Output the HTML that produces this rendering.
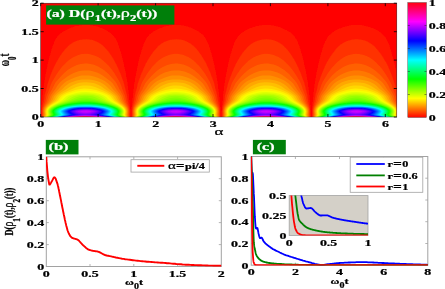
<!DOCTYPE html>
<html><head><meta charset="utf-8"><title>Figure</title>
<style>html,body{margin:0;padding:0;background:#fff}svg{display:block}</style></head><body>
<svg width="445" height="289" viewBox="0 0 445 289" font-family="Liberation Serif, serif" font-weight="bold">
<rect width="445" height="289" fill="#fff"/>
<defs><filter id="bl" x="-5%" y="-5%" width="110%" height="110%"><feGaussianBlur stdDeviation="0.3"/></filter><clipPath id="hc"><rect x="40.7" y="3.2" width="356.1" height="113.8"/></clipPath></defs>
<rect x="40.7" y="3.2" width="356.1" height="113.8" fill="#ff0000"/>
<g clip-path="url(#hc)"><g filter="url(#bl)">
<rect x="40.7" y="3.2" width="356.1" height="113.8" fill="#ff0000"/>
<path fill="#ff1800" fill-rule="evenodd" d="M41.1 117l89.4 0 -0.2 -2 0.1 -4.1 -0.2 -3.3 -0.8 -6.6 -0.4 -5.6 -1.8 -13.7 -1.6 -9.2 -2.4 -11.1 -2.5 -9.4 -2.3 -7.2 -1.7 -4 -1.8 -3.1 -1 -1.3 -1.2 -1.3 -2.8 -2.4 -1.7 -1.3 -2 -1.1 -4.3 -2.1 -4.7 -1.6 -4.8 -1.1 -4.2 -0.6 -4.3 0 -4.2 0.5 -4.3 0.9 -4.7 1.6 -4.3 1.8 -3.7 2.2 -1.5 1.1 -1.5 1.3 -1.8 1.8 -1.5 2 -1.3 2.3 -1.2 2.8 -1.4 3.6 -1.4 4.8 -1.8 6.4 -1.4 5.6 -2.1 10.5 -1.7 9.7 -0.6 5.5 -0.8 6.2 -0.4 5.5 -0.9 6.7 -0.1 3.2 0 4.1zM131.4 117l89.3 0 -0.2 -2 0.1 -4.1 -0.2 -3.3 -0.8 -6.6 -0.4 -5.6 -1.8 -13.7 -1.6 -9.2 -2.4 -11.2 -2.5 -9.3 -2.3 -7.2 -1.7 -4 -1.8 -3.1 -1 -1.3 -1.2 -1.4 -2.8 -2.3 -1.7 -1.3 -2 -1.1 -4.3 -2.1 -4.7 -1.6 -4.8 -1.1 -4.2 -0.6 -4.3 0 -4.2 0.5 -4.3 0.9 -4.7 1.6 -4.2 1.8 -3.8 2.3 -1.5 1.1 -1.5 1.2 -1.7 1.9 -1.5 1.9 -1.4 2.3 -1.2 2.8 -1.4 4 -1.5 4.9 -1.8 6.3 -1.3 5.6 -2.1 10.1 -1.7 9.8 -0.6 5.4 -0.8 6.2 -0.4 5.5 -0.9 6.7 -0.1 3.2 0 4.1zM221.6 117l89.3 0 -0.1 -2 0 -4.1 -0.2 -3.3 -0.8 -6.6 -0.4 -5.6 -1.7 -13.7 -1.7 -9.2 -2.4 -11.2 -2.5 -9.3 -2.3 -7.2 -1.7 -4 -1.8 -3.1 -1 -1.3 -1.2 -1.4 -2.8 -2.4 -1.7 -1.2 -2 -1.1 -4.3 -2.1 -4.7 -1.6 -4.7 -1.1 -4.3 -0.6 -4.2 0 -4.3 0.5 -4.2 0.9 -4.8 1.6 -4.2 1.8 -2 1.1 -1.8 1.2 -1.5 1.1 -1.5 1.2 -1.7 1.9 -1.5 2 -1.3 2.2 -1.3 2.8 -1.4 4 -1.5 4.9 -1.8 6.4 -1.3 5.5 -2.1 10.1 -1.7 9.8 -0.6 5.4 -0.8 6.2 -0.4 5.5 -0.8 6.7 -0.2 3.2 0 4.1zM311.8 117l85 0 0 -41.4 -2.2 -11.1 -2.3 -9 -2.7 -9.2 -1.3 -3.4 -1.1 -2.5 -1.7 -2.8 -2.2 -2.6 -2.7 -2.4 -3.3 -2.1 -4 -1.9 -4.2 -1.6 -4.5 -1.2 -2.3 -0.5 -2.5 -0.3 -4 -0.1 -3.7 0.2 -4.3 0.8 -4.2 1.2 -4.3 1.6 -3.7 1.9 -3.3 2.1 -2.7 2.4 -1.6 1.7 -1.4 2.2 -1.3 2.3 -1.3 3.1 -1.4 4.4 -1.9 6.4 -1.5 5.6 -1.2 5.6 -1.6 7.7 -1.4 8 -1.6 13 -0.5 5.9 -0.9 7.1 -0.1 2.9 0.1 4z"/>
<path fill="#ff3000" fill-rule="evenodd" d="M41.6 117l88.4 0 -0.3 -2 0.1 -4.1 -0.3 -3.2 -1.7 -6.7 -0.8 -5.5 -1.7 -6.2 -1.3 -5.8 -0.6 -1.9 -3 -8.1 -2.5 -5.8 -2.4 -4.9 -2.1 -3.8 -2.5 -3.9 -2.7 -3.8 -2.5 -2.9 -2.3 -2.3 -2.5 -2.1 -2.5 -1.6 -2.5 -1.2 -3.2 -1.1 -3.3 -0.6 -3.2 -0.2 -3.5 0.2 -3.3 0.5 -3 0.9 -3 1.4 -2.7 1.7 -2.8 2.3 -2.5 2.6 -2.7 3.4 -2.8 3.9 -2.2 3.7 -2 3.7 -2.3 4.7 -2.5 5.8 -3.1 8.8 -1.5 6.4 -1.7 6.3 -0.8 5.4 -1.2 4.6 -0.6 2.6 -0.2 2.9 0.1 3.9zM131.8 117l88.4 0 -0.3 -2 0.1 -4.1 -0.3 -3.2 -1.7 -6.7 -0.8 -5.5 -1.7 -6.2 -1.3 -5.8 -0.6 -2 -3 -8 -2.5 -5.8 -2.3 -4.9 -2.2 -3.8 -2.5 -3.9 -2.7 -3.8 -2.5 -3 -2.3 -2.2 -2.5 -2.1 -2.5 -1.6 -2.4 -1.2 -3.3 -1.1 -3.3 -0.6 -3.2 -0.2 -3.5 0.2 -3.3 0.5 -3 0.9 -3 1.4 -2.7 1.7 -2.7 2.3 -2.5 2.6 -2.8 3.4 -2.7 4 -2.3 3.6 -2 3.7 -2.2 4.7 -2.5 5.8 -3.2 8.8 -1.5 6.4 -1.7 6.3 -0.8 5.4 -1.2 4.6 -0.5 2.6 -0.3 2.9 0.1 3.9zM222 117l88.5 0 -0.3 -2 0 -4.1 -0.3 -3.2 -1.7 -6.7 -0.8 -5.5 -1.6 -6.2 -1.3 -5.8 -0.7 -2 -3 -8.1 -2.5 -5.7 -2.3 -4.9 -2.2 -3.8 -2.5 -3.9 -2.7 -3.8 -2.5 -3 -2.3 -2.3 -2.5 -2 -2.4 -1.6 -2.5 -1.2 -3.3 -1.1 -3.2 -0.6 -3.3 -0.2 -3.5 0.2 -3.2 0.5 -3 0.9 -3 1.4 -2.8 1.8 -2.7 2.2 -2.5 2.6 -2.8 3.4 -2.7 4 -2.3 3.6 -2 3.7 -2.2 4.7 -2.5 5.9 -3.2 8.7 -1.5 6.4 -1.7 6.3 -0.7 5.4 -1.3 4.6 -0.5 2.6 -0.3 2.9 0.1 3.9zM312.3 117l84.5 0 0 -24.8 -0.8 -2.9 -1.5 -6.4 -2.9 -8.2 -3.5 -8.1 -2 -4 -1.8 -3.2 -2.2 -3.6 -2.8 -3.8 -2.5 -3.1 -2.2 -2.4 -2.3 -1.9 -2.5 -1.7 -2.5 -1.4 -2.5 -0.9 -3.2 -0.9 -3.3 -0.4 -3.2 0 -3.3 0.4 -3 0.7 -3 1.1 -2.7 1.4 -2.8 1.9 -2.5 2.3 -2.5 2.7 -2.7 3.6 -2.5 3.6 -2.3 3.8 -2 3.8 -2 4.3 -2.3 5.6 -3.1 8.4 -1.4 6.4 -1.7 6.3 -0.8 5.4 -1.2 4.6 -0.6 2.6 -0.2 2.9 0.1 3.9z"/>
<path fill="#ff4800" fill-rule="evenodd" d="M42 117l87.6 0 -0.5 -2 0.2 -3.9 -0.4 -2.9 -0.8 -2.6 -1.2 -2.7 -0.7 -1.9 -1.1 -5.3 -2.7 -6.4 -1.2 -3.7 -1 -2.7 -0.9 -1.6 -3.3 -5.6 -1.8 -2.9 -3 -4.1 -2.5 -3 -2.8 -2.8 -2.5 -2.2 -2.5 -1.9 -2.7 -1.7 -2.5 -1.2 -2.8 -1 -2.7 -0.7 -2.8 -0.4 -3 0 -2.7 0.3 -2.8 0.7 -3 1.1 -2.7 1.3 -2.8 1.8 -2.7 2.1 -2.5 2.3 -3 3.2 -2.5 3.1 -3 4.2 -4.8 8.2 -1.3 2.8 -1.5 4.5 -2.4 5.9 -0.4 1.2 -0.9 4.5 -0.7 1.9 -1.1 2.5 -0.7 2.1 -0.3 1.6 -0.2 1.8 0.1 4.1zM132.3 117l87.5 0 -0.5 -2 0.2 -3.9 -0.4 -2.9 -0.8 -2.6 -1.2 -2.7 -0.7 -1.9 -1.1 -5.3 -2.6 -6.4 -1.3 -3.7 -1 -2.7 -0.9 -1.6 -3.2 -5.6 -1.9 -2.9 -3 -4.1 -2.5 -3 -2.8 -2.8 -2.5 -2.3 -2.5 -1.8 -2.7 -1.7 -2.5 -1.2 -2.8 -1.1 -2.7 -0.6 -2.8 -0.4 -3 0 -3 0.4 -2.7 0.7 -2.8 1 -2.7 1.3 -2.8 1.8 -2.7 2.1 -2.5 2.3 -3 3.2 -2.5 3.1 -3 4.2 -4.8 8.2 -1.2 2.8 -1.5 4.5 -2.5 5.9 -0.4 1.2 -0.9 4.5 -0.7 1.9 -1.1 2.5 -0.7 2.1 -0.3 1.6 -0.2 1.8 0.1 4.1zM222.5 117l87.5 0 -0.4 -2 0.1 -3.9 -0.4 -2.9 -0.8 -2.6 -1.1 -2.7 -0.7 -1.9 -1.2 -5.3 -2.6 -6.4 -1.2 -3.7 -1.1 -2.7 -0.8 -1.6 -3.3 -5.6 -1.9 -3 -3 -4 -2.5 -3 -2.8 -2.8 -2.5 -2.3 -2.5 -1.8 -2.7 -1.7 -2.5 -1.2 -2.7 -1.1 -2.8 -0.6 -2.7 -0.4 -3 0 -3 0.4 -2.8 0.7 -2.7 1 -2.8 1.3 -2.7 1.8 -2.8 2.1 -2.5 2.3 -3 3.2 -2.5 3.1 -3 4.2 -4.8 8.2 -1.2 2.8 -1.5 4.5 -2.5 5.9 -0.4 1.2 -0.9 4.5 -0.7 1.9 -1 2.5 -0.8 2.1 -0.3 1.6 -0.2 1.8 0.1 4.1zM312.7 117l84.1 0 0 -16.3 -0.9 -4.5 -1.3 -3.4 -1.5 -3.5 -1.3 -4 -1.2 -2.8 -4 -7.1 -1.8 -2.7 -2.5 -3.4 -2.2 -2.7 -2.5 -2.7 -2.5 -2.4 -2.5 -2 -2.5 -1.7 -2.8 -1.5 -2.7 -1.1 -2.8 -0.8 -2.7 -0.5 -2.8 -0.2 -2.7 0.2 -2.8 0.5 -2.7 0.9 -2.5 1 -2.8 1.5 -2.7 1.9 -2.5 2 -2.5 2.5 -2.8 3 -2 2.5 -3 4.2 -4.8 8.2 -1.2 2.8 -1.5 4.5 -2.5 5.9 -0.3 1.2 -1 4.5 -0.6 1.9 -1.1 2.5 -0.7 2.1 -0.4 1.6 -0.2 1.8 0.2 4.1z"/>
<path fill="#ff6000" fill-rule="evenodd" d="M42.5 117l86.6 0 -0.6 -2 0.2 -4.1 -0.3 -1.8 -0.4 -1.6 -1 -2.1 -1.4 -2.5 -0.9 -1.9 -0.5 -1.4 -0.8 -3 -0.4 -1.2 -1.6 -2.9 -1.9 -3.2 -1.6 -3.4 -1.5 -2.8 -1.3 -1.8 -4.7 -5.4 -1.5 -1.6 -1.7 -1.6 -3.3 -2.6 -2.5 -1.7 -2.7 -1.6 -2.8 -1.2 -2.7 -1 -2.8 -0.7 -2.7 -0.3 -2.5 -0.1 -2.8 0.2 -2.7 0.6 -2.8 0.8 -2.7 1.1 -2.5 1.3 -2.5 1.5 -2.8 2.1 -2.5 2.1 -2.7 2.7 -4.7 5.4 -1.3 1.8 -1.5 2.8 -1.6 3.4 -1.9 3.2 -1.6 2.9 -0.4 1.2 -0.8 3 -0.4 1.4 -1 1.9 -1.4 2.5 -1 2.1 -0.4 1.6 -0.3 1.8 0.2 4.1zM132.7 117l86.6 0 -0.6 -2 0.2 -4.1 -0.3 -1.8 -0.4 -1.6 -1 -2.1 -1.4 -2.5 -0.9 -1.9 -0.5 -1.4 -0.7 -3 -0.5 -1.2 -1.6 -2.9 -1.9 -3.2 -1.6 -3.5 -1.5 -2.7 -1.3 -1.8 -4.7 -5.4 -1.5 -1.6 -1.7 -1.6 -3.3 -2.6 -2.5 -1.7 -2.7 -1.6 -2.8 -1.3 -2.7 -0.9 -2.8 -0.7 -2.7 -0.3 -2.5 -0.1 -2.8 0.2 -2.7 0.6 -2.8 0.8 -2.7 1.1 -2.5 1.3 -2.5 1.6 -2.7 2 -2.5 2.1 -2.8 2.7 -4.6 5.4 -1.4 1.8 -1.5 2.8 -1.5 3.4 -2 3.3 -1.5 2.8 -0.5 1.2 -0.7 3 -0.5 1.4 -0.9 1.9 -1.5 2.5 -1 2.1 -0.4 1.6 -0.3 1.8 0.2 4.1zM222.9 117l86.7 0 -0.6 -2 0.1 -4.1 -0.2 -1.8 -0.5 -1.6 -0.9 -2.1 -1.5 -2.5 -0.9 -1.9 -0.5 -1.4 -0.7 -3 -0.5 -1.2 -1.6 -2.9 -1.9 -3.2 -1.6 -3.5 -1.5 -2.7 -1.3 -1.8 -4.7 -5.4 -1.5 -1.6 -1.7 -1.6 -3.3 -2.6 -2.5 -1.7 -2.7 -1.6 -2.7 -1.3 -2.8 -0.9 -2.7 -0.7 -2.8 -0.3 -2.5 -0.1 -2.7 0.2 -2.8 0.6 -2.7 0.8 -2.8 1.1 -2.5 1.3 -2.5 1.6 -2.7 2 -2.5 2.1 -2.8 2.7 -4.6 5.4 -1.4 1.8 -1.5 2.8 -1.5 3.4 -2 3.3 -1.5 2.8 -0.5 1.2 -0.7 3 -0.5 1.4 -0.9 1.9 -1.5 2.5 -0.9 2.1 -0.5 1.6 -0.2 1.8 0.1 4.1zM313.2 117l83.6 0 0 -13.1 -0.8 -1.5 -0.8 -1.7 -1.1 -4.1 -0.5 -1.4 -1.5 -2.7 -2 -3.2 -1.3 -3 -1.2 -2.3 -0.9 -1.5 -1.1 -1.5 -5.5 -6.2 -2 -1.9 -2.3 -1.8 -2.7 -2.1 -2.5 -1.5 -2.5 -1.3 -2.8 -1.1 -2.7 -0.8 -2.5 -0.5 -2.8 -0.3 -2.5 0.1 -2.7 0.3 -2.8 0.6 -2.7 1 -2.5 1.1 -2.5 1.3 -2.3 1.5 -2.7 2.1 -2.3 1.9 -2.2 2.2 -4.5 5.2 -1.8 2.4 -1.5 2.7 -1.5 3.4 -1.9 3.2 -1.6 2.9 -0.5 1.2 -0.7 3 -0.5 1.4 -0.9 1.9 -1.4 2.5 -1 2.2 -0.5 1.5 -0.2 1.8 0.2 4.1z"/>
<path fill="#ff7800" fill-rule="evenodd" d="M42.9 117l85.8 0 -0.8 -2 0.2 -4.1 -0.3 -1.8 -0.5 -1.5 -1.3 -2.2 -1.8 -2.5 -1.2 -1.9 -0.6 -1.5 -0.9 -2.9 -0.6 -1.2 -2 -2.9 -2.6 -3.2 -2.4 -4 -1.6 -2.2 -1.6 -1.6 -7.3 -5.6 -2 -1.2 -2.2 -1.2 -2.3 -1 -2.5 -0.8 -2.5 -0.7 -2.7 -0.4 -2.8 -0.2 -2.5 0.1 -2.7 0.3 -2.8 0.5 -2.7 0.9 -2.5 1 -2.5 1.2 -2.5 1.5 -5.8 4.4 -2.1 1.8 -1 1.1 -1.1 1.4 -1.3 1.8 -1.6 2.9 -2.4 3 -1.8 2.4 -0.9 1.7 -1 3.2 -0.6 1.4 -1.2 1.9 -1.9 2.7 -1.4 2.5 -0.4 1.3 -0.2 1.6 0.2 4zM133.2 117l85.7 0 -0.8 -2 0.3 -4.1 -0.4 -1.8 -0.5 -1.5 -1.2 -2.2 -1.9 -2.5 -1.2 -1.9 -0.6 -1.5 -0.9 -2.9 -0.6 -1.2 -2 -2.9 -2.6 -3.2 -2.4 -4.1 -1.7 -2.2 -1.5 -1.5 -7.3 -5.6 -2 -1.2 -2.2 -1.2 -2.5 -1.1 -2.5 -0.8 -2.5 -0.6 -2.8 -0.4 -2.7 -0.2 -2.5 0.1 -2.8 0.3 -2.7 0.6 -2.8 0.9 -2.5 1 -2.5 1.2 -2.2 1.4 -5.7 4.4 -2.2 1.8 -1 1.1 -1.1 1.4 -1.2 1.8 -1.7 2.9 -2.5 3.1 -1.7 2.4 -0.9 1.6 -1 3.2 -0.6 1.4 -1.2 1.9 -1.9 2.7 -1.4 2.5 -0.3 1.3 -0.3 1.6 0.2 4zM223.4 117l85.7 0 -0.7 -2 0.2 -4.1 -0.3 -1.8 -0.6 -1.5 -1.2 -2.2 -1.8 -2.5 -1.2 -1.9 -0.6 -1.5 -0.9 -2.9 -0.6 -1.2 -2.1 -2.9 -2.5 -3.2 -2.5 -4 -1.6 -2.3 -1.6 -1.5 -7.3 -5.6 -2 -1.2 -2.2 -1.2 -2.2 -1 -2.5 -0.8 -2.5 -0.7 -2.8 -0.4 -2.7 -0.2 -2.5 0.1 -2.8 0.3 -2.7 0.5 -2.8 0.9 -2.5 1 -2.5 1.2 -2.5 1.5 -5.7 4.4 -2.1 1.8 -1.1 1.1 -1.1 1.4 -1.2 1.8 -1.7 2.9 -2.4 3 -1.7 2.4 -1 1.7 -1 3.2 -0.6 1.4 -1.2 1.9 -1.9 2.7 -1.3 2.5 -0.4 1.3 -0.3 1.6 0.2 4zM313.6 117l83.2 0 0 -11.4 -1.9 -2.7 -1.2 -1.9 -0.6 -1.5 -0.9 -2.9 -0.6 -1.2 -2 -2.9 -2.6 -3.2 -1.7 -2.9 -1.3 -1.9 -1.4 -1.8 -1.5 -1.5 -7.5 -5.6 -2.3 -1.4 -2.2 -1.1 -2.3 -0.9 -2.5 -0.7 -2.5 -0.6 -2.7 -0.4 -2.5 -0.1 -2.8 0.1 -2.7 0.4 -2.5 0.6 -2.8 0.9 -2.5 1 -2.5 1.3 -2.2 1.4 -5.8 4.4 -2 1.7 -2 2.4 -1.2 1.8 -1.6 2.9 -2.5 3.1 -1.8 2.4 -0.9 1.6 -1 3.2 -0.6 1.4 -1.1 1.9 -2 2.7 -1.3 2.5 -0.4 1.3 -0.3 1.6 0.3 4z"/>
<path fill="#ff8f00" fill-rule="evenodd" d="M43.4 117l84.8 0 -0.5 -0.9 -0.4 -1.1 0.3 -4.1 -0.4 -1.8 -0.6 -1.5 -1.6 -2.2 -2.2 -2.5 -1.4 -1.9 -0.8 -1.5 -1.1 -2.9 -0.7 -1.2 -2.5 -2.9 -3.3 -3.2 -1.6 -2.2 -1.5 -1.8 -1.8 -1.8 -1.4 -1.1 -2 -1.3 -3 -1.5 -4 -1.8 -3 -1 -2.8 -0.8 -2.5 -0.4 -2.5 -0.2 -2.5 0 -2.5 0.2 -2.5 0.5 -2.2 0.6 -2.3 0.7 -3 1.3 -2.7 1.2 -2.3 1.2 -1.7 1.1 -1.5 1.2 -2.6 2.6 -2.6 3.3 -3.2 3.2 -2.5 2.9 -0.7 1.2 -1.1 2.9 -0.8 1.5 -1.4 1.9 -2.4 2.7 -1.1 1.6 -0.5 0.9 -0.5 1.3 -0.3 1.6 0.3 4 -0.4 1.1zM133.6 117l84.8 0 -0.5 -0.9 -0.4 -1.1 0.3 -4.1 -0.4 -1.8 -0.6 -1.5 -1.5 -2.2 -2.2 -2.5 -1.5 -1.9 -0.7 -1.5 -1.1 -2.9 -0.8 -1.2 -2.5 -2.9 -3.3 -3.2 -1.6 -2.2 -1.5 -1.8 -1.8 -1.8 -1.4 -1.1 -2 -1.3 -3 -1.5 -4 -1.8 -3 -1.1 -2.8 -0.7 -2.5 -0.4 -2.5 -0.2 -2.5 0 -2.5 0.2 -2.5 0.5 -2.2 0.6 -2.3 0.7 -3 1.3 -2.7 1.2 -2.2 1.2 -1.8 1.1 -1.5 1.2 -2.6 2.6 -2.6 3.3 -3.1 3.2 -2.6 2.9 -0.7 1.2 -1.1 2.9 -0.7 1.5 -1.5 1.9 -2.3 2.7 -1.2 1.6 -0.5 0.9 -0.4 1.3 -0.3 1.6 0.2 4 -0.4 1.1zM223.8 117l84.9 0 -0.6 -0.9 -0.3 -1.1 0.2 -4.1 -0.4 -1.8 -0.6 -1.5 -1.5 -2.2 -2.2 -2.5 -1.5 -1.9 -0.7 -1.5 -1.1 -2.9 -0.8 -1.2 -2.5 -2.9 -3.2 -3.2 -1.7 -2.2 -1.5 -1.8 -1.7 -1.8 -1.5 -1.1 -2 -1.3 -3 -1.5 -4 -1.8 -3 -1.1 -2.7 -0.7 -2.5 -0.4 -2.5 -0.2 -2.5 0 -2.5 0.2 -2.5 0.5 -2.3 0.6 -2.2 0.7 -3 1.3 -2.8 1.2 -2.2 1.2 -1.8 1.1 -1.5 1.2 -2.5 2.5 -2.6 3.4 -3.2 3.2 -2.5 2.9 -0.8 1.2 -1.1 2.9 -0.7 1.5 -1.5 1.9 -2.3 2.7 -1.2 1.6 -0.5 0.9 -0.4 1.3 -0.3 1.6 0.2 4 -0.3 1.1zM314.1 117l82.7 0 0 -10.1 -1.2 -1.6 -2.1 -2.4 -1.5 -1.9 -0.7 -1.5 -1.1 -2.9 -0.7 -1.2 -2.6 -2.9 -3.2 -3.2 -2.2 -2.9 -1.7 -1.9 -1.7 -1.6 -1.5 -1.1 -2 -1.1 -3.3 -1.6 -4 -1.7 -2.7 -0.9 -3 -0.7 -2.5 -0.3 -2.5 -0.1 -2.5 0.1 -2.5 0.3 -2.3 0.5 -2.5 0.7 -2.5 0.9 -3.2 1.4 -2.5 1.3 -1.8 1 -1.3 0.9 -1.4 1.1 -2.5 2.6 -2.4 3.1 -3.2 3.2 -2.7 3.1 -0.6 1 -1.1 2.9 -0.7 1.5 -1.5 1.9 -2.3 2.7 -1.1 1.6 -0.5 0.9 -0.5 1.3 -0.3 1.6 0.3 4 -0.4 1.1z"/>
<path fill="#ffa700" fill-rule="evenodd" d="M43.8 117l84 0 -0.6 -0.9 -0.5 -1.1 0.3 -3 0 -1.1 -0.5 -1.8 -0.7 -1.6 -1.8 -2.1 -2.6 -2.5 -1.7 -1.9 -0.9 -1.5 -1.3 -2.9 -0.9 -1.2 -3.1 -2.9 -4.7 -3.8 -2 -2 -1.4 -1.2 -2 -1.5 -1.9 -1.1 -1.8 -0.9 -2.3 -0.8 -2.5 -0.7 -2.5 -0.5 -2.7 -0.4 -2.5 -0.2 -2.8 0 -2.5 0.2 -2.7 0.4 -2.8 0.6 -2.7 0.8 -2.3 0.8 -2.6 1.4 -2.6 1.9 -1.3 1.1 -2.7 2.7 -4.5 3.5 -2.1 2 -1 1 -0.6 1 -1.3 3 -0.8 1.2 -1.6 1.8 -2.9 2.7 -1.3 1.7 -0.6 0.9 -0.5 1.3 -0.4 1.6 0.3 4 -0.4 1.1zM134.1 117l83.9 0 -0.6 -0.9 -0.5 -1.1 0.3 -3 0 -1.1 -0.4 -1.8 -0.8 -1.6 -1.7 -2.1 -2.6 -2.5 -1.8 -1.9 -0.9 -1.5 -1.3 -2.9 -0.9 -1.2 -3.1 -2.9 -4.7 -3.8 -1.9 -2 -1.5 -1.2 -2 -1.5 -1.9 -1.1 -1.8 -0.9 -2.3 -0.8 -2.5 -0.7 -2.5 -0.5 -2.7 -0.4 -2.5 -0.2 -2.8 0 -2.5 0.2 -2.7 0.4 -2.8 0.6 -2.7 0.8 -2.3 0.8 -2.6 1.4 -2.6 1.9 -1.3 1.1 -2.7 2.7 -4.5 3.5 -2.1 2 -0.9 1 -0.7 1 -1.3 3 -0.8 1.2 -1.6 1.8 -2.8 2.7 -1.4 1.7 -0.6 0.9 -0.5 1.3 -0.4 1.6 0.3 4 -0.4 1.1zM224.3 117l83.9 0 -0.6 -0.9 -0.5 -1.1 0.4 -3 0 -1.1 -0.5 -1.8 -0.8 -1.6 -1.7 -2.1 -2.6 -2.5 -1.7 -1.9 -0.9 -1.5 -1.4 -2.9 -0.8 -1.2 -3.1 -2.9 -4.8 -3.8 -1.9 -2 -1.5 -1.2 -2 -1.5 -1.9 -1.1 -1.8 -0.9 -2.2 -0.8 -2.5 -0.7 -2.5 -0.5 -2.8 -0.4 -2.5 -0.2 -2.7 0 -2.5 0.2 -2.8 0.4 -2.7 0.6 -2.8 0.8 -2.2 0.8 -2.7 1.4 -2.6 1.9 -1.3 1.1 -2.6 2.7 -4.5 3.5 -2.2 2 -0.9 1 -0.6 1 -1.4 3 -0.8 1.2 -1.6 1.8 -2.8 2.7 -1.4 1.7 -0.6 0.9 -0.5 1.3 -0.4 1.6 0.4 4 -0.5 1.1zM314.5 117l82.3 0 0 -8.9 -0.2 -0.4 -1.9 -2.3 -2.6 -2.5 -1.7 -1.9 -0.9 -1.5 -1.3 -2.9 -0.9 -1.2 -3 -2.8 -3.9 -3.1 -1.5 -1.3 -1.6 -1.7 -1.7 -1.4 -1.8 -1.3 -2 -1.1 -2 -0.9 -2.2 -0.8 -2.5 -0.6 -2.5 -0.5 -2.8 -0.3 -2.7 -0.2 -2.8 0.1 -2.5 0.2 -2.7 0.4 -2.5 0.6 -2.5 0.8 -2.3 0.8 -2.5 1.4 -2.6 1.9 -1.3 1.1 -2.4 2.5 -4.3 3.4 -2.4 2.1 -1 1.1 -0.6 1 -1.4 3 -0.7 1.2 -1.7 1.8 -2.8 2.8 -1.4 1.6 -0.6 0.9 -0.5 1.3 -0.4 1.6 0.4 4 -0.5 1.1z"/>
<path fill="#ffbf00" fill-rule="evenodd" d="M44.3 117l83 0 -0.7 -0.9 -0.5 -1.1 0.4 -3 0 -1.1 -0.6 -1.8 -0.9 -1.6 -2 -2.2 -3 -2.4 -2 -1.9 -1 -1.4 -1.6 -3 -1 -1.1 -3.8 -3 -4.2 -2.6 -1.6 -1 -3.3 -2.4 -2.8 -1.5 -3.6 -1.4 -1.9 -0.5 -2 -0.4 -2.3 -0.3 -2.2 -0.1 -2.5 0 -2.3 0.2 -2.2 0.3 -2 0.5 -2 0.6 -2 0.8 -3.4 1.7 -4 2.9 -4.9 2.9 -3.2 2.4 -1.4 1.3 -0.7 1 -1.5 2.8 -0.9 1.2 -2 1.9 -3.3 2.7 -1.5 1.7 -0.7 0.9 -0.6 1.3 -0.5 1.6 0.1 1 0.3 3 -0.5 1.1zM134.5 117l83 0 -0.7 -0.9 -0.5 -1.1 0.4 -3 0 -1.1 -0.6 -1.8 -0.8 -1.6 -2.1 -2.2 -3 -2.4 -2 -1.9 -1 -1.5 -1.6 -2.9 -1 -1.1 -3.8 -3 -4.2 -2.6 -1.6 -1 -3.3 -2.4 -2.8 -1.5 -3.6 -1.4 -1.9 -0.5 -2 -0.4 -2.3 -0.3 -2.2 -0.1 -2.5 0 -2.3 0.2 -2.2 0.3 -2 0.5 -2 0.6 -2 0.8 -3.4 1.7 -4 2.9 -4.8 2.9 -3.3 2.4 -1.4 1.3 -0.7 1 -1.5 2.8 -0.9 1.2 -2 1.9 -3.2 2.7 -1.6 1.7 -0.7 0.9 -0.6 1.3 -0.4 1.6 0 1 0.3 3 -0.5 1.1zM224.7 117l83.1 0 -0.7 -0.9 -0.6 -1.1 0.4 -3 0 -1.1 -0.5 -1.8 -0.9 -1.6 -2.1 -2.2 -2.9 -2.4 -2.1 -1.9 -1 -1.5 -1.6 -2.9 -0.9 -1.1 -3.9 -3 -4.2 -2.6 -1.6 -1 -3.3 -2.4 -2.8 -1.5 -1.8 -0.8 -1.9 -0.6 -3.8 -0.9 -2.2 -0.3 -2.3 -0.1 -2.5 0 -2.2 0.2 -2.3 0.3 -2 0.5 -2 0.6 -2 0.8 -3.4 1.7 -3.9 2.9 -4.8 2.9 -3.4 2.5 -1.4 1.2 -0.7 1 -1.5 2.8 -0.9 1.2 -2 1.9 -3.2 2.7 -1.6 1.7 -0.7 0.9 -0.6 1.3 -0.4 1.6 0 1 0.4 3 -0.6 1.1zM315 117l81.8 0 0 -7.3 -0.4 -1.1 -0.6 -1 -2.1 -2.2 -3 -2.5 -2 -1.9 -1.1 -1.5 -1.6 -2.9 -0.9 -1.1 -4 -3.1 -4.6 -2.8 -4.4 -3.1 -2.8 -1.5 -1.8 -0.8 -1.9 -0.6 -2 -0.6 -2 -0.3 -2.3 -0.3 -2.2 -0.1 -2.5 0 -2.3 0.2 -2.1 0.4 -2.1 0.5 -2 0.6 -2 0.8 -3.2 1.6 -3.9 2.9 -4.9 3 -3.3 2.4 -1.4 1.2 -0.7 1 -1.5 2.8 -0.9 1.2 -2 1.9 -3.2 2.7 -1.6 1.7 -0.7 0.9 -0.6 1.3 -0.4 1.6 0 1 0.4 3 -0.6 1.1z"/>
<path fill="#ffd700" fill-rule="evenodd" d="M44.8 117l82.1 0 -0.8 -0.9 -0.6 -1.1 0.4 -3 0 -1.1 -0.6 -1.8 -0.9 -1.4 -2.4 -2.3 -3.5 -2.6 -2.3 -1.9 -1.2 -1.4 -1.8 -2.8 -0.8 -0.9 -1.7 -1.3 -3.9 -2.3 -2.4 -1.1 -8.7 -3.9 -2.5 -0.8 -2.8 -0.6 -3.7 -0.4 -3.8 0.1 -3.7 0.7 -3.3 1 -11 5 -4 2.4 -1.9 1.4 -0.7 0.9 -1.8 2.8 -1 1.2 -2.4 1.9 -3.6 2.7 -1.8 1.6 -0.8 0.9 -0.7 1.3 -0.5 1.7 0 1 0.4 3 -0.6 1.1zM135 117l82.1 0 -0.8 -0.9 -0.6 -1.1 0.4 -3 0 -1.1 -0.6 -1.8 -0.9 -1.4 -2.4 -2.3 -3.5 -2.6 -2.3 -1.9 -1.2 -1.4 -1.7 -2.8 -0.9 -0.9 -1.7 -1.3 -3.8 -2.2 -2.5 -1.2 -8.7 -3.9 -2.5 -0.8 -2.8 -0.6 -3.7 -0.4 -3.8 0.1 -3.7 0.7 -3.3 1 -10.9 5 -4.1 2.4 -1.9 1.4 -0.7 0.9 -1.8 2.8 -1 1.2 -2.3 1.9 -3.7 2.7 -1.7 1.6 -0.8 0.9 -0.8 1.3 -0.5 1.7 0 1 0.4 3 -0.5 1.1zM225.2 117l82.1 0 -0.8 -0.9 -0.6 -1.1 0.4 -3 0 -1.1 -0.5 -1.8 -0.9 -1.4 -2.4 -2.3 -3.6 -2.6 -2.3 -1.9 -1.1 -1.4 -1.8 -2.8 -0.9 -0.9 -1.7 -1.3 -3.8 -2.2 -2.5 -1.2 -8.7 -3.9 -2.4 -0.8 -2.8 -0.6 -3.8 -0.4 -3.7 0.1 -3.8 0.7 -3.2 1 -11 5 -4 2.4 -2 1.4 -0.7 0.9 -1.8 2.8 -1 1.2 -2.3 1.9 -3.7 2.7 -1.7 1.6 -0.8 0.9 -0.7 1.3 -0.6 1.7 0.1 1 0.4 3 -0.6 1.1zM315.4 117l81.4 0 0 -0.9 -0.7 -1.1 0.4 -3 0 -1.1 -0.5 -1.8 -0.8 -1.3 -2.5 -2.4 -3.6 -2.6 -2.3 -1.9 -1.1 -1.4 -1.8 -2.8 -0.8 -0.9 -1.8 -1.3 -4 -2.4 -11 -4.9 -2.4 -0.8 -2.8 -0.6 -3.8 -0.4 -3.7 0.1 -3.8 0.7 -3.2 1 -11 5 -4 2.4 -2 1.4 -0.7 0.9 -1.8 2.8 -1 1.2 -2.3 1.9 -3.7 2.7 -1.7 1.6 -0.8 0.9 -0.7 1.3 -0.5 1.7 0 1 0.4 3 -0.6 1.1z"/>
<path fill="#ffef00" fill-rule="evenodd" d="M45.2 117l81.2 0 -0.9 -0.9 -0.6 -1.1 0.4 -3 0 -1 -0.5 -1.7 -0.9 -1.3 -0.9 -1 -2 -1.6 -4 -2.6 -2.6 -1.8 -1.3 -1.4 -2.4 -3.2 -1 -0.8 -1.5 -0.9 -4.6 -2.2 -4.4 -1.6 -3 -0.8 -3 -0.7 -2.5 -0.5 -2.5 -0.2 -3.8 -0.1 -4 0.4 -5.2 1.1 -5 1.6 -3.5 1.4 -3.3 1.6 -1.6 1 -1.1 1 -2.1 2.8 -1.3 1.4 -2.7 1.9 -3.9 2.5 -2.6 2.2 -1.1 1.6 -0.7 1.8 0 1.1 0.4 3 -0.6 1.1zM135.4 117l81.2 0 -0.8 -0.9 -0.7 -1.1 0.4 -3 0.1 -1 -0.6 -1.7 -0.9 -1.3 -0.9 -1 -2 -1.6 -4 -2.6 -2.6 -1.8 -1.3 -1.4 -2.3 -3.1 -1 -0.8 -1.4 -0.9 -4.7 -2.3 -4.3 -1.5 -3 -0.9 -3 -0.7 -2.7 -0.5 -2.3 -0.2 -3.7 -0.1 -4 0.4 -5.3 1.1 -5 1.5 -3.7 1.5 -3.2 1.6 -1.7 1 -1.1 1 -2.1 2.8 -1.3 1.4 -2.6 1.9 -3.9 2.5 -2.7 2.2 -1.1 1.6 -0.7 1.8 0 1.1 0.5 3 -0.7 1.1zM225.6 117l81.3 0 -0.9 -0.9 -0.7 -1.1 0.5 -3 0 -1 -0.6 -1.7 -0.8 -1.3 -1 -1 -2 -1.6 -4 -2.6 -2.5 -1.8 -1.4 -1.4 -2.3 -3.1 -1 -0.8 -1.4 -0.9 -4.7 -2.3 -4.3 -1.5 -5.7 -1.5 -2.7 -0.5 -2.5 -0.3 -3.8 -0.1 -4 0.4 -5.2 1.1 -5 1.5 -3.8 1.5 -3.2 1.6 -1.7 1 -1.1 1 -2.1 2.8 -1.3 1.4 -2.6 1.9 -3.9 2.5 -2.7 2.2 -1.1 1.6 -0.7 1.8 0 1.1 0.5 3 -0.7 1.1zM315.9 117l80.9 0 0 -0.3 -0.6 -0.6 -0.7 -1.1 0.5 -3 0 -1 -0.6 -1.7 -0.8 -1.3 -1 -1 -1.9 -1.6 -4.1 -2.6 -2.5 -1.8 -1.4 -1.4 -2.4 -3.2 -1 -0.8 -1.5 -0.9 -4.5 -2.2 -4.5 -1.6 -3 -0.8 -3 -0.7 -2.5 -0.5 -2.5 -0.2 -3.7 -0.1 -4 0.4 -5.3 1.2 -5 1.5 -3.5 1.4 -3.2 1.6 -1.7 1 -1 1 -2.1 2.8 -1.3 1.4 -2.7 1.9 -3.9 2.5 -2.7 2.2 -1.1 1.6 -0.7 1.8 0.1 1.1 0.4 3 -0.7 1.1z"/>
<path fill="#f7ff00" fill-rule="evenodd" d="M45.7 117l80.3 0 -1 -0.9 -0.7 -1.1 0 -0.5 0.5 -2.5 0 -1 -0.7 -1.7 -0.8 -1.3 -1.1 -1 -2.3 -1.6 -4.5 -2.6 -3.1 -2 -1.4 -1.3 -2.5 -2.8 -1.1 -0.9 -1.6 -0.8 -5.5 -2.2 -4.5 -1.2 -5 -0.7 -4.8 -0.3 -4.7 0.2 -5 0.8 -4.5 1.2 -4.8 1.7 -2.7 1.4 -1.1 0.9 -2.4 2.7 -1.5 1.4 -3 1.9 -4.3 2.4 -3.1 2.3 -0.5 0.6 -0.7 1 -0.7 1.8 0 1.1 0.4 2.5 0.1 0.5 -0.8 1.1zM135.9 117l80.3 0 -1 -0.9 -0.7 -1.1 0 -0.5 0.5 -2.5 0 -1 -0.6 -1.7 -0.9 -1.3 -1.1 -1 -2.3 -1.6 -4.4 -2.6 -3.2 -2 -1.4 -1.3 -2.5 -2.8 -1.1 -0.9 -1.6 -0.8 -5.5 -2.2 -4.5 -1.2 -5 -0.7 -4.8 -0.3 -4.7 0.2 -5 0.8 -4.5 1.2 -4.7 1.7 -2.8 1.4 -1.1 0.9 -2.4 2.7 -1.5 1.4 -3 1.9 -4.3 2.4 -3 2.3 -0.6 0.6 -0.7 1 -0.7 1.8 0 1.1 0.5 2.5 0 0.5 -0.8 1.1zM226.1 117l80.3 0 -1 -0.9 -0.7 -1.1 0 -0.5 0.5 -2.5 0 -1 -0.6 -1.7 -0.9 -1.3 -1.1 -1 -2.3 -1.6 -4.4 -2.6 -3.2 -2 -1.4 -1.3 -2.5 -2.8 -1.1 -0.9 -1.6 -0.8 -5.5 -2.2 -4.5 -1.2 -5 -0.7 -4.7 -0.3 -4.8 0.2 -5 0.8 -4.5 1.2 -4.7 1.7 -2.8 1.4 -1.1 0.9 -2.3 2.7 -1.5 1.4 -3.1 1.9 -4.2 2.4 -3.1 2.3 -0.6 0.6 -0.6 1 -0.8 1.8 0 1.1 0.5 2.5 0 0.5 -0.7 1.1zM316.3 117l80.3 0 -0.9 -0.9 -0.8 -1.1 0 -0.5 0.5 -2.5 0 -1 -0.6 -1.7 -0.9 -1.3 -1 -0.9 -2.3 -1.7 -4.5 -2.6 -3.1 -2 -1.5 -1.3 -2.4 -2.8 -1.2 -0.9 -1.6 -0.8 -5.5 -2.2 -4.5 -1.2 -5 -0.7 -4.7 -0.3 -4.8 0.2 -5 0.8 -4.5 1.2 -4.7 1.7 -2.8 1.4 -1 0.9 -2.4 2.7 -1.5 1.4 -3.1 1.9 -4.2 2.4 -3.1 2.3 -0.6 0.6 -0.6 1 -0.8 1.8 0 1.1 0.5 2.5 0 0.5 -0.7 1.1z"/>
<path fill="#dfff00" fill-rule="evenodd" d="M46.1 117l79.4 0 -1 -0.9 -0.9 -1.1 0.1 -0.5 0.5 -2.5 0 -1 -0.7 -1.7 -1 -1.3 -1.2 -1 -2.5 -1.7 -5 -2.5 -3.3 -1.8 -1.4 -1.1 -1.7 -1.5 -1.2 -1.3 -0.9 -0.7 -1.2 -0.7 -1.7 -0.7 -2.7 -0.9 -3.3 -0.8 -2.5 -0.5 -2.7 -0.4 -5 -0.3 -5 0.2 -4.7 0.7 -5.3 1.4 -2.7 0.9 -2 1 -1 0.7 -2.7 2.7 -1.4 1.1 -3.6 2 -4.9 2.5 -2.4 1.5 -1.1 0.9 -1.2 1.4 -0.8 1.8 0 1.1 0.6 2.5 0 0.5 -0.8 1.1zM136.3 117l79.4 0 -1 -0.9 -0.8 -1.1 0 -0.5 0.5 -2.5 0 -1 -0.7 -1.7 -1 -1.3 -1.1 -1 -2.6 -1.7 -4.9 -2.5 -3.4 -1.8 -1.4 -1.1 -1.7 -1.5 -1.2 -1.3 -0.8 -0.7 -1.3 -0.7 -1.7 -0.7 -2.7 -0.9 -3.3 -0.8 -2.5 -0.5 -2.7 -0.4 -5 -0.3 -5 0.2 -4.7 0.7 -5.3 1.4 -2.7 0.9 -1.9 1 -1.1 0.7 -2.7 2.7 -1.4 1.1 -3.6 2 -4.8 2.5 -2.5 1.5 -1.1 0.9 -1.2 1.4 -0.8 1.8 0.1 1.1 0.5 2.5 0 0.5 -0.8 1.1zM226.6 117l79.3 0 -1 -0.9 -0.8 -1.1 0 -0.5 0.5 -2.5 0.1 -1 -0.7 -1.7 -1.1 -1.3 -1.1 -1 -2.6 -1.7 -4.9 -2.5 -3.3 -1.8 -1.4 -1.1 -1.8 -1.5 -1.2 -1.3 -0.8 -0.7 -1.2 -0.7 -1.8 -0.7 -2.7 -0.9 -3.2 -0.8 -2.5 -0.5 -2.8 -0.4 -5 -0.3 -5 0.2 -4.6 0.7 -5.4 1.4 -2.7 0.9 -1.9 1 -1 0.7 -2.8 2.7 -1.4 1.1 -3.6 2 -4.8 2.5 -2.4 1.5 -1.1 0.9 -1.3 1.4 -0.7 1.8 0 1.1 0.5 2.5 0 0.5 -0.8 1.1zM316.8 117l79.4 0 -1.1 -0.9 -0.8 -1.1 0 -0.5 0.5 -2.5 0.1 -1 -0.7 -1.7 -1.1 -1.3 -1.1 -1 -2.6 -1.7 -4.9 -2.5 -3.3 -1.8 -1.4 -1.1 -1.7 -1.5 -1.3 -1.3 -0.8 -0.7 -1.2 -0.7 -1.7 -0.7 -2.8 -0.9 -3.2 -0.8 -2.5 -0.5 -2.8 -0.4 -5 -0.3 -5 0.2 -4.6 0.7 -5.4 1.4 -2.7 0.9 -1.9 1 -1 0.7 -2.7 2.7 -1.5 1.1 -3.6 2 -4.8 2.5 -2.4 1.5 -1.1 0.9 -1.2 1.4 -0.8 1.8 0 1.1 0.5 2.5 0 0.5 -0.8 1.1z"/>
<path fill="#c7ff00" fill-rule="evenodd" d="M46.6 117l78.4 0 -1.1 -0.9 -0.9 -1.1 0 -0.5 0.6 -2.5 0 -1 -0.7 -1.7 -1.2 -1.3 -1.3 -1 -2.7 -1.7 -8 -3.7 -1.8 -0.9 -1.2 -0.8 -3.7 -3 -1.6 -0.8 -1.7 -0.7 -2 -0.5 -4.8 -0.9 -5.2 -0.5 -5 0.1 -5.3 0.6 -4.7 1 -1.9 0.6 -1.5 0.7 -0.9 0.6 -3.2 2.6 -1.5 1 -4.3 2.1 -5.2 2.4 -2.8 1.6 -1.2 0.9 -1.4 1.4 -0.8 1.8 0 1.1 0.6 2.5 0 0.5 -0.9 1.1zM136.8 117l78.5 0 -1.2 -0.9 -0.9 -1.1 0.1 -0.5 0.5 -2.5 0.1 -1 -0.8 -1.7 -1.1 -1.3 -1.4 -1.1 -2.7 -1.6 -8 -3.7 -1.7 -0.9 -1.3 -0.8 -3.7 -3 -1.6 -0.8 -1.7 -0.7 -2 -0.5 -4.8 -0.9 -5.2 -0.5 -5 0.1 -5.3 0.6 -4.7 1 -1.9 0.6 -1.5 0.7 -0.9 0.6 -3.2 2.6 -1.5 1 -4.3 2.1 -5.2 2.4 -2.7 1.6 -1.3 0.9 -1.3 1.4 -0.9 1.8 0 1.1 0.6 2.5 0 0.5 -0.9 1.1zM227 117l78.5 0 -1.2 -0.9 -0.8 -1.1 0 -0.5 0.6 -2.5 0 -1 -0.8 -1.7 -1.1 -1.3 -1.4 -1.1 -2.7 -1.6 -7.9 -3.7 -1.8 -0.9 -1.3 -0.8 -3.7 -3 -1.6 -0.8 -1.7 -0.7 -2 -0.5 -4.7 -0.9 -5.3 -0.5 -5 0.1 -5.2 0.6 -4.8 1 -1.9 0.6 -1.5 0.7 -0.9 0.6 -3.1 2.6 -1.6 1 -4.2 2.1 -5.3 2.4 -2.7 1.6 -1.3 0.9 -1.3 1.4 -0.9 1.8 0 1.1 0.6 2.5 0 0.5 -0.8 1.1zM317.2 117l78.5 0 -1.1 -0.9 -0.9 -1.1 0 -0.5 0.6 -2.5 0 -1 -0.8 -1.7 -1.1 -1.3 -1.3 -1.1 -2.8 -1.6 -7.9 -3.7 -1.8 -0.9 -1.3 -0.8 -3.7 -3 -1.5 -0.8 -1.8 -0.7 -2 -0.5 -4.7 -0.9 -5.3 -0.5 -5 0.1 -5.2 0.6 -4.8 1 -1.8 0.6 -1.5 0.7 -0.9 0.6 -3.2 2.6 -1.6 1 -4.2 2.1 -5.3 2.4 -2.7 1.6 -1.3 0.9 -1.3 1.4 -0.8 1.8 0 1.1 0.5 2.5 0.1 0.5 -0.9 1.1z"/>
<path fill="#afff00" fill-rule="evenodd" d="M47 117l77.6 0 -1.3 -0.9 -0.9 -1.1 0 -0.5 0.6 -2.5 0.1 -1 -0.3 -0.7 -0.6 -1 -1.2 -1.3 -1.6 -1.1 -3.2 -1.8 -10 -4.1 -2.2 -1.2 -5.1 -3.1 -2.2 -0.8 -3 -0.6 -4.8 -0.5 -5 -0.1 -4.7 0.4 -4.3 0.8 -1.5 0.5 -1.2 0.5 -4.3 2.8 -1.8 1 -5 2.1 -5.7 2.3 -3 1.6 -1.5 1 -1.4 1.4 -0.7 1.2 -0.2 0.6 0 1.1 0.6 2.5 0 0.5 -0.9 1.1zM137.3 117l77.5 0 -1.2 -0.9 -1 -1.1 0 -0.5 0.7 -2.5 0 -1 -0.3 -0.7 -0.5 -1 -1.3 -1.3 -1.6 -1.1 -3.2 -1.8 -10 -4.1 -2.2 -1.2 -5.1 -3.1 -2.2 -0.8 -3 -0.6 -4.8 -0.5 -5 -0.1 -4.7 0.4 -4.3 0.8 -1.5 0.5 -1.2 0.5 -4.3 2.8 -1.8 1 -4.9 2.1 -5.7 2.3 -3 1.6 -1.6 1 -1.4 1.4 -0.6 1.2 -0.3 0.6 0 1.1 0.6 2.5 0 0.5 -0.9 1.1zM227.5 117l77.5 0 -1.2 -0.9 -1 -1.1 0.1 -0.5 0.6 -2.5 0 -1 -0.2 -0.7 -0.6 -1 -1.2 -1.3 -1.7 -1.1 -3.2 -1.8 -10 -4.1 -2.2 -1.2 -5.1 -3.1 -2.2 -0.8 -3 -0.6 -4.7 -0.5 -5 -0.1 -4.8 0.4 -4.2 0.8 -1.5 0.5 -1.2 0.5 -4.4 2.8 -1.8 1 -4.9 2.1 -5.7 2.3 -3 1.6 -1.5 1 -1.5 1.4 -0.6 1.2 -0.3 0.6 0 1.1 0.6 2.5 0.1 0.5 -1 1.1zM317.7 117l77.5 0 -1.2 -0.9 -0.9 -1.1 0 -0.5 0.6 -2.5 0 -1 -0.2 -0.7 -0.6 -1 -1.2 -1.3 -1.6 -1.1 -3.2 -1.8 -10.1 -4.1 -2.1 -1.2 -5.2 -3.1 -2.2 -0.8 -3 -0.6 -4.7 -0.5 -5 -0.1 -4.8 0.4 -4.2 0.8 -1.5 0.5 -1.2 0.5 -4.3 2.8 -1.9 1 -4.9 2.1 -5.7 2.3 -3 1.6 -1.5 1 -1.5 1.4 -0.6 1.2 -0.3 0.6 0 1.1 0.7 2.5 0 0.5 -1 1.1z"/>
<path fill="#97ff00" fill-rule="evenodd" d="M47.5 117l76.6 0 -1.3 -0.9 -1 -1.1 0 -0.5 0.7 -2.5 0 -1 -0.3 -0.7 -0.6 -1 -1.2 -1.2 -1.7 -1.2 -3.5 -1.7 -9 -3.3 -3.9 -1.5 -6.9 -3.1 -1.5 -0.6 -1.7 -0.4 -3.5 -0.4 -3.8 -0.1 -3.7 0.3 -3.3 0.6 -2.2 0.8 -7.4 3.4 -11.6 4.2 -3.3 1.6 -1.6 0.9 -0.8 0.6 -0.9 0.9 -0.7 1.2 -0.3 0.6 0.1 1.1 0.6 2.5 0 0.5 -1 1.1zM137.7 117l76.6 0 -1.3 -0.9 -1 -1.1 0 -0.5 0.7 -2.5 0 -1 -0.3 -0.7 -0.6 -1 -1.2 -1.2 -1.7 -1.2 -3.5 -1.7 -9 -3.3 -3.9 -1.5 -6.9 -3.2 -1.3 -0.4 -1.7 -0.4 -3.5 -0.5 -3.7 -0.1 -3.8 0.3 -3.2 0.5 -2.5 0.9 -7.4 3.4 -11.6 4.2 -3.2 1.6 -1.7 0.9 -0.7 0.6 -0.9 0.9 -0.7 1.2 -0.3 0.6 0 1.1 0.7 2.5 0 0.5 -1.1 1.1zM227.9 117l76.7 0 -1.4 -0.9 -1 -1.1 0 -0.5 0.7 -2.5 0 -1 -0.2 -0.7 -0.7 -1 -1.2 -1.2 -1.7 -1.2 -3.5 -1.7 -9 -3.3 -3.9 -1.5 -6.8 -3.2 -1.4 -0.4 -1.6 -0.4 -3.5 -0.5 -3.8 -0.1 -3.7 0.3 -3.3 0.5 -2.5 0.9 -7.4 3.4 -11.6 4.2 -3.2 1.6 -1.6 0.9 -0.8 0.6 -0.9 0.9 -0.7 1.2 -0.3 0.6 0 1.1 0.7 2.5 0 0.5 -1 1.1zM318.2 117l76.6 0 -1.3 -0.9 -1.1 -1.1 0 -0.5 0.7 -2.5 0 -1 -0.2 -0.7 -0.6 -1 -1.2 -1.3 -1.8 -1.1 -3.5 -1.7 -9 -3.3 -3.8 -1.5 -6.9 -3.2 -1.4 -0.4 -1.6 -0.4 -3.5 -0.5 -3.8 -0.1 -3.7 0.3 -3.3 0.5 -2.4 0.9 -7.5 3.4 -11.5 4.2 -1.8 0.8 -3 1.6 -0.9 0.7 -0.8 0.9 -0.8 1.1 -0.3 0.7 0 1.1 0.7 2.5 0 0.5 -1 1.1z"/>
<path fill="#80ff00" fill-rule="evenodd" d="M48 117l75.7 0 -1.5 -0.9 -1.1 -1.1 0.1 -0.5 0.7 -2.5 0 -0.9 -0.2 -0.6 -0.6 -1 -1.2 -1.2 -1.7 -1.2 -3.5 -1.6 -2.8 -1.1 -4.5 -1.3 -13 -4.2 -4.5 -1 -2.7 -0.4 -2.5 0 -2.5 0.3 -2.8 0.5 -2.7 0.8 -4.9 1.6 -12.6 3.9 -2.8 1.1 -3.5 1.7 -1 0.7 -1 0.9 -0.8 1.1 -0.3 0.8 -0.1 1 0.8 2.6 0 0.5 -1.1 1.1zM138.2 117l75.7 0 -1.4 -0.9 -1.1 -1.1 0 -0.5 0.7 -2.5 0 -0.9 -0.2 -0.6 -0.6 -1 -1.2 -1.2 -1.7 -1.2 -3.5 -1.6 -2.8 -1.1 -4.4 -1.3 -13.1 -4.2 -4.5 -1 -2.7 -0.4 -2.5 0 -2.5 0.3 -2.8 0.5 -2.7 0.8 -4.9 1.6 -12.6 3.9 -2.7 1.1 -3.6 1.7 -1 0.7 -0.9 0.9 -0.8 1.1 -0.4 0.8 -0.1 1 0.8 2.6 0 0.5 -1.1 1.1zM228.4 117l75.7 0 -1.4 -0.9 -1.1 -1.1 0 -0.5 0.7 -2.5 0.1 -0.9 -0.2 -0.6 -0.7 -1 -1.2 -1.2 -1.7 -1.2 -3.5 -1.6 -2.8 -1.1 -4.3 -1.3 -13.1 -4.2 -4.5 -1.1 -2.8 -0.3 -2.5 0 -2.5 0.3 -2.7 0.5 -2.8 0.8 -4.9 1.6 -12.6 3.9 -2.7 1.1 -3.6 1.7 -1 0.7 -0.9 0.9 -0.8 1.1 -0.4 0.8 0 1 0.7 2.6 0 0.5 -1.1 1.1zM318.6 117l75.7 0 -1.4 -0.9 -1.1 -1.1 0 -0.5 0.7 -2.5 0.1 -0.9 -0.2 -0.6 -0.7 -1 -1.1 -1.2 -1.7 -1.1 -3.6 -1.7 -2.7 -1.1 -4.3 -1.3 -13.2 -4.2 -4.3 -1 -2.7 -0.3 -2.5 -0.1 -2.5 0.2 -2.8 0.6 -2.7 0.7 -5.4 1.8 -12.1 3.7 -3 1.2 -3.6 1.7 -1 0.7 -0.9 0.9 -0.8 1.1 -0.4 0.8 0 1 0.7 2.6 0 0.5 -1.1 1.1z"/>
<path fill="#68ff00" fill-rule="evenodd" d="M48.4 117l74.8 0 -1.5 -0.9 -1.2 -1.1 0 -0.5 0.8 -2.5 0.1 -0.8 -0.4 -0.9 -1.2 -1.5 -1.4 -1.1 -2 -1 -3.3 -1.4 -3.8 -1.2 -10.9 -2.8 -5.2 -1.2 -3.5 -0.6 -3 -0.2 -2.8 0.1 -3 0.3 -3.5 0.6 -7.2 1.7 -9 2.4 -3.5 1.2 -4.3 2 -0.9 0.6 -1 0.9 -0.8 1.2 -0.4 0.6 0 1.1 0.8 2.5 0 0.5 -1.2 1.1zM138.6 117l74.8 0 -1.5 -0.9 -1.2 -1.1 0 -0.5 0.8 -2.5 0.1 -0.8 -0.4 -0.9 -1.2 -1.5 -1.4 -1.1 -2 -1 -3.3 -1.4 -3.7 -1.2 -11 -2.8 -5.2 -1.2 -3.5 -0.6 -3 -0.2 -2.8 0.1 -3 0.3 -3.5 0.6 -7.2 1.7 -9 2.4 -3.5 1.2 -4.2 2 -1 0.6 -1 0.9 -0.8 1.2 -0.4 0.6 0 1.1 0.8 2.5 0 0.5 -1.1 1.1zM228.9 117l74.7 0 -1.5 -0.9 -1.2 -1.1 0.1 -0.5 0.7 -2.5 0.1 -0.8 -0.4 -0.9 -1.1 -1.5 -1.5 -1.1 -2 -1 -3.3 -1.4 -3.7 -1.2 -11 -2.8 -5.2 -1.2 -3.5 -0.6 -3 -0.2 -2.7 0.1 -3 0.3 -3.5 0.6 -7.3 1.7 -9 2.4 -3.5 1.2 -4.2 2 -1 0.6 -1 0.9 -0.8 1.2 -0.3 0.6 0 1.1 0.7 2.5 0.1 0.5 -1.2 1.1zM319.1 117l74.8 0 -1.6 -0.9 -1.1 -1.1 0 -0.5 0.7 -2.5 0.1 -0.8 -0.4 -0.9 -1.1 -1.5 -1.4 -1.1 -2 -1 -3.4 -1.4 -3.7 -1.2 -10.9 -2.8 -5.3 -1.2 -3.5 -0.6 -3 -0.2 -2.7 0.1 -3 0.3 -3.5 0.6 -7.3 1.7 -9 2.4 -3.5 1.2 -4.2 2 -0.9 0.6 -1.1 0.9 -0.8 1.2 -0.3 0.6 0 1.1 0.8 2.5 0 0.5 -1.2 1.1z"/>
<path fill="#50ff00" fill-rule="evenodd" d="M48.9 117l73.8 0 -1.6 -0.9 -1.2 -1.1 0 -0.5 0.8 -2.5 0.1 -0.8 -0.4 -0.9 -1 -1.2 -1.3 -1.1 -1.4 -0.8 -3.7 -1.5 -2.6 -0.8 -4.2 -1.2 -7.8 -1.7 -4.7 -0.8 -4.3 -0.5 -3.7 -0.1 -3.8 0.1 -4.2 0.5 -4.8 0.9 -7.7 1.7 -4.3 1.1 -2.1 0.7 -2.6 1.1 -2.5 1.2 -1.7 1.4 -0.8 1.1 -0.3 0.6 0 1 0.8 2.5 0.1 0.5 -1.3 1.1zM139.1 117l73.9 0 -1.7 -0.9 -1.2 -1.1 0 -0.5 0.8 -2.5 0.1 -0.8 -0.4 -0.9 -1 -1.2 -1.2 -1.1 -1.5 -0.8 -3.6 -1.5 -2.7 -0.9 -4.2 -1.1 -7.8 -1.7 -4.7 -0.8 -4.3 -0.5 -3.7 -0.1 -3.8 0.1 -4.2 0.5 -4.5 0.8 -7.7 1.7 -4.5 1.2 -2.2 0.7 -2.6 1.1 -2.5 1.2 -1.7 1.4 -0.8 1.1 -0.3 0.6 0 1 0.9 2.5 0 0.5 -1.3 1.1zM229.3 117l73.9 0 -1.7 -0.9 -1.2 -1.1 0 -0.5 0.8 -2.5 0.1 -0.8 -0.3 -0.9 -1.1 -1.2 -1.2 -1.1 -1.5 -0.8 -3.6 -1.5 -2.7 -0.9 -4.2 -1.1 -7.8 -1.7 -4.7 -0.8 -4.2 -0.5 -3.8 -0.1 -3.7 0.1 -4.3 0.5 -4.5 0.8 -7.7 1.7 -4.3 1.2 -2.2 0.7 -2.5 1 -2.7 1.3 -1.1 0.7 -0.7 0.7 -0.8 1.1 -0.3 0.6 0.1 1 0.8 2.5 0 0.5 -1.3 1.1zM319.5 117l73.9 0 -1.6 -0.9 -1.3 -1.1 0 -0.5 0.8 -2.5 0.1 -0.8 -0.3 -0.9 -1 -1.2 -1.3 -1.1 -1.5 -0.8 -3.6 -1.5 -2.6 -0.9 -4.3 -1.1 -7.7 -1.7 -4.8 -0.8 -4.2 -0.5 -3.8 -0.1 -3.7 0.1 -4.3 0.5 -4.5 0.8 -7.7 1.7 -4.3 1.2 -2.2 0.7 -2.5 1 -2.7 1.3 -1.1 0.7 -0.7 0.7 -0.7 1 -0.4 0.7 0.1 1 0.8 2.5 0 0.5 -1.2 1.1z"/>
<path fill="#38ff00" fill-rule="evenodd" d="M49.4 117l72.9 0 -1.8 -0.9 -1 -0.7 -0.3 -0.4 0 -0.4 0.8 -2.3 0.2 -1 -0.3 -0.8 -1 -1.3 -1.3 -1 -1.3 -0.8 -5.4 -2 -5 -1.3 -7.2 -1.4 -4.8 -0.8 -4.5 -0.4 -4.2 -0.1 -4.5 0.2 -4.8 0.6 -5 0.8 -5.5 1.2 -4.2 1.1 -4.8 1.7 -2.3 1.1 -1.5 1.3 -0.8 1 -0.3 0.6 0 1 0.9 2.5 0 0.5 -0.3 0.4 -1 0.7zM139.6 117l72.9 0 -1.7 -0.9 -1 -0.7 -0.4 -0.4 0 -0.4 0.8 -2.3 0.2 -1 -0.3 -0.8 -1 -1.3 -1.2 -1 -1.4 -0.8 -5.6 -2.1 -5 -1.3 -7.3 -1.4 -4.7 -0.7 -4.5 -0.4 -4.3 -0.1 -4.5 0.3 -4.7 0.5 -5.3 0.9 -5.2 1.1 -4 1.1 -4.7 1.7 -2.4 1.1 -1.5 1.3 -0.8 1 -0.3 0.6 0 1 0.9 2.5 0 0.5 -0.3 0.4 -1 0.7zM229.8 117l72.9 0 -1.7 -0.9 -1 -0.7 -0.4 -0.4 0 -0.4 0.9 -2.3 0.1 -1 -0.2 -0.8 -1.1 -1.3 -1.2 -1 -1.4 -0.8 -5.4 -2 -5 -1.3 -7.2 -1.4 -4.7 -0.8 -4.5 -0.4 -4.3 -0.1 -4.5 0.2 -4.7 0.6 -5 0.8 -5.5 1.2 -4.3 1.1 -4.7 1.7 -2.3 1.1 -1.6 1.3 -0.8 1 -0.3 0.6 0.1 1 0.8 2.5 0.1 0.5 -0.4 0.4 -1 0.7zM320 117l72.9 0 -1.7 -0.9 -1 -0.7 -0.3 -0.4 0 -0.4 0.8 -2.3 0.1 -1 -0.2 -0.8 -1 -1.3 -1.3 -1 -1.4 -0.8 -5.4 -2 -4.9 -1.3 -7.3 -1.4 -4.7 -0.8 -4.5 -0.4 -4.3 -0.1 -4.5 0.2 -4.7 0.6 -5 0.8 -5.5 1.2 -4.3 1.1 -4.7 1.7 -2.3 1.1 -1.6 1.3 -0.8 1 -0.3 0.6 0.1 1 0.9 2.5 0 0.5 -0.4 0.4 -1 0.7z"/>
<path fill="#20ff00" fill-rule="evenodd" d="M49.8 117l72 0 -1.8 -0.9 -1.1 -0.7 -0.4 -0.4 0 -0.4 0.9 -2.3 0.2 -1 -0.3 -0.8 -0.9 -1.1 -1.1 -0.9 -1.4 -0.8 -1.7 -0.8 -3.3 -1.1 -4.2 -1.2 -5.5 -1 -6.5 -1 -5.5 -0.5 -4.5 0 -4.8 0.2 -5 0.6 -6 0.9 -4.5 1 -3.5 0.9 -4.3 1.6 -1.3 0.6 -0.9 0.6 -1.3 1 -0.8 1 -0.2 0.6 0 0.9 1 2.5 0 0.5 -0.4 0.4 -1 0.7zM140 117l72 0 -1.8 -0.9 -1.1 -0.7 -0.3 -0.4 0 -0.4 0.8 -2.3 0.2 -1 -0.3 -0.8 -0.9 -1.1 -1.1 -0.9 -1.4 -0.8 -1.7 -0.8 -3.2 -1.1 -4.3 -1.2 -5.5 -1 -6.5 -1 -5.5 -0.5 -4.5 0 -4.8 0.2 -5 0.6 -5.9 0.9 -4.5 1 -3.5 0.9 -4.4 1.6 -1.2 0.6 -1 0.6 -1.2 1 -0.9 1 -0.2 0.6 0.1 0.9 0.9 2.5 0 0.5 -0.4 0.4 -1 0.7zM230.3 117l71.9 0 -1.8 -0.9 -1.1 -0.7 -0.3 -0.4 0 -0.4 0.8 -2.3 0.2 -1 -0.3 -0.8 -0.9 -1.1 -1.1 -0.9 -1.4 -0.8 -1.7 -0.8 -3.2 -1.1 -4.3 -1.2 -5.5 -1 -6.5 -1 -5.5 -0.5 -4.5 0 -4.7 0.2 -5 0.6 -6 0.9 -4.5 1 -3.5 0.9 -4.3 1.6 -1.3 0.6 -1 0.6 -1.2 1 -0.8 1 -0.3 0.6 0.1 0.9 0.9 2.5 0 0.5 -0.3 0.4 -1.1 0.7zM320.5 117l72 0 -1.9 -0.9 -1 -0.7 -0.4 -0.4 0 -0.4 0.9 -2.3 0.1 -1 -0.2 -0.8 -0.9 -1.1 -1.2 -0.9 -1.3 -0.8 -1.8 -0.8 -3.2 -1.1 -4.3 -1.2 -5.5 -1 -6.5 -1 -5.5 -0.5 -4.5 0 -4.7 0.2 -5 0.6 -6 0.9 -4.5 1 -3.5 0.9 -4.3 1.6 -1.3 0.6 -1 0.6 -1.2 1 -0.8 1 -0.3 0.6 0.1 0.9 0.9 2.5 0 0.5 -0.3 0.4 -1.1 0.7z"/>
<path fill="#08ff00" fill-rule="evenodd" d="M50.3 117l71 0 -1.9 -0.9 -1.1 -0.7 -0.4 -0.4 0 -0.4 0.9 -2.3 0.2 -1 -0.3 -0.7 -0.9 -1.1 -1 -0.9 -1.5 -0.8 -1.7 -0.7 -2.7 -0.9 -4.2 -1.2 -5.3 -1 -6.2 -0.8 -5.8 -0.5 -4.7 -0.1 -5 0.3 -5.8 0.6 -5.2 0.8 -4.8 1 -4 1.1 -3.2 1.2 -2 1.1 -0.7 0.6 -0.8 0.9 -0.4 0.6 -0.2 0.4 0.1 0.8 1 2.5 0 0.5 -0.3 0.4 -1.2 0.7zM140.5 117l71 0 -1.9 -0.9 -1.1 -0.7 -0.4 -0.4 0 -0.4 0.9 -2.3 0.2 -1 -0.2 -0.7 -1 -1.1 -1 -0.9 -1.5 -0.8 -1.6 -0.7 -2.8 -0.9 -4.2 -1.2 -5.3 -1 -6.2 -0.8 -5.8 -0.5 -4.7 -0.1 -5 0.3 -5.8 0.6 -5.2 0.8 -4.7 1 -4 1.1 -3.3 1.2 -2 1.1 -0.7 0.6 -0.8 0.9 -0.4 0.6 -0.1 0.4 0.1 0.8 0.9 2.5 0.1 0.5 -0.4 0.4 -1.1 0.7zM230.7 117l71.1 0 -2 -0.9 -1.1 -0.7 -0.4 -0.4 0 -0.4 0.9 -2.3 0.2 -1 -0.2 -0.7 -0.9 -1.1 -1.1 -0.9 -1.5 -0.8 -1.6 -0.7 -2.8 -0.9 -4.2 -1.2 -5.3 -1 -6.2 -0.8 -5.7 -0.5 -4.8 -0.1 -5 0.3 -5.7 0.6 -5.3 0.8 -4.7 1 -4 1.1 -3.3 1.2 -1.9 1.1 -0.8 0.6 -0.8 0.9 -0.4 0.6 -0.1 0.4 0.1 0.8 1 2.5 0 0.5 -0.4 0.4 -1.1 0.7zM321 117l71 0 -2 -0.9 -1.1 -0.7 -0.4 -0.4 0 -0.4 1 -2.3 0.1 -1 -0.2 -0.7 -0.9 -1.1 -1.1 -0.9 -1.4 -0.8 -1.7 -0.7 -2.7 -0.9 -4.3 -1.2 -5.2 -1 -6.3 -0.8 -5.7 -0.5 -4.8 -0.1 -5 0.3 -5.7 0.6 -5.3 0.8 -4.7 1 -4 1.1 -3.3 1.2 -1.9 1.1 -0.8 0.6 -0.7 0.9 -0.5 0.6 -0.1 0.4 0.1 0.8 1 2.5 0 0.5 -0.4 0.4 -1.1 0.7z"/>
<path fill="#00ff10" fill-rule="evenodd" d="M50.8 117l70 0 -2 -0.9 -1.2 -0.7 -0.4 -0.4 0 -0.4 1 -2.3 0.2 -1 -0.3 -0.7 -0.9 -1 -0.9 -0.8 -1.5 -0.8 -1.6 -0.7 -2.3 -0.8 -4.5 -1.2 -4.7 -0.9 -5.8 -0.8 -5.7 -0.4 -5 -0.1 -5.3 0.2 -5.7 0.5 -5.3 0.8 -4.5 0.9 -4.5 1.3 -2.7 1 -1.9 1 -0.7 0.6 -0.8 0.9 -0.4 0.5 -0.2 0.4 0.2 0.8 1 2.5 0 0.5 -0.4 0.4 -1.2 0.7zM141 117l70.1 0 -2.1 -0.9 -1.2 -0.7 -0.4 -0.4 0 -0.4 1 -2.3 0.2 -1 -0.3 -0.7 -0.9 -1 -1 -0.9 -1.5 -0.8 -1.7 -0.7 -2.2 -0.7 -4.4 -1.2 -5 -1 -5.7 -0.7 -5.8 -0.4 -5 -0.1 -5.2 0.2 -5.5 0.5 -5.5 0.8 -4.5 0.9 -4.5 1.3 -2.5 1 -1.8 1 -0.8 0.6 -0.8 0.9 -0.4 0.5 -0.1 0.4 0.1 0.8 1 2.5 0 0.5 -0.4 0.4 -1.2 0.7zM231.2 117l70.1 0 -2.1 -0.9 -1.2 -0.7 -0.3 -0.4 -0.1 -0.4 1 -2.3 0.2 -1 -0.2 -0.7 -0.9 -1 -1.1 -0.9 -1.5 -0.8 -1.7 -0.7 -2.2 -0.7 -4.4 -1.2 -5 -1 -5.7 -0.7 -5.7 -0.4 -5 -0.1 -5.3 0.2 -5.5 0.5 -5.5 0.8 -4.5 1 -4.5 1.3 -2.5 0.9 -1.8 1 -0.8 0.6 -0.8 0.9 -0.4 0.5 -0.1 0.4 0.1 0.8 1 2.5 0 0.5 -0.3 0.4 -1.2 0.7zM321.4 117l70.1 0 -2 -0.9 -1.2 -0.7 -0.4 -0.4 0 -0.4 0.9 -2.3 0.2 -1 -0.2 -0.7 -0.9 -1 -1.1 -0.9 -1.5 -0.8 -1.7 -0.7 -2.1 -0.7 -4.4 -1.2 -5 -1 -5.8 -0.7 -5.7 -0.4 -5 -0.1 -5.3 0.2 -5.5 0.5 -5.5 0.8 -4.5 1 -4.5 1.3 -2.5 0.9 -1.8 1 -0.8 0.6 -0.8 0.9 -0.3 0.5 -0.2 0.4 0.1 0.8 1 2.5 0.1 0.5 -0.4 0.4 -1.2 0.7z"/>
<path fill="#00ff28" fill-rule="evenodd" d="M51.3 117l69.1 0 -2.2 -0.9 -1.3 -0.7 -0.4 -0.4 0.1 -0.5 0.9 -2 0.3 -1 -0.1 -0.6 -0.6 -0.7 -1.1 -1.1 -1.5 -0.9 -1.6 -0.7 -2.2 -0.7 -4.8 -1.3 -4.5 -0.8 -5.5 -0.7 -5.7 -0.4 -5.3 -0.1 -5.2 0.2 -5.5 0.4 -5.3 0.8 -4 0.8 -4.7 1.3 -2.5 0.9 -1.9 1.1 -1.5 1.3 -0.4 0.9 0.1 0.8 1.1 2.5 0 0.5 -0.4 0.4 -1.3 0.7zM141.5 117l69.1 0 -2.2 -0.9 -1.2 -0.7 -0.4 -0.4 0 -0.5 0.9 -2 0.3 -1 -0.1 -0.6 -0.5 -0.7 -1.1 -1.1 -1.6 -0.9 -1.6 -0.7 -2.2 -0.7 -4.8 -1.3 -4.5 -0.8 -5.5 -0.7 -5.7 -0.4 -5.3 -0.1 -5.2 0.2 -5.5 0.4 -5.2 0.8 -4 0.8 -4.8 1.3 -2.5 0.9 -1.9 1.1 -1.4 1.3 -0.5 0.9 0.1 0.8 1.1 2.5 0 0.5 -0.4 0.4 -1.3 0.7zM231.7 117l69.1 0 -2.1 -0.9 -1.3 -0.7 -0.4 -0.4 0 -0.5 0.9 -2 0.3 -1 -0.1 -0.6 -0.5 -0.7 -1.1 -1.1 -1.5 -0.9 -1.7 -0.7 -2.2 -0.7 -4.8 -1.3 -4.5 -0.8 -5.4 -0.7 -5.8 -0.4 -5.2 -0.1 -5.3 0.2 -5.5 0.4 -5.2 0.8 -4 0.8 -4.8 1.3 -2.5 0.9 -1.8 1.1 -1.5 1.3 -0.5 0.9 0.1 0.8 1.1 2.5 0 0.5 -0.4 0.4 -1.3 0.7zM321.9 117l69.1 0 -2.1 -0.9 -1.3 -0.7 -0.4 -0.4 0 -0.5 0.9 -2 0.3 -1 -0.1 -0.6 -0.5 -0.7 -1.1 -1.1 -1.5 -0.9 -1.6 -0.7 -2.3 -0.7 -4.7 -1.3 -4.5 -0.8 -5.5 -0.7 -5.8 -0.4 -5.2 -0.1 -5.3 0.2 -5.5 0.4 -5.2 0.8 -4 0.8 -4.8 1.3 -2.5 0.9 -1.8 1.1 -1.5 1.3 -0.5 0.9 0.1 0.8 1.1 2.5 0 0.5 -0.4 0.4 -1.2 0.7z"/>
<path fill="#00ff40" fill-rule="evenodd" d="M51.7 117l68.2 0 -2.3 -0.9 -1.3 -0.7 -0.5 -0.4 0.1 -0.5 1 -2 0.2 -0.9 0 -0.7 -0.5 -0.6 -1.2 -1.1 -1.4 -0.8 -1.5 -0.7 -2.1 -0.7 -5 -1.3 -4.2 -0.7 -5.3 -0.7 -5.5 -0.4 -5.2 -0.1 -5.5 0.2 -5.5 0.5 -5 0.7 -3.5 0.7 -5.1 1.3 -2.3 0.8 -1.9 1.1 -1.4 1.2 -0.4 0.5 -0.1 0.4 0.1 0.8 1.1 2.5 0.1 0.5 -0.5 0.4 -1.3 0.7zM142 117l68.1 0 -2.3 -0.9 -1.3 -0.7 -0.4 -0.4 0 -0.5 1 -2 0.2 -0.9 0 -0.7 -0.5 -0.6 -1.1 -1.1 -1.4 -0.8 -1.6 -0.7 -2.1 -0.7 -5 -1.3 -4.2 -0.7 -5.3 -0.7 -5.5 -0.4 -5.2 -0.1 -5.5 0.2 -5.5 0.5 -5 0.7 -3.5 0.7 -5.1 1.3 -2.3 0.8 -1.9 1.1 -1.4 1.2 -0.3 0.5 -0.2 0.4 0.1 0.8 1.2 2.5 0 0.5 -0.4 0.4 -1.4 0.7zM232.2 117l68.1 0 -2.2 -0.9 -1.4 -0.7 -0.4 -0.4 0 -0.5 1 -2 0.3 -0.9 -0.1 -0.7 -0.5 -0.6 -1.1 -1.1 -1.4 -0.8 -1.5 -0.7 -2.1 -0.7 -5.1 -1.3 -4.2 -0.7 -5.2 -0.7 -5.5 -0.4 -5.3 -0.1 -5.5 0.2 -5.5 0.5 -5 0.7 -3.5 0.7 -5.1 1.3 -2.3 0.8 -1.8 1.1 -1.5 1.2 -0.3 0.5 -0.2 0.4 0.1 0.8 1.2 2.5 0 0.5 -0.4 0.4 -1.4 0.7zM322.4 117l68.1 0 -2.2 -0.9 -1.5 -0.8 -0.3 -0.3 0 -0.5 1 -1.9 0.3 -0.9 0 -0.7 -0.5 -0.7 -1.1 -1 -1.3 -0.8 -1.5 -0.7 -2.1 -0.7 -5 -1.3 -4.2 -0.8 -5.3 -0.7 -5.2 -0.4 -5.5 -0.1 -5.5 0.2 -5.5 0.4 -5 0.7 -3.8 0.8 -5 1.3 -2.4 0.8 -1.8 1.1 -1.5 1.2 -0.3 0.5 -0.2 0.4 0.2 0.8 1.1 2.5 0 0.5 -0.4 0.4 -1.3 0.7z"/>
<path fill="#00ff58" fill-rule="evenodd" d="M52.2 117l67.2 0 -2.4 -0.9 -1.5 -0.8 -0.4 -0.3 0.1 -0.5 1 -1.9 0.3 -0.9 0 -0.7 -0.4 -0.6 -1.1 -1 -1.1 -0.7 -1.6 -0.7 -2 -0.7 -5.4 -1.3 -4 -0.8 -5 -0.6 -5.2 -0.4 -5.5 -0.1 -5.3 0.2 -5.2 0.4 -5 0.7 -4.5 0.9 -4 1 -2.3 0.8 -1.9 1 -1.4 1.3 -0.4 0.5 -0.1 0.4 0.2 1 1.2 2.3 0 0.4 -0.5 0.4 -1.4 0.7zM142.4 117l67.2 0 -2.4 -0.9 -1.5 -0.8 -0.4 -0.3 0.1 -0.5 1 -1.9 0.3 -0.9 0 -0.7 -0.4 -0.6 -1.1 -1 -1.1 -0.7 -1.6 -0.7 -2 -0.7 -5.4 -1.3 -3.7 -0.7 -5 -0.7 -5.3 -0.3 -5.5 -0.2 -5.5 0.2 -5.2 0.4 -5 0.7 -4.5 0.9 -4 1 -2.2 0.8 -2 1 -1.4 1.3 -0.4 0.5 -0.1 0.4 0.3 1 1.1 2.3 0 0.4 -0.5 0.4 -1.4 0.7zM232.7 117l67.1 0 -2.3 -0.9 -1.6 -0.8 -0.4 -0.3 0.1 -0.5 1 -1.9 0.3 -0.9 0 -0.7 -0.4 -0.6 -1.1 -1 -1.1 -0.7 -1.6 -0.7 -2 -0.7 -5.4 -1.3 -3.7 -0.7 -5 -0.7 -5.2 -0.3 -5.5 -0.2 -5.5 0.2 -5.3 0.4 -5 0.7 -4.5 0.9 -4 1 -2.2 0.8 -1.9 1 -1.5 1.3 -0.3 0.5 -0.2 0.4 0.3 1 1.1 2.3 0 0.4 -0.5 0.4 -1.4 0.7zM322.9 117l67.2 0 -2.4 -0.9 -1.6 -0.8 -0.3 -0.3 0 -0.5 1 -1.9 0.3 -0.9 0 -0.7 -0.4 -0.6 -1.1 -1 -1 -0.7 -1.6 -0.7 -1.9 -0.7 -5.5 -1.3 -3.8 -0.7 -5 -0.7 -5.2 -0.3 -5.5 -0.2 -5.5 0.2 -5.3 0.4 -5 0.7 -4.5 0.9 -4 1 -2.2 0.8 -1.9 1 -1.5 1.3 -0.3 0.5 -0.1 0.4 0.2 1 1.1 2.3 0 0.4 -0.4 0.4 -1.4 0.7z"/>
<path fill="#00ff70" fill-rule="evenodd" d="M52.7 117l66.2 0 -2.5 -0.9 -1.6 -0.8 -0.4 -0.3 0.1 -0.5 1 -1.9 0.3 -0.9 0.1 -0.6 -0.5 -0.7 -1.2 -1 -0.9 -0.6 -1.7 -0.8 -1.7 -0.5 -4 -1 -5.2 -1 -4.8 -0.6 -5.2 -0.4 -5.5 -0.1 -5.3 0.2 -5.2 0.4 -4.8 0.7 -5 0.9 -3.2 0.8 -2.1 0.8 -2 1 -1.5 1.3 -0.3 0.4 -0.1 0.4 0.3 1 1.2 2.3 0 0.4 -0.5 0.4 -1.5 0.7zM142.9 117l66.2 0 -2.5 -0.9 -1.6 -0.8 -0.4 -0.3 0.1 -0.5 1 -1.9 0.4 -0.9 0 -0.7 -0.5 -0.6 -1.1 -1 -1 -0.6 -1.6 -0.8 -1.8 -0.5 -4 -1 -5.2 -1 -4.8 -0.6 -5.2 -0.4 -5.5 -0.1 -5.3 0.2 -5.2 0.4 -4.8 0.7 -4.9 0.9 -3.2 0.8 -2.2 0.8 -2 1 -1.5 1.3 -0.3 0.4 -0.1 0.4 0.3 1 1.2 2.3 0 0.4 -0.5 0.4 -1.5 0.7zM233.2 117l66.1 0 -2.4 -0.9 -1.5 -0.7 -0.5 -0.4 0 -0.5 1.3 -2.6 0.1 -0.6 -0.1 -0.4 -0.7 -0.8 -1.4 -1.1 -1.8 -0.9 -1.7 -0.6 -3.8 -0.9 -5.5 -1.1 -4.7 -0.6 -5 -0.3 -5.5 -0.2 -5.2 0.2 -5.3 0.4 -5 0.6 -4.7 0.9 -3.5 0.9 -2.2 0.7 -2.1 1.1 -1.5 1.3 -0.3 0.4 -0.1 0.4 0.2 1 1.2 2.3 0 0.4 -0.5 0.4 -1.5 0.7zM323.4 117l66.2 0 -2.5 -0.9 -1.5 -0.7 -0.5 -0.4 0 -0.5 1.4 -2.6 0.1 -0.6 -0.2 -0.4 -0.7 -0.8 -1.4 -1.1 -1.8 -0.9 -1.7 -0.6 -3.7 -0.9 -5.5 -1.1 -4.8 -0.6 -5 -0.3 -5.5 -0.2 -5.2 0.2 -5.3 0.4 -5 0.6 -4.7 0.9 -3.5 0.9 -2.2 0.7 -2.1 1.1 -1.5 1.3 -0.3 0.4 -0.1 0.4 0.2 1 1.2 2.3 0 0.4 -0.5 0.4 -1.4 0.7z"/>
<path fill="#00ff87" fill-rule="evenodd" d="M53.2 117l65.2 0 -2.6 -0.9 -1.6 -0.7 -0.5 -0.4 0.1 -0.5 1.3 -2.5 0.2 -0.6 -0.1 -0.5 -0.6 -0.6 -1.5 -1.2 -1.7 -0.8 -1.6 -0.6 -3.6 -0.9 -5.8 -1.1 -4.5 -0.5 -5 -0.4 -5.2 -0.1 -5.3 0.1 -5.2 0.4 -4.8 0.7 -4.5 0.8 -3.2 0.8 -2.3 0.7 -2 1 -1.6 1.3 -0.3 0.4 -0.1 0.4 0.2 1 1.3 2.3 0 0.4 -0.5 0.4 -1.6 0.7zM143.4 117l65.2 0 -2.6 -0.9 -1.5 -0.7 -0.6 -0.4 0.1 -0.5 1.3 -2.5 0.2 -0.6 -0.1 -0.5 -0.6 -0.6 -1.5 -1.2 -1.5 -0.7 -1.7 -0.7 -3.7 -0.9 -5.8 -1.1 -4.5 -0.5 -5 -0.4 -5.2 -0.1 -5.3 0.1 -5.2 0.4 -4.8 0.7 -4.4 0.8 -3.3 0.8 -2.2 0.7 -2.1 1 -1.6 1.3 -0.3 0.4 -0.1 0.4 0.3 1 1.2 2.3 0 0.4 -0.5 0.4 -1.6 0.7zM233.6 117l65.3 0 -2.7 -0.9 -1.5 -0.7 -0.5 -0.4 0 -0.5 1.4 -2.5 0.1 -0.6 -0.1 -0.5 -0.6 -0.6 -1.5 -1.2 -1.7 -0.8 -1.6 -0.6 -3.6 -0.9 -5.8 -1.1 -4.4 -0.5 -5 -0.4 -5.3 -0.1 -5.2 0.1 -5.3 0.4 -4.7 0.7 -4.5 0.8 -3.3 0.8 -2.2 0.7 -2.1 1 -1.6 1.3 -0.3 0.4 -0.1 0.4 0.3 1 1.2 2.3 0 0.4 -0.5 0.4 -1.5 0.7zM323.9 117l65.2 0 -2.6 -0.9 -1.6 -0.7 -0.5 -0.4 0 -0.5 1.4 -2.5 0.1 -0.6 -0.1 -0.5 -0.6 -0.6 -1.4 -1.2 -1.7 -0.8 -1.7 -0.6 -3.6 -0.9 -5.7 -1.1 -4.5 -0.5 -5 -0.4 -5.3 -0.1 -5.2 0.1 -5.3 0.4 -4.7 0.7 -4.5 0.8 -3.3 0.8 -2.2 0.7 -2.1 1 -1.6 1.3 -0.3 0.4 -0.1 0.4 0.3 1 1.3 2.3 0 0.4 -0.6 0.4 -1.5 0.7z"/>
<path fill="#00ff9f" fill-rule="evenodd" d="M53.7 117l64.2 0 -2.7 -0.9 -1.7 -0.7 -0.5 -0.4 -0.1 -0.1 0.1 -0.4 0.6 -0.9 0.9 -1.6 0.1 -0.6 -0.1 -0.5 -0.6 -0.6 -1.4 -1.1 -1.4 -0.6 -1.8 -0.7 -3.9 -1 -5.7 -1 -4.5 -0.5 -5 -0.3 -5.5 -0.1 -5.3 0.2 -5 0.4 -4.7 0.7 -4 0.7 -2.9 0.7 -2.1 0.8 -1.8 0.9 -1.4 1.1 -0.4 0.4 -0.1 0.4 0.3 1 1.3 2.3 0 0.4 -0.5 0.4 -1.7 0.7zM143.9 117l64.2 0 -2.7 -0.9 -1.6 -0.7 -0.6 -0.4 -0.1 -0.1 0.1 -0.4 0.7 -0.9 0.8 -1.6 0.1 -0.6 -0.1 -0.5 -0.6 -0.6 -1.4 -1.1 -1.4 -0.6 -1.7 -0.7 -4 -1 -5.7 -1 -4.5 -0.5 -5 -0.3 -5.5 -0.1 -5.3 0.2 -5 0.4 -4.7 0.7 -4 0.7 -2.8 0.7 -2.2 0.8 -1.8 0.9 -1.4 1.1 -0.4 0.4 -0.1 0.4 0.3 1 1.4 2.3 0 0.4 -0.6 0.4 -1.6 0.7zM234.1 117l64.3 0 -2.8 -0.9 -1.6 -0.7 -0.6 -0.4 0 -0.1 0.1 -0.4 0.6 -0.9 0.8 -1.6 0.1 -0.6 -0.1 -0.5 -0.6 -0.6 -1.4 -1.1 -1.3 -0.6 -1.8 -0.7 -4 -1 -5.7 -1 -4.5 -0.5 -5 -0.3 -5.5 -0.1 -5.2 0.2 -5 0.4 -4.8 0.7 -4 0.7 -2.8 0.7 -2.2 0.8 -1.8 0.9 -1.4 1.1 -0.3 0.4 -0.1 0.4 0.2 1 1.4 2.3 0 0.4 -0.6 0.4 -1.6 0.7zM324.4 117l64.2 0 -2.8 -0.9 -1.6 -0.7 -0.6 -0.4 0 -0.1 0.1 -0.4 0.6 -0.9 0.8 -1.6 0.2 -0.6 -0.1 -0.5 -0.7 -0.6 -1.4 -1.1 -1.3 -0.6 -1.7 -0.7 -4 -1 -5.8 -1 -4.5 -0.5 -5 -0.3 -5.5 -0.1 -5.2 0.2 -5 0.4 -4.8 0.7 -4 0.7 -2.8 0.7 -2.2 0.8 -1.8 0.9 -1.4 1.1 -0.3 0.4 -0.1 0.4 0.3 1 1.3 2.3 0 0.4 -0.6 0.4 -1.6 0.7z"/>
<path fill="#00ffb7" fill-rule="evenodd" d="M54.2 117l63.2 0 -2.9 -0.9 -1.7 -0.7 -0.6 -0.4 0 -0.1 0.1 -0.4 1.5 -2.5 0.1 -0.5 0 -0.5 -0.6 -0.7 -1.4 -1 -1.2 -0.6 -1.8 -0.7 -3.5 -0.8 -5.2 -0.9 -5.3 -0.7 -5.2 -0.3 -5.5 0 -5.3 0.2 -4.7 0.4 -5.3 0.8 -3.2 0.6 -2.5 0.6 -2.3 0.8 -1.5 0.8 -1.3 1.1 -0.4 0.7 0.3 1 1.4 2.3 0 0.4 -0.6 0.4 -1.7 0.7zM144.4 117l63.2 0 -2.8 -0.9 -1.8 -0.7 -0.5 -0.4 -0.1 -0.1 0.1 -0.4 1.5 -2.5 0.2 -0.5 -0.1 -0.5 -0.6 -0.7 -1.4 -0.9 -1.2 -0.7 -1.5 -0.6 -3.5 -0.9 -5.3 -0.9 -5.2 -0.6 -5.3 -0.4 -5.5 0 -5.2 0.2 -4.8 0.4 -5.2 0.7 -3.2 0.6 -2.7 0.7 -2.1 0.7 -1.7 0.9 -1.4 1.1 -0.4 0.7 0.3 1 1.4 2.3 0 0.4 -0.6 0.4 -1.7 0.7zM234.6 117l63.3 0 -2.9 -0.9 -1.7 -0.7 -0.6 -0.4 -0.1 -0.1 0.1 -0.4 1.5 -2.5 0.2 -0.5 -0.1 -0.5 -0.6 -0.7 -1.4 -1 -2.7 -1.2 -3.5 -0.9 -5.3 -0.9 -5.2 -0.6 -5.2 -0.4 -5.5 0 -5.3 0.2 -4.7 0.4 -5.3 0.7 -3.2 0.6 -2.7 0.7 -2.1 0.7 -1.7 0.9 -1.4 1.1 -0.4 0.7 0.3 1 1.4 2.3 0 0.4 -0.6 0.4 -1.7 0.7zM324.9 117l63.2 0 -2.9 -0.9 -1.7 -0.7 -0.6 -0.4 -0.1 -0.1 0.1 -0.4 1.5 -2.5 0.2 -0.5 -0.1 -0.5 -0.6 -0.7 -1.3 -1 -2.8 -1.2 -3.5 -0.9 -5.2 -0.9 -5.3 -0.6 -5.2 -0.4 -5.5 0 -5.3 0.2 -4.7 0.4 -5.3 0.7 -3.2 0.6 -2.7 0.7 -2.1 0.7 -1.7 0.9 -1.4 1.1 -0.4 0.7 0.3 1 1.4 2.3 0 0.4 -0.5 0.4 -1.8 0.7z"/>
<path fill="#00ffcf" fill-rule="evenodd" d="M54.7 117l62.2 0 -3 -0.9 -1.8 -0.7 -0.6 -0.4 -0.1 -0.1 0.1 -0.4 0.7 -0.9 0.9 -1.6 0.2 -0.5 -0.1 -0.4 -0.5 -0.7 -1.3 -0.9 -1.2 -0.6 -1.5 -0.6 -3.3 -0.9 -4.5 -0.8 -6 -0.7 -5.2 -0.3 -5.3 -0.1 -5 0.2 -4.7 0.4 -5.5 0.8 -3.3 0.6 -2.5 0.6 -2.4 1 -1.6 0.9 -0.9 0.9 -0.1 0.3 0 0.3 0.4 1 1.3 2 0.1 0.5 -0.3 0.2 -0.8 0.3zM144.9 117l62.2 0 -3 -0.9 -1.8 -0.7 -0.6 -0.4 -0.1 -0.1 0.1 -0.4 0.7 -0.9 0.9 -1.6 0.2 -0.5 0 -0.4 -0.6 -0.7 -1.3 -0.9 -1.2 -0.6 -1.5 -0.6 -3.3 -0.9 -4.5 -0.8 -6 -0.7 -5.2 -0.3 -5.3 -0.1 -5 0.2 -4.7 0.4 -5.5 0.8 -3.2 0.6 -2.6 0.6 -2.3 1 -1.6 1 -1 0.8 -0.1 0.3 0 0.3 0.4 1 1.3 2 0.1 0.5 -0.3 0.2 -0.8 0.3zM235.1 117l62.2 0 -3 -0.9 -1.8 -0.7 -0.6 -0.4 -0.1 -0.1 0.2 -0.4 0.6 -0.9 0.9 -1.6 0.2 -0.5 0 -0.4 -0.6 -0.7 -1.3 -0.9 -1.1 -0.6 -1.6 -0.6 -3.3 -0.9 -4.5 -0.8 -5.9 -0.7 -5.3 -0.3 -5.2 -0.1 -5 0.2 -4.8 0.4 -5.5 0.8 -3.2 0.6 -2.5 0.6 -2.4 1 -1.6 1 -0.9 0.8 -0.2 0.3 0 0.3 0.4 1 1.3 2 0.1 0.5 -0.3 0.2 -0.8 0.3zM325.4 117l62.2 0 -3 -0.9 -1.9 -0.7 -0.6 -0.4 0 -0.1 0.1 -0.4 0.7 -0.9 0.8 -1.6 0.2 -0.5 0 -0.4 -0.6 -0.7 -1.3 -0.9 -1.1 -0.6 -1.5 -0.6 -3.1 -0.9 -4.7 -0.8 -6 -0.7 -5.3 -0.3 -5.2 -0.1 -5 0.2 -4.8 0.4 -5.5 0.8 -3.2 0.6 -2.5 0.6 -2.4 1 -1.6 1 -0.9 0.8 -0.2 0.3 0 0.3 0.4 1 1.4 2 0.1 0.5 -0.3 0.2 -0.8 0.3z"/>
<path fill="#00ffe7" fill-rule="evenodd" d="M55.2 117l61.2 0 -3.1 -0.9 -2 -0.7 -0.6 -0.4 -0.1 -0.1 0.1 -0.4 0.8 -0.9 0.9 -1.6 0.2 -0.5 0 -0.4 -0.5 -0.6 -1.4 -1 -2.3 -1 -3.2 -0.9 -4.3 -0.7 -5.7 -0.7 -5.5 -0.4 -5 0 -5 0.1 -5.3 0.5 -5 0.6 -3 0.6 -2.5 0.7 -2.2 0.8 -1.8 1.1 -0.7 0.7 -0.2 0.4 0.1 0.3 0.4 0.9 1.4 2 0.1 0.5 -0.3 0.2 -0.9 0.3zM145.4 117l61.2 0 -3.1 -0.9 -1.9 -0.7 -0.7 -0.4 -0.1 -0.1 0.2 -0.4 0.7 -0.9 0.9 -1.6 0.2 -0.5 0 -0.4 -0.5 -0.6 -1.4 -1 -2.3 -1 -3.2 -0.9 -4.3 -0.7 -5.7 -0.7 -5.5 -0.4 -5 0 -5 0.1 -5.3 0.5 -5 0.6 -3 0.6 -2.4 0.7 -2.3 0.8 -1.7 1.1 -0.8 0.7 -0.2 0.4 0.1 0.3 0.4 0.9 1.4 2 0.1 0.5 -0.3 0.2 -0.9 0.3zM235.7 117l61.1 0 -3.1 -0.9 -1.9 -0.7 -0.7 -0.4 0 -0.1 0.1 -0.4 0.7 -0.9 0.9 -1.6 0.2 -0.5 0 -0.4 -0.5 -0.6 -1.4 -1 -2.3 -1 -3.1 -0.9 -4.4 -0.7 -5.7 -0.7 -5.5 -0.4 -5 0 -5 0.1 -5.2 0.5 -5 0.6 -3.1 0.6 -2.4 0.7 -2.3 0.8 -1.7 1.1 -0.8 0.7 -0.1 0.4 0 0.3 0.4 0.9 1.4 2 0.1 0.5 -0.3 0.2 -0.8 0.3zM325.9 117l61.2 0 -3.2 -0.9 -1.9 -0.7 -0.6 -0.4 -0.1 -0.1 0.1 -0.4 0.7 -0.9 1 -1.6 0.1 -0.5 0 -0.4 -0.5 -0.6 -1.4 -1 -2.2 -0.9 -3 -0.9 -4.3 -0.8 -5.7 -0.7 -5.5 -0.4 -5 0 -5 0.1 -5.5 0.5 -5 0.6 -3 0.6 -2.5 0.7 -2.3 0.8 -1.6 1.1 -0.9 0.7 -0.1 0.4 0 0.3 0.4 0.9 1.4 2 0.1 0.5 -0.3 0.2 -0.8 0.3z"/>
<path fill="#00ffff" fill-rule="evenodd" d="M55.7 117l60.2 0 -3.3 -0.9 -2 -0.7 -0.7 -0.4 -0.1 -0.1 0.1 -0.4 0.8 -0.9 1 -1.5 0.2 -0.5 0 -0.4 -0.4 -0.5 -0.8 -0.6 -1.2 -0.8 -1.5 -0.6 -3.1 -0.9 -4 -0.7 -5.2 -0.6 -5.8 -0.4 -5 -0.1 -5 0.2 -5.5 0.4 -4.7 0.6 -3.3 0.7 -2.3 0.7 -1.9 0.7 -1.7 1 -0.7 0.7 -0.1 0.3 0.1 0.4 0.4 0.9 1.5 1.9 0.1 0.5 -0.4 0.2 -0.6 0.3zM146 117l60.1 0 -3.3 -0.9 -2 -0.7 -0.7 -0.4 -0.1 -0.1 0.2 -0.4 0.7 -0.9 1 -1.5 0.2 -0.5 0 -0.4 -0.3 -0.5 -0.8 -0.6 -1.3 -0.8 -1.4 -0.6 -3.2 -0.9 -4 -0.7 -5.2 -0.6 -5.8 -0.4 -5 -0.1 -5 0.2 -5.5 0.4 -4.7 0.6 -3.2 0.7 -2.4 0.7 -1.9 0.7 -1.7 1 -0.7 0.7 -0.1 0.3 0.1 0.4 0.4 0.9 1.5 1.9 0.1 0.5 -0.3 0.2 -0.7 0.3zM236.2 117l60.1 0 -3.3 -0.9 -2 -0.7 -0.7 -0.4 0 -0.1 0.1 -0.4 0.7 -0.9 1 -1.5 0.2 -0.5 0 -0.4 -0.3 -0.5 -0.8 -0.6 -1.3 -0.8 -1.4 -0.6 -3.2 -0.9 -4 -0.7 -5.2 -0.6 -5.7 -0.4 -5 -0.1 -5 0.2 -5.3 0.4 -4.7 0.6 -3.2 0.6 -2.4 0.7 -2 0.7 -1.7 1.1 -0.8 0.6 -0.1 0.4 0 0.3 0.4 0.9 1.5 2 0.1 0.5 -0.3 0.2 -0.7 0.3zM326.4 117l60.1 0 -3.2 -0.9 -2.1 -0.7 -0.6 -0.4 -0.1 -0.1 0.1 -0.4 0.8 -0.9 0.9 -1.5 0.2 -0.5 0 -0.4 -0.3 -0.5 -0.8 -0.6 -1.3 -0.8 -1.4 -0.6 -3.1 -0.9 -4 -0.7 -5.3 -0.6 -5.7 -0.4 -5 -0.1 -5 0.2 -5.3 0.4 -4.7 0.6 -3.2 0.6 -2.4 0.7 -2 0.7 -1.7 1.1 -0.8 0.6 -0.1 0.4 0 0.3 0.5 1 1.4 1.9 0.1 0.5 -0.3 0.2 -0.6 0.3z"/>
<path fill="#00e7ff" fill-rule="evenodd" d="M56.3 117l59.1 0 -3.5 -0.9 -2.1 -0.7 -0.7 -0.4 -0.1 -0.1 0.1 -0.4 0.8 -0.9 1 -1.5 0.2 -0.5 0.1 -0.4 -0.3 -0.4 -0.7 -0.5 -1.4 -0.9 -1.1 -0.5 -3 -0.9 -3.8 -0.7 -5 -0.6 -5.5 -0.3 -5 -0.1 -5.2 0.1 -5.3 0.4 -4.7 0.6 -3 0.6 -2.5 0.7 -1.8 0.7 -1.7 0.9 -0.7 0.7 -0.1 0.3 0.1 0.4 0.5 0.9 1.5 1.9 0.1 0.5 -0.4 0.2 -0.6 0.3zM146.5 117l59.1 0 -3.5 -0.9 -2.1 -0.7 -0.7 -0.4 -0.1 -0.1 0.2 -0.4 0.8 -0.9 1 -1.5 0.2 -0.5 0 -0.4 -0.3 -0.4 -0.6 -0.5 -1.5 -0.9 -1.1 -0.5 -3 -0.9 -3.8 -0.7 -5 -0.6 -5.5 -0.3 -5 -0.1 -5.2 0.1 -5.3 0.4 -4.7 0.6 -3 0.6 -2.5 0.7 -1.7 0.7 -1.7 0.9 -0.8 0.7 -0.1 0.3 0.1 0.4 0.5 0.9 1.5 1.9 0.1 0.5 -0.3 0.2 -0.7 0.3zM236.7 117l59.1 0 -3.4 -0.9 -2.2 -0.7 -0.7 -0.4 -0.1 -0.1 0.2 -0.4 0.8 -0.9 1 -1.5 0.2 -0.5 0 -0.4 -0.3 -0.4 -0.6 -0.5 -1.4 -0.8 -1.1 -0.5 -3 -1 -3.6 -0.7 -5 -0.6 -5.5 -0.3 -5 -0.1 -5.2 0.1 -5.3 0.4 -4.8 0.6 -3.2 0.6 -2.4 0.6 -1.8 0.7 -1.7 1 -0.7 0.7 -0.1 0.3 0 0.4 0.5 0.9 1.5 1.9 0.1 0.5 -0.3 0.2 -0.7 0.3zM326.9 117l59.1 0 -3.4 -0.9 -2.1 -0.7 -0.8 -0.4 0 -0.1 0.1 -0.4 0.8 -0.9 1 -1.5 0.2 -0.5 0 -0.4 -0.2 -0.4 -0.7 -0.5 -1.3 -0.8 -1.1 -0.5 -3 -1 -3.7 -0.7 -5 -0.6 -5.5 -0.3 -5 -0.1 -5.2 0.1 -5.3 0.4 -4.8 0.6 -3.2 0.6 -2.4 0.6 -1.7 0.7 -1.8 1 -0.7 0.7 -0.1 0.3 0.1 0.4 0.4 0.9 1.5 1.9 0.2 0.5 -0.4 0.2 -0.7 0.3z"/>
<path fill="#00cfff" fill-rule="evenodd" d="M56.8 117l58 0 -3.6 -0.9 -2.2 -0.7 -0.8 -0.4 0 -0.1 0.1 -0.4 0.8 -0.9 1.1 -1.5 0.2 -0.5 0.1 -0.4 -0.3 -0.4 -0.6 -0.5 -2.4 -1.2 -3.2 -1 -3.3 -0.6 -4.8 -0.6 -5.2 -0.3 -5 -0.1 -5.3 0.1 -5.2 0.4 -4.5 0.5 -2.8 0.5 -2.7 0.8 -1.5 0.6 -1.8 1 -0.7 0.6 0 0.3 0 0.4 0.5 0.9 1.6 1.9 0.1 0.5 -0.3 0.2 -0.8 0.3zM147 117l58.1 0 -3.6 -0.9 -2.3 -0.7 -0.7 -0.4 -0.1 -0.1 0.1 -0.4 0.9 -0.9 1 -1.5 0.2 -0.5 0.1 -0.4 -0.3 -0.4 -0.6 -0.5 -2.4 -1.2 -3.2 -1 -3.3 -0.6 -4.8 -0.6 -5.2 -0.3 -5 -0.1 -5.3 0.1 -5.2 0.4 -4.5 0.5 -2.7 0.5 -2.8 0.8 -1.5 0.6 -1.8 1 -0.6 0.6 -0.1 0.3 0 0.4 0.5 0.9 1.6 1.9 0.2 0.5 -0.4 0.2 -0.7 0.3zM237.2 117l58.1 0 -3.6 -0.9 -2.3 -0.7 -0.7 -0.4 -0.1 -0.1 0.1 -0.4 0.9 -0.9 1 -1.5 0.3 -0.5 0 -0.4 -0.3 -0.4 -0.5 -0.5 -2.5 -1.2 -3.2 -1 -3.3 -0.6 -4.7 -0.6 -5.3 -0.3 -5 -0.1 -5.2 0.1 -5.3 0.4 -4.5 0.5 -2.7 0.6 -2.7 0.7 -1.6 0.6 -1.8 1 -0.6 0.6 -0.1 0.3 0.1 0.4 0.4 0.9 1.7 1.9 0.1 0.5 -0.4 0.2 -0.7 0.3zM327.4 117l58.1 0 -3.6 -0.9 -2.2 -0.7 -0.8 -0.4 -0.1 -0.1 0.2 -0.4 0.8 -0.9 1.1 -1.5 0.2 -0.5 0 -0.4 -0.3 -0.4 -0.5 -0.5 -2.5 -1.2 -3.1 -1 -3.4 -0.6 -4.7 -0.6 -5.3 -0.3 -5 -0.1 -5.2 0.1 -5.3 0.4 -4.5 0.5 -2.7 0.6 -2.7 0.7 -1.6 0.6 -1.8 1 -0.6 0.6 -0.1 0.3 0.1 0.4 0.5 0.9 1.6 1.9 0.1 0.5 -0.4 0.2 -0.7 0.3z"/>
<path fill="#00b7ff" fill-rule="evenodd" d="M57.3 117l57 0 -3.8 -0.9 -2.3 -0.7 -0.8 -0.4 -0.1 -0.1 0.1 -0.3 1.9 -2.3 0.3 -0.5 0.1 -0.5 -0.1 -0.4 -0.5 -0.4 -2.3 -1.2 -2.9 -0.9 -3.2 -0.7 -4.5 -0.5 -5 -0.4 -5.3 -0.1 -5.2 0.1 -5 0.3 -4.5 0.6 -2.8 0.5 -2.5 0.7 -1.5 0.6 -1.9 1 -0.6 0.6 0.1 0.7 1.3 1.8 0.9 0.9 0.1 0.5 -0.4 0.2 -0.8 0.3zM147.5 117l57 0 -3.7 -0.9 -2.4 -0.7 -0.8 -0.4 -0.1 -0.1 0.1 -0.3 2 -2.3 0.2 -0.5 0.1 -0.5 -0.1 -0.4 -0.5 -0.4 -2.2 -1.2 -3 -0.9 -3.2 -0.7 -4.5 -0.5 -5 -0.4 -5.3 -0.1 -5.2 0.1 -5 0.3 -4.5 0.6 -2.7 0.5 -2.5 0.7 -1.6 0.6 -1.9 1 -0.5 0.6 0 0.7 1.3 1.8 0.9 0.9 0.1 0.5 -0.4 0.2 -0.7 0.3zM237.8 117l56.9 0 -3.7 -0.9 -2.4 -0.7 -0.8 -0.4 -0.1 -0.1 0.1 -0.3 2 -2.3 0.3 -0.5 0.1 -0.5 -0.2 -0.4 -0.5 -0.4 -2.2 -1.2 -3 -0.9 -3.2 -0.7 -4.5 -0.5 -5 -0.4 -5.2 -0.1 -5.3 0.1 -5 0.3 -4.5 0.6 -2.7 0.5 -2.5 0.7 -1.6 0.6 -1.8 1 -0.6 0.6 0 0.7 1.3 1.8 0.9 0.9 0.2 0.5 -0.4 0.2 -0.8 0.3zM328 117l57 0 -3.8 -0.9 -2.4 -0.7 -0.8 -0.4 -0.1 -0.1 0.1 -0.3 2 -2.3 0.3 -0.5 0.1 -0.5 -0.2 -0.4 -0.4 -0.4 -2.3 -1.2 -2.9 -0.9 -3.3 -0.7 -4.5 -0.5 -5 -0.4 -5.2 -0.1 -5.3 0.1 -5 0.3 -4.5 0.6 -2.7 0.5 -2.5 0.7 -1.5 0.6 -1.9 1 -0.6 0.6 0.1 0.7 1.2 1.8 0.9 0.9 0.2 0.5 -0.4 0.2 -0.8 0.3z"/>
<path fill="#009fff" fill-rule="evenodd" d="M57.9 117l55.9 0 -4 -0.9 -2.5 -0.7 -0.8 -0.4 -0.1 -0.1 0.1 -0.3 1 -1 1.1 -1.3 0.3 -0.5 0.1 -0.5 -0.2 -0.4 -0.5 -0.4 -2 -1 -2.5 -0.9 -3.6 -0.7 -4 -0.5 -4.8 -0.4 -5 -0.1 -5.2 0.1 -5 0.3 -4.3 0.5 -2.5 0.5 -2.7 0.7 -1.4 0.5 -2 1 -0.6 0.6 0.1 0.7 1.3 1.8 1 0.9 0.1 0.5 -0.4 0.2 -0.8 0.3zM148.1 117l55.9 0 -3.9 -0.9 -2.5 -0.7 -0.9 -0.4 -0.1 -0.1 0.1 -0.3 1 -1 1.1 -1.3 0.3 -0.5 0.1 -0.5 -0.2 -0.4 -0.5 -0.4 -2 -1 -2.5 -0.9 -3.6 -0.7 -4 -0.5 -4.8 -0.4 -5 -0.1 -5.2 0.1 -5 0.3 -4.3 0.5 -2.5 0.5 -2.7 0.7 -1.4 0.5 -2 1 -0.6 0.6 0.1 0.7 1.3 1.8 1 0.9 0.1 0.5 -0.4 0.2 -0.8 0.3zM238.3 117l55.9 0 -3.9 -0.9 -2.5 -0.7 -0.9 -0.4 -0.1 -0.1 0.1 -0.3 1 -1 1.1 -1.3 0.3 -0.5 0.1 -0.5 -0.1 -0.4 -0.6 -0.4 -1.9 -1 -2.6 -0.9 -3.6 -0.7 -4 -0.5 -4.7 -0.4 -5 -0.1 -5.3 0.1 -5 0.3 -4.2 0.5 -2.5 0.5 -2.8 0.7 -1.4 0.5 -1.9 1 -0.7 0.6 0.1 0.7 1.4 1.8 0.9 0.9 0.2 0.5 -0.5 0.2 -0.8 0.3zM328.5 117l55.9 0 -3.9 -0.9 -2.5 -0.7 -0.9 -0.4 -0.1 -0.1 0.1 -0.3 1.1 -1 1 -1.3 0.3 -0.5 0.1 -0.5 -0.1 -0.4 -0.5 -0.4 -2 -1 -2.6 -0.9 -3.6 -0.7 -4 -0.5 -4.7 -0.4 -5 -0.1 -5.3 0.1 -5 0.3 -4.2 0.5 -2.5 0.5 -2.8 0.7 -1.3 0.5 -2 1 -0.7 0.6 0.1 0.7 1.4 1.8 0.9 0.9 0.2 0.5 -0.5 0.2 -0.8 0.3z"/>
<path fill="#0087ff" fill-rule="evenodd" d="M58.4 117l54.8 0 -6.4 -1.5 -0.9 -0.3 -0.4 -0.2 0.1 -0.5 1 -0.9 1.2 -1.3 0.3 -0.5 0.1 -0.4 -0.1 -0.4 -0.4 -0.4 -1.9 -0.9 -2.5 -0.9 -3.6 -0.8 -3.8 -0.5 -4.5 -0.3 -5 -0.1 -5 0.1 -4.7 0.3 -4.3 0.5 -3 0.5 -2.5 0.7 -2.3 1.1 -1 0.6 -0.2 0.5 0.2 0.6 1.4 1.6 1 0.9 0.2 0.4 -0.1 0.1 -1 0.4 -2.6 0.7zM148.6 117l54.8 0 -6.4 -1.5 -0.9 -0.3 -0.4 -0.2 0.1 -0.5 1.1 -0.9 1.1 -1.3 0.3 -0.5 0.1 -0.4 -0.1 -0.4 -0.4 -0.4 -1.9 -0.9 -2.5 -0.9 -3.6 -0.8 -3.8 -0.5 -4.5 -0.3 -5 -0.1 -5 0.1 -4.7 0.3 -4.3 0.5 -3 0.5 -2.4 0.7 -2.4 1.1 -1 0.6 -0.2 0.5 0.2 0.6 1.4 1.6 1 0.9 0.2 0.4 -0.1 0.1 -0.9 0.4 -2.7 0.7zM238.8 117l54.9 0 -6.5 -1.5 -0.8 -0.3 -0.5 -0.2 0.2 -0.5 1 -0.9 1.1 -1.3 0.3 -0.5 0.1 -0.4 -0.1 -0.4 -0.4 -0.4 -1.9 -0.9 -2.5 -0.9 -3.5 -0.8 -3.8 -0.5 -4.5 -0.3 -5 -0.1 -5 0.1 -4.8 0.3 -4.2 0.5 -3 0.5 -2.5 0.7 -2.4 1.1 -1 0.6 -0.1 0.5 0.2 0.6 1.3 1.6 1 0.9 0.2 0.4 -0.1 0.1 -0.9 0.4 -2.6 0.7zM329.1 117l54.8 0 -6.5 -1.5 -0.8 -0.3 -0.5 -0.2 0.2 -0.5 1 -0.9 1.1 -1.3 0.3 -0.5 0.2 -0.4 -0.1 -0.4 -0.4 -0.3 -1.8 -1 -2.3 -0.8 -3.5 -0.8 -3.7 -0.5 -4.8 -0.4 -5 -0.1 -5 0.1 -5 0.3 -4.2 0.5 -3 0.5 -2.5 0.7 -2.4 1.1 -1 0.6 -0.1 0.5 0.2 0.6 1.3 1.6 1.1 0.9 0.1 0.4 -0.1 0.1 -0.9 0.4 -2.6 0.7z"/>
<path fill="#0070ff" fill-rule="evenodd" d="M59 117l53.7 0 -6.8 -1.5 -0.9 -0.3 -0.5 -0.2 0.2 -0.5 1 -0.9 1.2 -1.3 0.5 -0.8 0 -0.4 -0.4 -0.3 -1.8 -1 -2.4 -0.8 -3.6 -0.8 -3.5 -0.5 -4.3 -0.3 -4.7 -0.1 -5 0 -4.8 0.3 -4 0.5 -2.7 0.5 -2.3 0.6 -2.4 1.1 -1.1 0.6 -0.2 0.5 0.2 0.6 1.5 1.6 1.1 0.9 0.1 0.4 -0.1 0.1 -1 0.4 -2.7 0.7zM149.2 117l53.7 0 -6.8 -1.5 -0.9 -0.3 -0.5 -0.2 0.2 -0.5 1.1 -0.9 1.2 -1.3 0.4 -0.8 0 -0.4 -0.3 -0.3 -1.7 -0.9 -2.3 -0.8 -3.4 -0.8 -3.5 -0.5 -4.3 -0.4 -5 -0.1 -5 0 -4.7 0.3 -4 0.5 -3 0.5 -2.2 0.6 -2.5 1.1 -1.1 0.6 -0.2 0.5 0.3 0.6 1.4 1.6 1.1 0.9 0.2 0.4 -0.2 0.1 -0.9 0.4 -2.8 0.7zM239.4 117l53.7 0 -6.8 -1.5 -0.9 -0.3 -0.5 -0.2 0.2 -0.5 1.1 -0.9 1.2 -1.3 0.4 -0.8 0 -0.4 -0.3 -0.3 -1.7 -0.9 -2.2 -0.8 -3.5 -0.8 -3.5 -0.5 -4.2 -0.4 -5 -0.1 -5 0 -4.8 0.3 -4 0.5 -2.9 0.5 -2.3 0.6 -2.5 1.1 -1.1 0.6 -0.1 0.5 0.2 0.6 1.4 1.6 1.1 0.9 0.2 0.4 -0.1 0.1 -1 0.4 -2.8 0.7zM329.6 117l53.7 0 -6.7 -1.5 -1 -0.3 -0.4 -0.2 0.1 -0.5 1.1 -0.9 1.2 -1.3 0.5 -0.8 -0.1 -0.4 -0.3 -0.3 -1.6 -0.9 -2.3 -0.8 -3.5 -0.8 -3.5 -0.5 -4.2 -0.4 -5 -0.1 -5 0 -4.8 0.3 -4 0.5 -2.9 0.5 -2.3 0.6 -2.5 1.1 -1 0.6 -0.2 0.5 0.2 0.6 1.4 1.6 1.1 0.9 0.2 0.4 -0.1 0.1 -1 0.4 -2.8 0.7z"/>
<path fill="#0058ff" fill-rule="evenodd" d="M59.5 117l52.6 0 -7.5 -1.6 -1.1 -0.4 0.2 -0.5 1.1 -0.9 1.2 -1.2 0.6 -0.9 0 -0.3 -0.3 -0.3 -1.6 -0.9 -2.3 -0.8 -3 -0.7 -3.5 -0.5 -4.2 -0.4 -4.8 -0.1 -4.7 0 -4.5 0.3 -4 0.5 -2.8 0.5 -2.2 0.5 -2.5 1 -1.1 0.7 -0.1 0.5 0.3 0.5 1.5 1.6 1.2 0.9 0.2 0.4 -0.2 0.1 -1.4 0.5zM149.7 117l52.6 0 -7.4 -1.6 -1.2 -0.4 0.2 -0.5 1.1 -0.9 1.2 -1.2 0.6 -0.9 0 -0.3 -0.3 -0.3 -1.6 -0.9 -2.3 -0.8 -3 -0.7 -3.5 -0.5 -4.2 -0.4 -4.8 -0.1 -4.7 0 -4.5 0.3 -4 0.5 -2.8 0.5 -2.2 0.5 -2.5 1 -1 0.7 -0.1 0.5 0.2 0.5 1.5 1.6 1.2 0.9 0.2 0.4 -0.1 0.1 -1.5 0.5zM240 117l52.5 0 -7.4 -1.6 -1.2 -0.4 0.2 -0.5 1.2 -0.9 1.2 -1.2 0.5 -0.9 0 -0.3 -0.3 -0.3 -1.6 -0.9 -2.3 -0.8 -3 -0.7 -3.4 -0.5 -4.3 -0.4 -4.7 -0.1 -4.8 0 -4.5 0.3 -4 0.5 -2.7 0.5 -2.3 0.5 -2.5 1 -1 0.7 -0.1 0.5 0.3 0.5 1.4 1.6 1.2 0.9 0.2 0.4 -0.1 0.1 -1.4 0.5zM330.2 117l52.6 0 -7.5 -1.6 -1.2 -0.4 0.2 -0.5 1.2 -0.9 1.2 -1.2 0.5 -0.9 0 -0.3 -0.2 -0.3 -1.7 -0.9 -2.2 -0.8 -3 -0.7 -3.5 -0.5 -4.3 -0.4 -4.7 -0.1 -4.8 0 -4.5 0.3 -4 0.5 -2.7 0.5 -2.3 0.5 -2.5 1 -1 0.7 -0.1 0.5 0.3 0.5 1.5 1.6 1.1 0.9 0.2 0.4 -0.1 0.1 -1.4 0.5z"/>
<path fill="#0040ff" fill-rule="evenodd" d="M60.1 117l51.4 0 -7.8 -1.6 -1.3 -0.4 0.2 -0.5 1.2 -0.8 1.1 -1.1 0.8 -1 0 -0.3 -0.2 -0.4 -1.3 -0.7 -2.4 -0.9 -2.6 -0.6 -3.8 -0.5 -4 -0.4 -4.5 -0.1 -4.7 0 -4.5 0.3 -3.7 0.5 -2.6 0.4 -2 0.5 -2.3 0.9 -1.1 0.7 -0.1 0.5 0.3 0.5 1.6 1.6 1.2 0.9 0.2 0.4 -0.1 0.1 -1.5 0.5zM150.3 117l51.5 0 -7.9 -1.6 -1.3 -0.4 0.2 -0.5 1.2 -0.8 1.1 -1.1 0.8 -1 0.1 -0.3 -0.2 -0.4 -1.4 -0.7 -2.4 -0.9 -2.6 -0.6 -3.8 -0.5 -4 -0.4 -4.5 -0.1 -4.7 0 -4.5 0.3 -3.7 0.5 -2.6 0.4 -2 0.6 -2.3 0.8 -1.1 0.7 -0.1 0.5 0.3 0.5 1.6 1.6 1.2 0.9 0.2 0.4 -0.1 0.1 -1.5 0.5zM240.5 117l51.5 0 -7.9 -1.6 -1.2 -0.4 0.1 -0.5 1.2 -0.8 1.1 -1.1 0.8 -1 0.1 -0.3 -0.2 -0.4 -1.4 -0.7 -2.4 -0.9 -2.6 -0.6 -3.7 -0.5 -4 -0.4 -4.5 -0.1 -4.8 0 -4.5 0.3 -3.7 0.5 -2.5 0.4 -2 0.6 -2.4 0.8 -1.1 0.7 -0.1 0.5 0.3 0.5 1.6 1.6 1.3 0.9 0.2 0.4 -0.2 0.1 -1.5 0.5zM330.7 117l51.5 0 -7.9 -1.6 -1.2 -0.4 0.2 -0.5 1.1 -0.8 1.2 -1.1 0.7 -1 0.1 -0.3 -0.2 -0.4 -1.4 -0.7 -2.4 -0.9 -2.6 -0.6 -3.7 -0.5 -4 -0.4 -4.5 -0.1 -4.8 0 -4.5 0.3 -3.7 0.5 -2.5 0.4 -2 0.6 -2.4 0.8 -1 0.7 -0.1 0.5 0.2 0.5 1.6 1.6 1.3 0.9 0.2 0.4 -0.1 0.1 -1.6 0.5z"/>
<path fill="#0028ff" fill-rule="evenodd" d="M60.7 117l50.3 0 -8.4 -1.6 -1.3 -0.4 0 -0.2 0.2 -0.3 1.4 -1 1.4 -1.2 0.5 -0.6 0.1 -0.4 -0.2 -0.3 -1 -0.6 -2.5 -0.9 -2.5 -0.6 -3.5 -0.5 -4 -0.4 -4.5 -0.1 -4.5 0 -4 0.3 -3.8 0.4 -2.3 0.5 -1.9 0.5 -2.3 0.8 -0.7 0.4 -0.4 0.3 0 0.4 0.4 0.6 1.6 1.5 1.3 0.9 0.3 0.4 -0.2 0.1 -1.2 0.4zM150.9 117l50.3 0 -8.4 -1.6 -1.3 -0.4 0 -0.2 0.2 -0.3 1.4 -1 1.4 -1.2 0.5 -0.6 0.1 -0.4 -0.2 -0.3 -1 -0.6 -2.5 -0.9 -2.5 -0.6 -3.5 -0.5 -4 -0.4 -4.5 -0.1 -4.5 0 -4 0.3 -3.8 0.4 -2.2 0.5 -2 0.5 -2.3 0.8 -0.7 0.4 -0.4 0.3 0 0.4 0.4 0.6 1.6 1.5 1.4 0.9 0.2 0.4 -0.2 0.1 -1.2 0.4zM241.1 117l50.3 0 -8.3 -1.6 -1.4 -0.4 0 -0.2 0.2 -0.3 1.4 -1 1.4 -1.2 0.5 -0.6 0.1 -0.4 -0.1 -0.3 -1.1 -0.6 -2.5 -0.9 -2.5 -0.6 -3.5 -0.5 -4 -0.4 -4.5 -0.1 -4.5 0 -4 0.3 -3.7 0.5 -2.3 0.4 -2 0.5 -2.3 0.8 -0.7 0.4 -0.3 0.3 -0.1 0.4 0.4 0.6 1.6 1.5 1.4 0.9 0.2 0.4 -0.1 0.1 -1.3 0.4zM331.3 117l50.3 0 -8.3 -1.6 -1.4 -0.4 0 -0.2 0.2 -0.3 1.5 -1 1.4 -1.2 0.4 -0.6 0.1 -0.4 -0.1 -0.3 -1.1 -0.6 -2.5 -0.9 -2.5 -0.6 -3.5 -0.5 -4 -0.4 -4.5 -0.1 -4.5 0 -4 0.3 -3.7 0.5 -2.3 0.4 -2 0.5 -2.3 0.8 -0.6 0.4 -0.4 0.3 0 0.4 0.3 0.6 1.6 1.5 1.4 0.9 0.2 0.4 -0.1 0.1 -1.2 0.4z"/>
<path fill="#0010ff" fill-rule="evenodd" d="M61.3 117l49.1 0 -8.9 -1.6 -1.4 -0.4 0 -0.2 0.2 -0.3 1.5 -0.9 1.4 -1.1 0.5 -0.6 0.2 -0.4 0 -0.3 -0.2 -0.3 -0.5 -0.3 -3 -1 -2 -0.5 -3.3 -0.5 -4 -0.4 -4 -0.1 -4.2 0 -4 0.3 -3.8 0.4 -2.5 0.5 -2 0.6 -1.8 0.6 -0.9 0.6 0 0.4 0.4 0.6 1.7 1.5 1.5 0.9 0.3 0.4 -0.2 0.1 -1.3 0.4zM151.5 117l49.1 0 -8.8 -1.6 -1.5 -0.4 0 -0.2 0.2 -0.3 1.5 -0.9 1.4 -1.1 0.5 -0.6 0.2 -0.4 0 -0.3 -0.2 -0.3 -0.5 -0.3 -3 -1 -2 -0.5 -3.3 -0.5 -4 -0.4 -4 -0.1 -4.2 0 -4 0.3 -3.8 0.4 -2.5 0.5 -2 0.6 -1.7 0.6 -0.9 0.6 -0.1 0.4 0.4 0.6 1.8 1.5 1.5 0.9 0.2 0.4 -0.2 0.1 -1.3 0.4zM241.7 117l49.1 0 -8.8 -1.6 -1.5 -0.4 0 -0.2 0.2 -0.3 1.5 -0.9 1.4 -1.1 0.6 -0.6 0.1 -0.4 0.1 -0.3 -0.2 -0.3 -0.6 -0.3 -2.9 -1 -2.1 -0.5 -3.2 -0.5 -4 -0.4 -4 -0.1 -4.3 0 -4 0.3 -3.7 0.4 -2.5 0.5 -2 0.6 -1.8 0.6 -0.9 0.6 0 0.4 0.3 0.6 1.8 1.5 1.5 0.9 0.2 0.4 -0.1 0.1 -1.4 0.4zM331.9 117l49.1 0 -8.8 -1.6 -1.5 -0.4 0 -0.2 0.2 -0.3 1.5 -0.9 1.4 -1.1 0.6 -0.6 0.2 -0.4 0 -0.3 -0.2 -0.3 -0.6 -0.3 -2.9 -1 -2.1 -0.5 -3.2 -0.5 -4 -0.4 -4 -0.1 -4.3 0 -4 0.3 -3.7 0.4 -2.5 0.5 -2 0.6 -1.8 0.6 -0.9 0.6 0 0.4 0.4 0.6 1.7 1.5 1.5 0.9 0.2 0.4 -0.1 0.1 -1.4 0.4z"/>
<path fill="#0800ff" fill-rule="evenodd" d="M61.9 117l47.9 0 -9.9 -1.7 -1.2 -0.3 0 -0.2 0.3 -0.3 1.6 -0.9 2 -1.6 0.3 -0.4 0.1 -0.3 -0.4 -0.4 -1.6 -0.7 -3.2 -0.9 -2.9 -0.5 -3.5 -0.3 -4 -0.2 -4 0 -4 0.3 -3.7 0.4 -2.3 0.4 -2.7 0.8 -1.4 0.5 -0.6 0.5 0.1 0.5 0.4 0.5 1.8 1.4 1.6 0.9 0.3 0.3 0 0.2 -1.2 0.3zM152.1 117l47.9 0 -9.9 -1.7 -1.1 -0.3 0 -0.2 0.2 -0.3 1.7 -0.9 1.9 -1.6 0.3 -0.4 0.1 -0.3 -0.4 -0.4 -1.6 -0.7 -3.1 -0.9 -3 -0.5 -3.5 -0.3 -4 -0.2 -4 0 -4 0.3 -3.7 0.4 -2.5 0.5 -2.5 0.7 -1.4 0.5 -0.6 0.5 0 0.4 0.5 0.6 1.8 1.4 1.6 0.9 0.3 0.3 0 0.2 -1.2 0.3zM242.3 117l47.9 0 -9.8 -1.7 -1.2 -0.3 0 -0.2 0.2 -0.3 1.7 -0.9 1.9 -1.6 0.4 -0.4 0 -0.3 -0.3 -0.4 -1.7 -0.7 -3.1 -0.9 -2.9 -0.5 -3.5 -0.3 -4 -0.2 -4 0 -4 0.3 -3.8 0.4 -2.5 0.5 -2.5 0.7 -1.4 0.5 -0.6 0.5 0 0.4 0.5 0.6 1.8 1.4 1.7 0.9 0.2 0.3 0 0.2 -1.2 0.3zM332.5 117l47.9 0 -9.8 -1.7 -1.2 -0.3 0 -0.2 0.3 -0.3 1.6 -0.9 2 -1.6 0.3 -0.4 0 -0.3 -0.3 -0.4 -1.7 -0.7 -3.1 -0.9 -2.9 -0.5 -3.5 -0.3 -4 -0.2 -4 0 -4 0.3 -3.8 0.4 -2.5 0.5 -2.5 0.7 -1.3 0.5 -0.7 0.5 0.1 0.5 0.5 0.6 1.7 1.3 1.7 0.9 0.2 0.3 0 0.2 -1.1 0.3z"/>
<path fill="#2000ff" fill-rule="evenodd" d="M62.5 117l46.7 0 -10.6 -1.7 -1.3 -0.3 0 -0.2 0.3 -0.3 1.8 -0.9 2 -1.4 0.5 -0.7 0.1 -0.2 -0.2 -0.3 -0.5 -0.3 -0.9 -0.4 -3.3 -0.8 -2.7 -0.5 -3.2 -0.3 -3.8 -0.1 -4 0 -3.7 0.2 -3.5 0.4 -2 0.4 -2.7 0.7 -1.3 0.5 -0.5 0.4 0.1 0.5 0.5 0.6 1.9 1.3 1.8 0.9 0.3 0.3 0 0.2 -1.3 0.3zM152.7 117l46.7 0 -10.6 -1.7 -1.3 -0.3 0 -0.2 0.3 -0.3 1.8 -0.9 2 -1.4 0.6 -0.7 0 -0.2 -0.2 -0.3 -0.5 -0.3 -0.9 -0.4 -3.3 -0.8 -2.7 -0.5 -3.2 -0.3 -3.8 -0.1 -4 0 -3.7 0.2 -3.5 0.4 -2 0.4 -2.6 0.7 -1.4 0.5 -0.5 0.4 0.1 0.5 0.6 0.6 1.8 1.3 1.9 0.9 0.2 0.3 0 0.2 -1.3 0.3zM242.9 117l46.7 0 -10.6 -1.7 -1.3 -0.3 0 -0.2 0.3 -0.3 1.9 -0.9 1.9 -1.4 0.6 -0.7 0 -0.2 -0.1 -0.3 -0.6 -0.3 -0.9 -0.4 -3.2 -0.8 -2.7 -0.5 -3.3 -0.3 -3.7 -0.1 -4 0 -4 0.2 -3.3 0.4 -2 0.4 -2.6 0.7 -1.4 0.5 -0.5 0.4 0.1 0.5 0.6 0.6 1.8 1.3 1.9 0.9 0.3 0.3 0 0.2 -1.4 0.3zM333.1 117l46.7 0 -10.5 -1.7 -1.3 -0.3 -0.1 -0.2 0.3 -0.3 1.9 -0.9 1.9 -1.4 0.6 -0.6 0 -0.3 0 -0.2 -0.5 -0.3 -0.8 -0.4 -3.2 -0.8 -2.5 -0.5 -3.3 -0.3 -3.7 -0.2 -4 0 -4 0.2 -3.5 0.4 -2.3 0.4 -2.6 0.7 -1.4 0.5 -0.5 0.4 0.1 0.5 0.6 0.6 1.9 1.3 1.8 0.9 0.3 0.3 0 0.2 -1.3 0.3z"/>
<path fill="#3800ff" fill-rule="evenodd" d="M63.1 117l45.4 0 -11.3 -1.7 -1.6 -0.3 0 -0.2 0.4 -0.3 1.9 -0.8 2 -1.2 0.7 -0.5 0.3 -0.5 -0.1 -0.4 -0.3 -0.2 -1.8 -0.7 -3.3 -0.7 -3.5 -0.5 -3.7 -0.2 -3.8 0 -3.9 0.2 -3.3 0.3 -2.5 0.5 -2.3 0.6 -1.3 0.5 -0.4 0.4 0.2 0.5 0.7 0.6 1.9 1.2 2.2 0.9 0.3 0.3 0 0.2 -1.5 0.3zM153.3 117l45.4 0 -11.3 -1.7 -1.5 -0.3 0 -0.2 0.3 -0.3 1.9 -0.8 2 -1.2 0.7 -0.5 0.3 -0.5 -0.1 -0.4 -0.3 -0.2 -1.8 -0.7 -3.3 -0.7 -3.5 -0.5 -3.7 -0.2 -3.8 0 -3.9 0.2 -3.3 0.3 -2.5 0.5 -2.3 0.6 -1.2 0.5 -0.5 0.4 0.2 0.5 0.7 0.6 2 1.2 2.1 0.9 0.3 0.3 0 0.2 -1.5 0.3zM243.5 117l45.5 0 -11.4 -1.7 -1.5 -0.3 0 -0.2 0.3 -0.3 2 -0.8 1.9 -1.2 0.8 -0.6 0.2 -0.5 0 -0.3 -0.5 -0.3 -2 -0.7 -3.4 -0.7 -3.3 -0.4 -3.7 -0.2 -3.8 0 -3.7 0.2 -3.3 0.3 -2.5 0.5 -2.2 0.6 -1.3 0.5 -0.5 0.4 0.2 0.5 0.7 0.6 2.1 1.3 2 0.8 0.3 0.3 0 0.2 -1.5 0.3zM333.8 117l45.4 0 -11.4 -1.7 -1.5 -0.3 0 -0.2 0.3 -0.3 2 -0.8 2 -1.2 0.7 -0.6 0.3 -0.5 -0.1 -0.3 -0.4 -0.2 -1.9 -0.7 -3.4 -0.8 -3.2 -0.4 -3.8 -0.2 -3.7 0 -4 0.2 -3.3 0.3 -2.5 0.5 -2.2 0.6 -1.3 0.5 -0.4 0.4 0.2 0.5 0.6 0.6 2.1 1.3 2 0.8 0.3 0.3 0 0.2 -1.5 0.3z"/>
<path fill="#5000ff" fill-rule="evenodd" d="M63.7 117l44.2 0 -13 -1.8 -1.3 -0.2 0 -0.2 0.3 -0.2 2.5 -0.9 1.8 -0.9 0.9 -0.6 0.5 -0.5 0.2 -0.3 -0.1 -0.3 -0.4 -0.2 -0.9 -0.4 -3 -0.7 -3.4 -0.5 -3.6 -0.2 -3.5 -0.1 -3.5 0.2 -3.2 0.3 -4.7 0.9 -1.2 0.5 -0.5 0.4 0.1 0.2 0.2 0.4 0.9 0.6 2.2 1.2 2.5 0.9 0.3 0.2 0 0.2 -1.3 0.2zM154 117l44.1 0 -13 -1.8 -1.2 -0.2 0 -0.2 0.2 -0.2 2.5 -0.9 1.8 -0.9 0.9 -0.6 0.5 -0.5 0.2 -0.3 -0.1 -0.3 -0.4 -0.2 -0.9 -0.4 -3 -0.7 -3.4 -0.5 -3.6 -0.2 -3.5 -0.1 -3.5 0.2 -3.2 0.3 -4.7 0.9 -1.2 0.5 -0.4 0.4 0 0.2 0.3 0.4 0.8 0.6 2.2 1.2 2.6 0.9 0.2 0.2 0 0.2 -1.2 0.2zM244.2 117l44.1 0 -13 -1.8 -1.2 -0.2 0 -0.2 0.2 -0.2 2.5 -0.9 1.8 -0.9 0.9 -0.6 0.6 -0.5 0.1 -0.3 -0.1 -0.3 -0.4 -0.2 -0.9 -0.4 -2.9 -0.7 -3.5 -0.5 -3.3 -0.2 -3.7 -0.1 -3.5 0.2 -3.3 0.3 -4.7 0.9 -1.1 0.5 -0.5 0.4 0 0.2 0.3 0.4 0.8 0.6 2.2 1.2 2.6 0.9 0.2 0.2 0 0.2 -1.2 0.2zM334.4 117l44.1 0 -13 -1.8 -1.2 -0.2 0 -0.2 0.2 -0.2 2.6 -0.9 1.7 -0.9 0.9 -0.6 0.6 -0.5 0.1 -0.3 -0.1 -0.3 -0.3 -0.2 -0.9 -0.4 -3 -0.7 -3.5 -0.5 -3.3 -0.2 -3.7 -0.1 -3.5 0.2 -3.3 0.3 -4.6 0.9 -1.2 0.5 -0.5 0.4 0.1 0.2 0.2 0.4 0.8 0.6 2.2 1.2 2.6 0.9 0.2 0.2 0 0.2 -1.2 0.2z"/>
<path fill="#6800ff" fill-rule="evenodd" d="M64.4 117l42.8 0 -8.5 -1.2 -7.7 -0.8 -0.1 -0.1 0.1 -0.1 0.3 -0.2 3.6 -1 3 -1.5 0.5 -0.4 0.1 -0.4 -0.2 -0.3 -0.5 -0.2 -2.4 -0.6 -3.7 -0.6 -3.3 -0.2 -3.7 -0.1 -3.5 0.2 -3 0.3 -2.5 0.5 -1.6 0.4 -0.9 0.4 -0.1 0.2 0 0.2 0.6 0.6 1.5 0.8 2 0.8 3.1 0.9 0.4 0.2 0 0.1 0 0.1 -7.8 0.8zM154.6 117l42.9 0 -8.6 -1.2 -7.7 -0.8 -0.1 -0.1 0.1 -0.1 0.3 -0.2 3.6 -1 3 -1.5 0.5 -0.4 0.2 -0.4 -0.3 -0.3 -0.5 -0.2 -2.4 -0.6 -3.7 -0.6 -3.3 -0.2 -3.7 -0.1 -3.5 0.2 -3 0.3 -2.5 0.5 -1.6 0.4 -0.9 0.4 -0.1 0.2 0.1 0.2 0.6 0.6 1.4 0.8 2 0.8 3.1 0.9 0.4 0.2 0 0.1 0 0.1 -7.8 0.8zM244.8 117l42.9 0 -8.6 -1.2 -7.7 -0.8 -0.1 -0.1 0.1 -0.1 0.4 -0.2 3.5 -1 3 -1.5 0.5 -0.4 0.2 -0.4 -0.2 -0.3 -0.6 -0.2 -2.3 -0.6 -3.8 -0.6 -3.2 -0.2 -3.8 -0.1 -3.5 0.2 -3 0.3 -2.4 0.5 -1.7 0.4 -0.9 0.4 -0.1 0.2 0.1 0.2 0.6 0.6 1.4 0.8 2 0.8 3.1 0.9 0.4 0.2 0.1 0.1 -0.1 0.1 -7.7 0.8zM335 117l42.9 0 -8.6 -1.2 -7.7 -0.8 -0.1 -0.1 0.1 -0.1 0.4 -0.2 3.5 -1 3.1 -1.5 0.4 -0.4 0.2 -0.4 -0.2 -0.3 -0.5 -0.2 -2.4 -0.6 -3.8 -0.6 -3.2 -0.2 -3.8 -0.1 -3.5 0.2 -3 0.3 -2.4 0.5 -1.7 0.4 -0.9 0.4 -0.1 0.2 0.1 0.2 0.6 0.6 1.4 0.8 2 0.8 3.1 0.9 0.4 0.2 0.1 0.1 -0.1 0.1 -7.7 0.8z"/>
<path fill="#8000ff" fill-rule="evenodd" d="M65.1 117l41.5 0 -3.9 -0.5 -9 -1 -5 -0.3 -3.5 -0.1 -4 0.2 -5.5 0.4zM155.3 117l41.5 0 -3.9 -0.5 -9 -1 -5 -0.3 -3.5 -0.1 -4 0.2 -5.5 0.4zM245.5 117l41.5 0 -3.9 -0.5 -9 -1 -5 -0.3 -3.5 -0.1 -4 0.2 -5.5 0.4zM335.7 117l41.5 0 -3.9 -0.5 -9 -1 -5 -0.3 -3.5 -0.1 -4 0.2 -5.5 0.4zM84.2 114.4l3.5 0 4.2 -0.6 1.1 -0.3 2.4 -0.9 1 -0.5 0.7 -0.5 0.1 -0.3 -0.3 -0.3 -1.9 -0.6 -3.6 -0.5 -4 -0.3 -4 0.1 -4 0.3 -3.5 0.6 -0.9 0.3 -0.5 0.3 0.1 0.4 0.6 0.5 1.2 0.6 2.2 0.8 2.3 0.5zM174.5 114.4l3.4 0 4.2 -0.6 1.2 -0.3 2.3 -0.9 1 -0.5 0.7 -0.5 0.1 -0.3 -0.2 -0.3 -2 -0.6 -3.3 -0.5 -4 -0.3 -4 0 -4.3 0.4 -3.5 0.6 -0.8 0.3 -0.6 0.3 0.1 0.4 0.6 0.5 1.2 0.6 2.2 0.8 2.3 0.5zM264.7 114.4l3.4 0 4.3 -0.6 1.1 -0.3 2.4 -0.9 1 -0.5 0.6 -0.5 0.1 -0.3 -0.2 -0.3 -2 -0.6 -3.3 -0.5 -4 -0.3 -4 0 -4.2 0.4 -3.5 0.6 -1 0.3 -0.5 0.3 0.1 0.4 0.6 0.5 1.3 0.6 2.1 0.8 2.4 0.5zM354.9 114.4l3.4 0 4.3 -0.6 1.1 -0.3 2.5 -0.9 1 -0.6 0.5 -0.4 0.1 -0.3 -0.2 -0.3 -1.9 -0.6 -3.4 -0.5 -4 -0.3 -4 0 -4.2 0.4 -3.5 0.6 -1 0.3 -0.5 0.3 0.1 0.4 0.7 0.5 1.2 0.6 2.1 0.8 2.4 0.5z"/>
<path fill="#9700ff" fill-rule="evenodd" d="M65.7 117l40.2 0 -3.5 -0.4 -9.5 -1 -4.2 -0.2 -4 -0.1 -4 0.2 -4.3 0.3zM156 117l40.1 0 -3.5 -0.4 -9.5 -1 -4.2 -0.2 -4 -0.1 -4 0.2 -4.3 0.3zM246.2 117l40.1 0 -3.5 -0.4 -9.4 -1 -4.3 -0.2 -4 -0.1 -4 0.2 -4.2 0.3zM336.4 117l40.1 0 -3.4 -0.4 -9.3 -1 -4.2 -0.2 -4 -0.1 -4.3 0.2 -4 0.3zM84.6 113.8l3.1 0 2.5 -0.3 3.7 -1 1.2 -0.5 0.5 -0.5 0.1 -0.2 -0.3 -0.3 -1.7 -0.5 -3 -0.4 -3.5 -0.2 -3.5 0.1 -3.5 0.2 -2.9 0.5 -0.9 0.2 -0.4 0.3 0 0.3 0.4 0.4 2 0.8 3.3 0.8zM174.8 113.8l3.1 0 2.5 -0.3 3.7 -1 1.2 -0.5 0.5 -0.5 0.1 -0.2 -0.3 -0.3 -1.7 -0.5 -3 -0.4 -3.5 -0.2 -3.5 0.1 -3.5 0.2 -2.9 0.5 -0.8 0.2 -0.5 0.3 0.1 0.3 0.3 0.4 2 0.8 3.3 0.8zM265.1 113.8l3 0 2.5 -0.3 3.8 -1 1.1 -0.5 0.5 -0.5 0.1 -0.2 -0.3 -0.3 -1.7 -0.5 -3 -0.4 -3.5 -0.2 -3.5 0.1 -3.5 0.2 -2.9 0.5 -0.8 0.2 -0.5 0.3 0.1 0.3 0.4 0.4 2 0.8 3.2 0.8zM355.3 113.8l3 0 2.5 -0.3 3.8 -1 1.1 -0.5 0.5 -0.5 0.1 -0.2 -0.3 -0.3 -1.4 -0.4 -3 -0.4 -3.5 -0.3 -3.8 0.1 -3.5 0.2 -2.8 0.5 -0.9 0.2 -0.4 0.3 0 0.3 0.4 0.4 2 0.8 3.2 0.8z"/>
<path fill="#af00ff" fill-rule="evenodd" d="M66.5 117l38.7 0 -3.3 -0.4 -9.2 -0.9 -4 -0.1 -4 -0.1 -7.5 0.4zM156.7 117l38.7 0 -3 -0.4 -9.5 -0.9 -4 -0.1 -4 -0.1 -7.5 0.4zM246.9 117l38.7 0 -3 -0.4 -9.5 -0.9 -4 -0.1 -4 -0.1 -7.5 0.4zM337.1 117l38.7 0 -3 -0.4 -9.5 -0.9 -4 -0.1 -4 -0.1 -7.5 0.4zM85.1 113.2l2.6 -0.1 2.7 -0.4 2.3 -0.6 0.7 -0.3 0.4 -0.3 0 -0.3 -0.3 -0.2 -1.4 -0.3 -2.4 -0.3 -3 -0.2 -3 0.1 -3 0.2 -2 0.4 -0.8 0.2 -0.1 0.2 0.1 0.2 0.4 0.4 1.7 0.6 2.4 0.4zM175.3 113.2l2.6 -0.1 2.7 -0.4 2.3 -0.6 0.8 -0.3 0.3 -0.3 0 -0.3 -0.3 -0.2 -1.4 -0.3 -2.4 -0.3 -3 -0.2 -3 0.1 -3 0.2 -2 0.4 -0.7 0.2 -0.2 0.2 0.1 0.2 0.4 0.4 1.8 0.6 2.3 0.4zM265.5 113.2l2.6 -0.1 2.8 -0.4 2.2 -0.6 0.8 -0.3 0.4 -0.3 -0.1 -0.3 -0.3 -0.2 -1.3 -0.3 -2.5 -0.3 -3 -0.2 -3 0.1 -3 0.2 -2 0.4 -0.7 0.2 -0.2 0.2 0.1 0.2 0.5 0.4 1.7 0.6 2.4 0.4zM355.7 113.2l2.6 -0.1 2.8 -0.4 2.3 -0.6 0.7 -0.3 0.4 -0.3 0 -0.3 -0.3 -0.2 -1.4 -0.3 -2.5 -0.3 -3 -0.2 -3 0.1 -3 0.2 -2 0.4 -0.7 0.2 -0.2 0.2 0.1 0.2 0.5 0.4 1.7 0.6 2.4 0.4z"/>
<path fill="#c700ff" fill-rule="evenodd" d="M67.2 117l37.2 0 -2.7 -0.3 -9.5 -0.8 -7.5 -0.2 -6.8 0.3zM157.4 117l37.3 0 -2.8 -0.3 -9.5 -0.8 -7.5 -0.2 -6.8 0.3zM247.6 117l37.3 0 -2.8 -0.3 -9.5 -0.8 -7.5 -0.2 -6.7 0.3zM337.8 117l37.3 0 -2.8 -0.3 -9.5 -0.8 -7.5 -0.2 -6.7 0.3zM84.9 112.5l2 0 2 -0.2 1.5 -0.3 1 -0.5 0.1 -0.1 0 -0.2 -0.9 -0.3 -1.7 -0.2 -2.1 -0.1 -4.1 0.1 -1.7 0.2 -0.8 0.3 -0.1 0.2 0.1 0.1 1 0.5 1.7 0.3zM175.1 112.5l2.3 0 2 -0.3 1.5 -0.3 0.8 -0.4 0 -0.3 -1.1 -0.3 -3.7 -0.3 -4 0.1 -1.7 0.2 -0.8 0.3 -0.1 0.2 0.1 0.1 1 0.5 1.7 0.3zM265.4 112.5l2.2 0 2 -0.3 1.5 -0.3 0.8 -0.4 0 -0.3 -1 -0.3 -3.8 -0.3 -4 0.1 -1.7 0.2 -0.8 0.3 -0.1 0.2 0.2 0.1 0.9 0.5 1.8 0.3zM355.6 112.5l2.2 0 2 -0.3 1.6 -0.3 0.7 -0.4 0 -0.3 -1 -0.3 -3.8 -0.3 -4 0.1 -1.7 0.2 -0.8 0.3 -0.1 0.2 0.2 0.1 1 0.5 1.7 0.3z"/>
<path fill="#df00ff" fill-rule="evenodd" d="M67.9 117l35.8 0 -2.3 -0.3 -9.5 -0.7 -7 -0.2 -7.2 0.3zM158.2 117l35.7 0 -2.3 -0.3 -9.5 -0.7 -7 -0.2 -7.2 0.3zM248.4 117l35.7 0 -2.3 -0.3 -9.4 -0.7 -7 -0.2 -7.3 0.3zM338.6 117l35.7 0 -2.3 -0.3 -9.4 -0.7 -7 -0.2 -7.3 0.3zM85.2 111.5l1.5 -0.1 0.1 -0.1 -0.6 -0.1 -1.4 0.1zM175.4 111.5l1.5 -0.1 0.1 -0.1 -0.6 -0.1 -1.3 0.1zM265.6 111.5l1.5 -0.1 0.1 -0.1 -0.6 -0.1 -1.3 0.1zM355.8 111.5l1.5 -0.1 0.1 -0.1 -0.6 -0.1 -1.3 0.1z"/>
<path fill="#f700ff" fill-rule="evenodd" d="M68.7 117l34.2 0 -2.5 -0.3 -8.5 -0.6 -7 -0.1 -7.7 0.3zM158.9 117l34.2 0 -2.4 -0.3 -8.6 -0.6 -7 -0.1 -7.7 0.3zM249.2 117l34.1 0 -2.4 -0.3 -8.5 -0.6 -7 -0.1 -7.8 0.3zM339.4 117l34.2 0 -2.5 -0.3 -8.5 -0.6 -7 -0.1 -7.8 0.3z"/>
<path fill="#ff00ef" fill-rule="evenodd" d="M69.5 117l32.6 0 -1.9 -0.2 -7.8 -0.5 -7.2 -0.2 -7.5 0.2zM159.8 117l32.5 0 -1.9 -0.2 -7.8 -0.5 -7.2 -0.2 -7.5 0.2zM250 117l32.5 0 -1.9 -0.2 -7.7 -0.5 -7.3 -0.2 -7.5 0.2zM340.2 117l32.5 0 -1.9 -0.2 -7.7 -0.5 -7.3 -0.2 -7.5 0.2z"/>
<path fill="#ff00d7" fill-rule="evenodd" d="M70.4 117l30.8 0 -1.8 -0.2 -7.2 -0.4 -7 -0.2 -7.3 0.2zM160.6 117l30.8 0 -1.8 -0.2 -7.2 -0.4 -7 -0.2 -7.3 0.2zM250.8 117l30.9 0 -1.9 -0.2 -7.2 -0.4 -7 -0.2 -7.2 0.2zM341.1 117l30.8 0 -1.8 -0.2 -7.3 -0.4 -7 -0.2 -7.2 0.2z"/>
<path fill="#ff00bf" fill-rule="evenodd" d="M71.3 117l29 0 -1.4 -0.1 -7 -0.5 -6.7 -0.1 -7 0.2zM161.5 117l29 0 -1.4 -0.1 -7 -0.5 -6.7 -0.1 -7 0.2zM251.7 117l29.1 0 -1.5 -0.1 -6.9 -0.5 -6.8 -0.1 -7 0.2zM342 117l29 0 -1.4 -0.1 -7 -0.5 -6.8 -0.1 -7 0.2z"/>
<path fill="#ff00a7" fill-rule="evenodd" d="M72.3 117l27.1 0 -1.2 -0.1 -6.5 -0.4 -6.5 -0.1 -6.5 0.2zM162.5 117l27.1 0 -1.2 -0.1 -6.5 -0.4 -6.5 -0.1 -6.5 0.2zM252.7 117l27.1 0 -1.2 -0.1 -6.5 -0.4 -6.5 -0.1 -6.5 0.2zM342.9 117l27.1 0 -1.2 -0.1 -6.5 -0.4 -6.5 -0.1 -6.5 0.2z"/>
<path fill="#ff008f" fill-rule="evenodd" d="M73.3 117l25 0 -1.1 -0.1 -6 -0.3 -6 -0.1 -5.8 0.1zM163.5 117l25.1 0 -1.2 -0.1 -6 -0.3 -6 -0.1 -5.8 0.1zM253.7 117l25.1 0 -1.2 -0.1 -6 -0.3 -6 -0.1 -5.7 0.1zM343.9 117l25.1 0 -1.2 -0.1 -6 -0.3 -6 -0.1 -5.7 0.1z"/>
<path fill="#ff0078" fill-rule="evenodd" d="M74.4 117l22 -0.1 -5.5 -0.2 -5.5 -0.1 -5.5 0.1zM164.6 117l22 -0.1 -5.5 -0.2 -5.5 -0.1 -5.5 0.1zM254.8 117l22.1 -0.1 -5.5 -0.2 -5.5 -0.1 -5.5 0.1zM345 117l22.1 -0.1 -5.5 -0.2 -5.5 -0.1 -5.5 0.1z"/>
<path fill="#ff0060" fill-rule="evenodd" d="M75.6 117l19.8 0 -5 -0.2 -5 -0.1 -5 0.1zM165.8 117l19.8 0 -5 -0.2 -5 -0.1 -5 0.1zM256 117l19.9 0 -5 -0.2 -5 -0.1 -5 0.1zM346.3 117l19.8 0 -5 -0.2 -5 -0.1 -5 0.1z"/>
<path fill="#ff0048" fill-rule="evenodd" d="M77 117l17.2 0 -8.5 -0.2zM167.2 117l17.2 0 -8.5 -0.2zM257.4 117l17.2 0 -8.5 -0.2zM347.6 117l17.2 0 -8.5 -0.2z"/>
<path fill="#ff0030" fill-rule="evenodd" d="M78.6 117l14.3 0 -7.2 -0.2zM168.8 117l14.3 0 -7.2 -0.2zM259.1 117l14.3 0 -7.3 -0.2zM349.3 117l14.3 0 -7.3 -0.2z"/>
<path fill="#ff0018" fill-rule="evenodd" d="M80.7 117l10.2 0 -5 -0.1zM170.9 117l10.2 0 -5 -0.1zM261.2 117l10.1 0 -4.9 -0.1zM351.4 117l10.2 0 -5 -0.1z"/>
</g></g>
<rect x="40.7" y="3.2" width="356.1" height="113.8" fill="none" stroke="#333" stroke-width="0.5"/>
<path d="M40.7 117.0v-3M40.7 3.2v3M98.1 117.0v-3M98.1 3.2v3M155.6 117.0v-3M155.6 3.2v3M213.0 117.0v-3M213.0 3.2v3M270.4 117.0v-3M270.4 3.2v3M327.9 117.0v-3M327.9 3.2v3M385.3 117.0v-3M385.3 3.2v3M40.7 117.0h3M396.8 117.0h-3M40.7 88.5h3M396.8 88.5h-3M40.7 60.1h3M396.8 60.1h-3M40.7 31.7h3M396.8 31.7h-3M40.7 3.2h3M396.8 3.2h-3" stroke="#000" stroke-width="0.8" fill="none"/>
<text transform="translate(40.80 127.00) scale(1.55 1)" font-size="9" text-anchor="middle" fill="#000" stroke="#000" stroke-width="0.22" >0</text>
<text transform="translate(98.24 127.00) scale(1.55 1)" font-size="9" text-anchor="middle" fill="#000" stroke="#000" stroke-width="0.22" >1</text>
<text transform="translate(155.67 127.00) scale(1.55 1)" font-size="9" text-anchor="middle" fill="#000" stroke="#000" stroke-width="0.22" >2</text>
<text transform="translate(213.11 127.00) scale(1.55 1)" font-size="9" text-anchor="middle" fill="#000" stroke="#000" stroke-width="0.22" >3</text>
<text transform="translate(270.54 127.00) scale(1.55 1)" font-size="9" text-anchor="middle" fill="#000" stroke="#000" stroke-width="0.22" >4</text>
<text transform="translate(327.98 127.00) scale(1.55 1)" font-size="9" text-anchor="middle" fill="#000" stroke="#000" stroke-width="0.22" >5</text>
<text transform="translate(385.41 127.00) scale(1.55 1)" font-size="9" text-anchor="middle" fill="#000" stroke="#000" stroke-width="0.22" >6</text>
<text transform="translate(38.60 120.20) scale(1.55 1)" font-size="9" text-anchor="end" fill="#000" stroke="#000" stroke-width="0.22" >0</text>
<text transform="translate(38.60 91.75) scale(1.55 1)" font-size="9" text-anchor="end" fill="#000" stroke="#000" stroke-width="0.22" >0.5</text>
<text transform="translate(38.60 63.30) scale(1.55 1)" font-size="9" text-anchor="end" fill="#000" stroke="#000" stroke-width="0.22" >1</text>
<text transform="translate(38.60 34.85) scale(1.55 1)" font-size="9" text-anchor="end" fill="#000" stroke="#000" stroke-width="0.22" >1.5</text>
<text transform="translate(38.60 6.40) scale(1.55 1)" font-size="9" text-anchor="end" fill="#000" stroke="#000" stroke-width="0.22" >2</text>
<text transform="translate(219.00 135.20) scale(1.7 1)" font-size="10" text-anchor="middle" fill="#000" stroke="#000" stroke-width="0.22" font-weight="normal">α</text>
<text transform="translate(9.10 60.00) rotate(-90) scale(0.95 1.6)" font-size="9" text-anchor="middle" fill="#000" stroke="#000" stroke-width="0.22" >ω<tspan dy="4.0" font-size="7.4">0</tspan><tspan dy="-4.0">t</tspan></text>
<rect x="46.1" y="5.4" width="128.3" height="19.2" fill="#007f0a"/>
<text transform="translate(46.40 17.00) scale(1.585 1)" font-size="10" text-anchor="start" fill="#fff" stroke="#fff" stroke-width="0.22" >(a) D(<tspan font-weight="normal" font-size="11.5">ρ</tspan><tspan dy="4.2" font-size="8.0">1</tspan><tspan dy="-4.2">(t),<tspan font-weight="normal" font-size="11.5">ρ</tspan></tspan><tspan dy="4.2" font-size="8.0">2</tspan><tspan dy="-4.2">(t))</tspan></text>
<defs><linearGradient id="cb" x1="0" y1="1" x2="0" y2="0"><stop offset="0" stop-color="#ff0000"/><stop offset="0.1667" stop-color="#ffff00"/><stop offset="0.3333" stop-color="#00ff00"/><stop offset="0.5" stop-color="#00ffff"/><stop offset="0.6667" stop-color="#0000ff"/><stop offset="0.8333" stop-color="#ff00ff"/><stop offset="1" stop-color="#ff0010"/></linearGradient></defs>
<rect x="407.8" y="2.5" width="18.7" height="115.0" fill="url(#cb)"/>
<rect x="407.8" y="2.5" width="18.7" height="115.0" fill="none" stroke="#444" stroke-width="0.4"/>
<path d="M407.8 94.5h2M426.5 94.5h-2M407.8 71.5h2M426.5 71.5h-2M407.8 48.5h2M426.5 48.5h-2M407.8 25.5h2M426.5 25.5h-2" stroke="#222" stroke-width="0.5" fill="none"/>
<text transform="translate(428.80 120.70) scale(1.55 1)" font-size="9" text-anchor="start" fill="#000" stroke="#000" stroke-width="0.22" >0</text>
<text transform="translate(428.80 97.70) scale(1.55 1)" font-size="9" text-anchor="start" fill="#000" stroke="#000" stroke-width="0.22" >0.2</text>
<text transform="translate(428.80 74.70) scale(1.55 1)" font-size="9" text-anchor="start" fill="#000" stroke="#000" stroke-width="0.22" >0.4</text>
<text transform="translate(428.80 51.70) scale(1.55 1)" font-size="9" text-anchor="start" fill="#000" stroke="#000" stroke-width="0.22" >0.6</text>
<text transform="translate(428.80 28.70) scale(1.55 1)" font-size="9" text-anchor="start" fill="#000" stroke="#000" stroke-width="0.22" >0.8</text>
<text transform="translate(428.80 5.70) scale(1.55 1)" font-size="9" text-anchor="start" fill="#000" stroke="#000" stroke-width="0.22" >1</text>
<rect x="46.3" y="156.8" width="175.0" height="109.7" fill="#fff" stroke="#a2a2a2" stroke-width="1"/>
<path d="M90.0 266.5v-2.5M90.0 156.8v2.5M133.8 266.5v-2.5M133.8 156.8v2.5M177.6 266.5v-2.5M177.6 156.8v2.5M46.3 244.6h2.5M221.3 244.6h-2.5M46.3 222.6h2.5M221.3 222.6h-2.5M46.3 200.7h2.5M221.3 200.7h-2.5M46.3 178.7h2.5M221.3 178.7h-2.5" stroke="#a2a2a2" stroke-width="0.8" fill="none"/>
<clipPath id="bc"><rect x="46.0" y="156.5" width="175.6" height="110.3"/></clipPath>
<polyline clip-path="url(#bc)" points="46.3,156.8 46.6,161.9 47.0,166.5 47.3,170.6 47.7,174.0 48.0,176.8 48.4,179.5 48.8,181.9 49.1,183.7 49.4,184.6 49.8,184.6 50.1,184.2 50.5,183.7 50.8,183.1 51.2,182.4 51.5,181.8 51.9,181.2 52.2,180.6 52.6,179.9 52.9,179.1 53.3,178.5 53.6,177.9 54.0,177.5 54.3,177.3 54.7,177.4 55.0,177.7 55.4,178.3 55.8,179.0 56.1,179.9 56.4,180.9 56.8,181.9 57.1,182.9 57.5,183.9 57.8,185.2 58.2,186.7 58.5,188.3 58.9,190.0 59.2,191.7 59.6,193.5 59.9,195.3 60.3,197.0 60.6,198.6 61.0,200.4 61.3,202.2 61.7,204.0 62.0,205.8 62.4,207.7 62.8,209.5 63.1,211.3 63.5,213.0 63.8,214.7 64.2,216.3 64.5,217.8 64.8,219.4 65.2,220.9 65.5,222.4 65.9,223.9 66.2,225.4 66.6,226.8 67.0,228.2 67.3,229.4 67.6,230.5 68.0,231.5 68.3,232.4 68.7,233.2 69.0,233.9 69.4,234.5 69.8,235.2 70.1,235.8 70.5,236.3 70.8,236.7 71.2,237.1 71.5,237.4 71.8,237.6 72.2,237.8 72.5,238.0 72.9,238.1 73.2,238.3 73.6,238.4 73.9,238.5 74.3,238.6 74.7,238.7 75.0,238.8 75.3,238.9 75.7,239.0 76.0,239.1 76.4,239.2 76.8,239.3 77.1,239.4 77.4,239.6 77.8,239.8 78.1,240.0 78.5,240.3 78.8,240.6 79.2,240.9 79.5,241.3 79.9,241.7 80.2,242.1 80.6,242.5 80.9,242.9 81.3,243.3 81.7,243.7 82.0,244.1 82.3,244.5 82.7,244.8 83.0,245.2 83.4,245.5 83.8,245.8 84.1,246.1 84.4,246.4 84.8,246.8 85.2,247.1 85.5,247.4 85.8,247.7 86.2,248.0 86.5,248.3 86.9,248.6 87.2,248.8 87.6,249.1 88.0,249.3 88.3,249.5 88.7,249.6 89.0,249.8 89.3,249.9 89.7,250.0 90.0,250.1 90.4,250.2 90.8,250.3 91.1,250.4 91.4,250.5 91.8,250.6 92.2,250.7 92.5,250.7 92.8,250.8 93.2,250.9 93.5,250.9 93.9,251.0 94.2,251.0 94.6,251.1 95.0,251.1 95.3,251.2 95.7,251.2 96.0,251.3 96.3,251.3 96.7,251.4 97.0,251.4 97.4,251.5 97.8,251.6 98.1,251.7 98.4,251.8 98.8,251.9 100.4,252.7 101.9,253.5 103.5,254.4 105.0,255.0 106.6,255.5 108.1,255.8 109.7,256.1 111.2,256.4 112.8,256.8 114.3,257.1 115.9,257.5 117.4,257.8 119.0,258.1 120.5,258.4 122.1,258.7 123.6,258.9 125.2,259.2 126.7,259.4 128.3,259.6 129.8,259.8 131.4,260.0 132.9,260.2 134.5,260.4 136.0,260.6 137.6,260.7 139.1,260.9 140.7,261.1 142.2,261.2 143.8,261.4 145.3,261.5 146.9,261.7 148.4,261.8 150.0,261.9 151.5,262.0 153.1,262.1 154.6,262.3 156.2,262.4 157.7,262.5 159.3,262.6 160.8,262.7 162.4,262.8 163.9,262.9 165.5,263.0 167.0,263.2 168.6,263.3 170.1,263.4 171.7,263.6 173.2,263.7 174.8,263.8 176.3,264.0 177.9,264.1 179.4,264.2 181.0,264.3 182.5,264.5 184.1,264.6 185.6,264.7 187.2,264.7 188.7,264.8 190.3,264.9 191.8,265.0 193.4,265.0 194.9,265.1 196.5,265.1 198.0,265.2 199.6,265.3 201.1,265.3 202.7,265.4 204.2,265.4 205.8,265.5 207.3,265.5 208.9,265.6 210.4,265.6 212.0,265.6 213.5,265.7 215.1,265.7 216.6,265.7 218.2,265.8 219.7,265.8 221.3,265.8" fill="none" stroke="#f00" stroke-width="1.9" stroke-linejoin="round"/>
<text transform="translate(46.30 276.90) scale(1.55 1)" font-size="9" text-anchor="middle" fill="#000" stroke="#000" stroke-width="0.22" >0</text>
<text transform="translate(90.05 276.90) scale(1.55 1)" font-size="9" text-anchor="middle" fill="#000" stroke="#000" stroke-width="0.22" >0.5</text>
<text transform="translate(133.80 276.90) scale(1.55 1)" font-size="9" text-anchor="middle" fill="#000" stroke="#000" stroke-width="0.22" >1</text>
<text transform="translate(177.55 276.90) scale(1.55 1)" font-size="9" text-anchor="middle" fill="#000" stroke="#000" stroke-width="0.22" >1.5</text>
<text transform="translate(221.30 276.90) scale(1.55 1)" font-size="9" text-anchor="middle" fill="#000" stroke="#000" stroke-width="0.22" >2</text>
<text transform="translate(44.20 270.00) scale(1.55 1)" font-size="9" text-anchor="end" fill="#000" stroke="#000" stroke-width="0.22" >0</text>
<text transform="translate(44.20 248.06) scale(1.55 1)" font-size="9" text-anchor="end" fill="#000" stroke="#000" stroke-width="0.22" >0.2</text>
<text transform="translate(44.20 226.12) scale(1.55 1)" font-size="9" text-anchor="end" fill="#000" stroke="#000" stroke-width="0.22" >0.4</text>
<text transform="translate(44.20 204.18) scale(1.55 1)" font-size="9" text-anchor="end" fill="#000" stroke="#000" stroke-width="0.22" >0.6</text>
<text transform="translate(44.20 182.24) scale(1.55 1)" font-size="9" text-anchor="end" fill="#000" stroke="#000" stroke-width="0.22" >0.8</text>
<text transform="translate(44.20 160.30) scale(1.55 1)" font-size="9" text-anchor="end" fill="#000" stroke="#000" stroke-width="0.22" >1</text>
<text transform="translate(134.00 284.60) scale(1.36 1)" font-size="9" text-anchor="middle" fill="#000" stroke="#000" stroke-width="0.22" >ω<tspan dy="4.0" font-size="7.4">0</tspan><tspan dy="-4.0">t</tspan></text>
<text transform="translate(13.40 211.60) rotate(-90) scale(1 1.38)" font-size="8.5" text-anchor="middle" fill="#000" stroke="#000" stroke-width="0.22" >D(<tspan font-weight="normal" font-size="9.8">ρ</tspan><tspan dy="4.7" font-size="7.2">1</tspan><tspan dy="-4.7">(t),<tspan font-weight="normal" font-size="9.8">ρ</tspan></tspan><tspan dy="4.7" font-size="7.2">2</tspan><tspan dy="-4.7">(t))</tspan></text>
<rect x="45.8" y="139.9" width="32.7" height="14.5" fill="#007f0a"/>
<text transform="translate(48.60 150.10) scale(1.72 1)" font-size="9.5" text-anchor="start" fill="#fff" stroke="#fff" stroke-width="0.22" >(b)</text>
<rect x="131" y="159.7" width="78.3" height="12.4" fill="#fff" stroke="#a2a2a2" stroke-width="0.8"/>
<path d="M137.3 165.8H164.3" stroke="#f00" stroke-width="1.9"/>
<text transform="translate(168.00 169.00) scale(1.36 1)" font-size="9" text-anchor="start" fill="#000" stroke="#000" stroke-width="0.22" ><tspan font-weight="normal" font-size="11">α</tspan><tspan stroke-width="0.12" font-size="11.5" dy="1.2">=</tspan><tspan dy="-1.2" font-size="1"> </tspan>pi/4</text>
<rect x="251.2" y="156.5" width="176.6" height="108.7" fill="#fff" stroke="#a2a2a2" stroke-width="1"/>
<path d="M295.4 265.2v-2.5M295.4 156.5v2.5M339.5 265.2v-2.5M339.5 156.5v2.5M383.6 265.2v-2.5M383.6 156.5v2.5M251.2 243.5h2.5M427.8 243.5h-2.5M251.2 221.7h2.5M427.8 221.7h-2.5M251.2 200.0h2.5M427.8 200.0h-2.5M251.2 178.2h2.5M427.8 178.2h-2.5" stroke="#a2a2a2" stroke-width="0.8" fill="none"/>
<clipPath id="cc"><rect x="250.89999999999998" y="156.2" width="177.2" height="109.3"/></clipPath>
<polyline clip-path="url(#cc)" points="251.2,156.5 251.3,160.4 251.4,164.0 251.5,167.0 251.6,169.5 251.8,171.8 251.9,173.9 252.0,175.5 252.1,176.1 252.2,175.7 252.3,174.9 252.4,174.0 252.5,173.1 252.6,172.8 252.7,173.2 252.9,174.4 253.0,176.1 253.1,178.1 253.2,180.4 253.3,182.6 253.4,184.8 253.5,186.8 253.6,189.1 253.7,191.4 253.8,193.9 254.0,196.4 254.1,198.9 254.2,201.5 254.3,204.1 254.4,206.6 254.5,209.0 254.6,211.3 254.7,213.7 254.8,216.2 255.0,218.5 255.1,220.5 255.2,222.0 255.3,223.2 255.4,224.4 255.5,225.6 255.6,226.6 255.7,227.4 255.8,228.0 255.9,228.4 256.1,228.5 256.2,228.5 256.3,228.4 256.4,228.4 256.5,228.3 256.6,228.2 256.7,228.1 256.8,228.0 256.9,227.9 257.0,227.8 257.2,227.8 257.3,227.8 257.4,228.0 257.5,228.2 257.6,228.6 257.7,229.1 257.8,229.6 257.9,230.2 258.0,230.9 258.2,231.5 258.3,232.1 258.4,232.7 258.5,233.2 258.6,233.7 258.7,234.1 258.8,234.5 258.9,235.0 259.0,235.5 259.1,235.9 259.3,236.4 259.4,236.8 259.5,237.1 259.6,237.5 259.7,237.7 259.8,237.9 259.9,238.0 260.0,238.0 260.1,238.0 260.3,238.0 260.4,238.0 260.5,238.0 260.6,237.9 260.7,237.9 260.8,237.9 260.9,237.8 261.0,237.8 261.1,237.8 261.2,237.7 261.4,237.7 261.5,237.7 261.6,237.7 261.7,237.7 261.8,237.8 261.9,237.9 262.0,238.1 262.1,238.2 262.2,238.5 262.3,238.7 262.5,238.9 262.6,239.2 262.7,239.5 262.8,239.7 262.9,240.0 263.0,240.2 263.1,240.5 263.2,240.7 263.3,240.9 263.5,241.1 263.6,241.2 263.7,241.4 263.8,241.5 263.9,241.7 264.0,241.8 264.1,241.9 264.2,242.1 264.3,242.2 264.4,242.3 264.6,242.4 264.7,242.6 264.8,242.7 264.9,242.8 265.0,242.9 265.1,243.0 265.2,243.1 265.3,243.3 265.4,243.4 265.5,243.5 265.7,243.6 265.8,243.7 265.9,243.8 266.0,243.9 266.1,244.0 266.2,244.1 266.3,244.2 266.4,244.3 266.5,244.4 266.7,244.5 266.8,244.6 266.9,244.7 267.0,244.7 267.1,244.8 267.2,244.9 267.3,245.0 267.4,245.1 267.5,245.2 267.6,245.3 267.8,245.4 267.9,245.4 268.0,245.5 268.1,245.6 268.2,245.7 268.3,245.8 268.4,245.9 268.5,245.9 268.6,246.0 268.7,246.1 268.9,246.2 269.0,246.3 269.1,246.3 269.2,246.4 269.3,246.5 269.4,246.6 269.5,246.7 269.6,246.7 269.7,246.8 269.9,246.9 270.0,247.0 270.1,247.1 270.2,247.2 270.3,247.2 270.4,247.3 270.5,247.4 270.6,247.5 270.7,247.5 270.8,247.6 271.0,247.7 271.1,247.8 271.2,247.9 271.3,247.9 271.4,248.0 271.5,248.1 271.6,248.2 271.7,248.2 271.8,248.3 272.0,248.4 272.1,248.5 272.2,248.5 272.3,248.6 272.4,248.7 272.5,248.8 272.6,248.8 272.7,248.9 272.8,249.0 272.9,249.0 273.1,249.1 273.2,249.2 273.3,249.2 274.6,249.9 275.9,250.6 277.2,251.2 278.5,251.8 279.8,252.5 281.1,253.1 282.4,253.7 283.7,254.3 285.0,254.8 286.3,255.3 287.6,255.7 288.9,256.2 290.2,256.6 291.5,257.0 292.8,257.4 294.1,257.8 295.4,258.2 296.6,258.6 297.9,259.0 299.2,259.4 300.5,259.8 301.8,260.2 303.1,260.6 304.4,260.9 305.7,261.3 307.0,261.6 308.3,262.0 309.6,262.3 310.9,262.7 312.2,263.1 313.5,263.4 314.8,263.8 316.1,264.1 317.4,264.4 318.7,264.7 320.0,265.0 321.3,265.2 322.6,265.0 323.9,264.8 325.2,264.6 326.5,264.4 327.8,264.2 329.1,264.1 330.4,263.9 331.7,263.8 333.0,263.6 334.3,263.5 335.6,263.3 336.9,263.2 338.2,263.1 339.5,263.0 340.8,262.9 342.1,262.9 343.4,262.8 344.7,262.7 346.0,262.7 347.3,262.6 348.6,262.5 349.9,262.5 351.2,262.4 352.5,262.3 353.8,262.3 355.1,262.3 356.4,262.2 357.7,262.2 359.0,262.2 360.3,262.2 361.6,262.2 362.9,262.2 364.2,262.2 365.5,262.2 366.8,262.2 368.1,262.3 369.4,262.3 370.7,262.4 372.0,262.4 373.3,262.5 374.6,262.6 375.9,262.6 377.2,262.7 378.5,262.8 379.8,262.8 381.1,262.9 382.4,263.0 383.6,263.0 384.9,263.1 386.2,263.1 387.5,263.2 388.8,263.3 390.1,263.3 391.4,263.4 392.7,263.4 394.0,263.5 395.3,263.6 396.6,263.6 397.9,263.7 399.2,263.7 400.5,263.8 401.8,263.8 403.1,263.9 404.4,264.0 405.7,264.0 407.0,264.1 408.3,264.1 409.6,264.2 410.9,264.2 412.2,264.2 413.5,264.3 414.8,264.3 416.1,264.4 417.4,264.4 418.7,264.5 420.0,264.5 421.3,264.6 422.6,264.6 423.9,264.6 425.2,264.7 426.5,264.7 427.8,264.8" fill="none" stroke="#0000ff" stroke-width="1.8" stroke-linejoin="round"/>
<polyline clip-path="url(#cc)" points="251.2,156.5 251.3,159.8 251.4,163.2 251.5,166.5 251.6,169.9 251.8,173.3 251.9,176.7 252.0,180.2 252.1,183.7 252.2,187.1 252.3,190.6 252.4,194.0 252.5,197.5 252.6,201.0 252.7,204.7 252.9,208.5 253.0,212.5 253.1,217.1 253.2,222.0 253.3,226.5 253.4,230.4 253.5,233.8 253.6,237.0 253.7,239.9 253.8,242.2 254.0,243.8 254.1,244.8 254.2,245.7 254.3,246.4 254.4,247.0 254.5,247.5 254.6,248.1 254.7,248.6 254.8,249.1 255.0,249.7 255.1,250.2 255.2,250.8 255.3,251.3 255.4,251.8 255.5,252.3 255.6,252.7 255.7,253.2 255.8,253.6 255.9,254.0 256.1,254.3 256.2,254.6 256.3,254.9 256.4,255.1 256.5,255.4 256.6,255.6 256.7,255.8 256.8,256.0 256.9,256.2 257.0,256.4 257.2,256.6 257.3,256.7 257.4,256.9 257.5,257.1 257.6,257.2 257.7,257.4 257.8,257.5 257.9,257.6 258.0,257.8 258.2,257.9 258.3,258.0 258.4,258.1 258.5,258.3 258.6,258.4 258.7,258.5 258.8,258.6 258.9,258.7 259.0,258.8 259.1,259.0 259.3,259.1 259.4,259.2 259.5,259.3 259.6,259.4 259.7,259.5 259.8,259.6 259.9,259.7 260.0,259.7 260.1,259.8 260.3,259.9 260.4,260.0 260.5,260.1 260.6,260.2 260.7,260.2 260.8,260.3 260.9,260.4 261.0,260.5 261.1,260.5 261.2,260.6 261.4,260.7 261.5,260.7 261.6,260.8 261.7,260.8 261.8,260.9 261.9,260.9 262.0,261.0 262.1,261.1 262.2,261.1 262.3,261.1 262.5,261.2 262.6,261.2 262.7,261.3 262.8,261.3 262.9,261.4 263.0,261.4 263.1,261.5 263.2,261.5 263.3,261.6 263.5,261.6 263.6,261.6 263.7,261.7 263.8,261.7 263.9,261.8 264.0,261.8 264.1,261.8 264.2,261.9 264.3,261.9 264.4,261.9 264.6,262.0 264.7,262.0 264.8,262.0 264.9,262.1 265.0,262.1 265.1,262.1 265.2,262.2 265.3,262.2 265.4,262.2 265.5,262.2 265.7,262.3 265.8,262.3 265.9,262.3 266.0,262.4 266.1,262.4 266.2,262.4 266.3,262.4 266.4,262.5 266.5,262.5 266.7,262.5 266.8,262.5 266.9,262.5 267.0,262.6 267.1,262.6 267.2,262.6 267.3,262.6 267.4,262.7 267.5,262.7 267.6,262.7 267.8,262.7 267.9,262.7 268.0,262.8 268.1,262.8 268.2,262.8 268.3,262.8 268.4,262.8 268.5,262.8 268.6,262.9 268.7,262.9 268.9,262.9 269.0,262.9 269.1,262.9 269.2,263.0 269.3,263.0 269.4,263.0 269.5,263.0 269.6,263.0 269.7,263.0 269.9,263.1 270.0,263.1 270.1,263.1 270.2,263.1 270.3,263.1 270.4,263.1 270.5,263.1 270.6,263.2 270.7,263.2 270.8,263.2 271.0,263.2 271.1,263.2 271.2,263.2 271.3,263.2 271.4,263.3 271.5,263.3 271.6,263.3 271.7,263.3 271.8,263.3 272.0,263.3 272.1,263.3 272.2,263.3 272.3,263.4 272.4,263.4 272.5,263.4 272.6,263.4 272.7,263.4 272.8,263.4 272.9,263.4 273.1,263.4 273.2,263.5 273.3,263.5 274.6,263.6 275.9,263.7 277.2,263.8 278.5,263.9 279.8,264.0 281.1,264.0 282.4,264.1 283.7,264.2 285.0,264.3 286.3,264.3 287.6,264.4 288.9,264.4 290.2,264.5 291.5,264.5 292.8,264.6 294.1,264.6 295.4,264.7 296.6,264.7 297.9,264.7 299.2,264.8 300.5,264.8 301.8,264.8 303.1,264.9 304.4,264.9 305.7,264.9 307.0,265.0 308.3,265.0 309.6,265.0 310.9,265.0 312.2,265.0 313.5,265.1 314.8,265.1 316.1,265.1 317.4,265.1 318.7,265.1 320.0,265.1 321.3,265.1 322.6,265.1 323.9,265.1 325.2,265.1 326.5,265.1 327.8,265.1 329.1,265.1 330.4,265.1 331.7,265.1 333.0,265.1 334.3,265.1 335.6,265.1 336.9,265.1 338.2,265.1 339.5,265.1 340.8,265.1 342.1,265.1 343.4,265.1 344.7,265.1 346.0,265.1 347.3,265.1 348.6,265.2 349.9,265.2 351.2,265.2 352.5,265.2 353.8,265.2 355.1,265.2 356.4,265.2 357.7,265.2 359.0,265.2 360.3,265.2 361.6,265.2 362.9,265.2 364.2,265.2 365.5,265.2 366.8,265.2 368.1,265.2 369.4,265.2 370.7,265.2 372.0,265.2 373.3,265.2 374.6,265.2 375.9,265.2 377.2,265.2 378.5,265.2 379.8,265.2 381.1,265.2 382.4,265.2 383.6,265.2 384.9,265.2 386.2,265.2 387.5,265.2 388.8,265.2 390.1,265.2 391.4,265.2 392.7,265.2 394.0,265.2 395.3,265.2 396.6,265.2 397.9,265.2 399.2,265.2 400.5,265.2 401.8,265.2 403.1,265.2 404.4,265.2 405.7,265.2 407.0,265.2 408.3,265.2 409.6,265.2 410.9,265.2 412.2,265.2 413.5,265.2 414.8,265.2 416.1,265.2 417.4,265.2 418.7,265.2 420.0,265.2 421.3,265.2 422.6,265.2 423.9,265.2 425.2,265.2 426.5,265.2 427.8,265.2" fill="none" stroke="#008000" stroke-width="1.8" stroke-linejoin="round"/>
<polyline clip-path="url(#cc)" points="251.2,156.5 251.3,167.9 251.4,178.7 251.5,188.7 251.6,198.0 251.8,206.3 251.9,213.7 252.0,220.6 252.1,226.9 252.2,232.6 252.3,237.6 252.4,241.8 252.5,245.7 252.6,249.2 252.7,252.3 252.9,254.7 253.0,256.3 253.1,257.6 253.2,258.7 253.3,259.8 253.4,260.7 253.5,261.4 253.6,262.0 253.7,262.4 253.8,262.7 254.0,263.0 254.1,263.3 254.2,263.6 254.3,263.8 254.4,264.0 254.5,264.2 254.6,264.4 254.7,264.5 254.8,264.7 255.0,264.8 255.1,264.8 255.2,264.9 255.3,264.9 255.4,264.9 255.5,265.0 255.6,265.0 255.7,265.0 255.8,265.0 255.9,265.0 256.1,265.1 256.2,265.1 256.3,265.1 256.4,265.1 256.5,265.1 256.6,265.1 256.7,265.1 256.8,265.2 256.9,265.2 257.0,265.2 257.2,265.2 257.3,265.2 257.4,265.2 257.5,265.2 257.6,265.2 257.7,265.2 257.8,265.2 257.9,265.2 258.0,265.2 258.2,265.2 258.3,265.2 258.4,265.2 258.5,265.2 258.6,265.2 258.7,265.2 258.8,265.2 258.9,265.2 259.0,265.2 259.1,265.2 259.3,265.2 259.4,265.2 259.5,265.2 259.6,265.2 259.7,265.2 259.8,265.2 259.9,265.2 260.0,265.2 260.1,265.2 260.3,265.2 260.4,265.2 260.5,265.2 260.6,265.2 260.7,265.2 260.8,265.2 260.9,265.2 261.0,265.2 261.1,265.2 261.2,265.2 261.4,265.2 261.5,265.2 261.6,265.2 261.7,265.2 261.8,265.2 261.9,265.2 262.0,265.2 262.1,265.2 262.2,265.2 262.3,265.2 262.5,265.2 262.6,265.2 262.7,265.2 262.8,265.2 262.9,265.2 263.0,265.2 263.1,265.2 263.2,265.2 263.3,265.2 263.5,265.2 263.6,265.2 263.7,265.2 263.8,265.2 263.9,265.2 264.0,265.2 264.1,265.2 264.2,265.2 264.3,265.2 264.4,265.2 264.6,265.2 264.7,265.2 264.8,265.2 264.9,265.2 265.0,265.2 265.1,265.2 265.2,265.2 265.3,265.2 265.4,265.2 265.5,265.2 265.7,265.2 265.8,265.2 265.9,265.2 266.0,265.2 266.1,265.2 266.2,265.2 266.3,265.2 266.4,265.2 266.5,265.2 266.7,265.2 266.8,265.2 266.9,265.2 267.0,265.2 267.1,265.2 267.2,265.2 267.3,265.2 267.4,265.2 267.5,265.2 267.6,265.2 267.8,265.2 267.9,265.2 268.0,265.2 268.1,265.2 268.2,265.2 268.3,265.2 268.4,265.2 268.5,265.2 268.6,265.2 268.7,265.2 268.9,265.2 269.0,265.2 269.1,265.2 269.2,265.2 269.3,265.2 269.4,265.2 269.5,265.2 269.6,265.2 269.7,265.2 269.9,265.2 270.0,265.2 270.1,265.2 270.2,265.2 270.3,265.2 270.4,265.2 270.5,265.2 270.6,265.2 270.7,265.2 270.8,265.2 271.0,265.2 271.1,265.2 271.2,265.2 271.3,265.2 271.4,265.2 271.5,265.2 271.6,265.2 271.7,265.2 271.8,265.2 272.0,265.2 272.1,265.2 272.2,265.2 272.3,265.2 272.4,265.2 272.5,265.2 272.6,265.2 272.7,265.2 272.8,265.2 272.9,265.2 273.1,265.2 273.2,265.2 273.3,265.2 274.6,265.2 275.9,265.2 277.2,265.2 278.5,265.2 279.8,265.2 281.1,265.2 282.4,265.2 283.7,265.2 285.0,265.2 286.3,265.2 287.6,265.2 288.9,265.2 290.2,265.2 291.5,265.2 292.8,265.2 294.1,265.2 295.4,265.2 296.6,265.2 297.9,265.2 299.2,265.2 300.5,265.2 301.8,265.2 303.1,265.2 304.4,265.2 305.7,265.2 307.0,265.2 308.3,265.2 309.6,265.2 310.9,265.2 312.2,265.2 313.5,265.2 314.8,265.2 316.1,265.2 317.4,265.2 318.7,265.2 320.0,265.2 321.3,265.2 322.6,265.2 323.9,265.2 325.2,265.2 326.5,265.2 327.8,265.2 329.1,265.2 330.4,265.2 331.7,265.2 333.0,265.2 334.3,265.2 335.6,265.2 336.9,265.2 338.2,265.2 339.5,265.2 340.8,265.2 342.1,265.2 343.4,265.2 344.7,265.2 346.0,265.2 347.3,265.2 348.6,265.2 349.9,265.2 351.2,265.2 352.5,265.2 353.8,265.2 355.1,265.2 356.4,265.2 357.7,265.2 359.0,265.2 360.3,265.2 361.6,265.2 362.9,265.2 364.2,265.2 365.5,265.2 366.8,265.2 368.1,265.2 369.4,265.2 370.7,265.2 372.0,265.2 373.3,265.2 374.6,265.2 375.9,265.2 377.2,265.2 378.5,265.2 379.8,265.2 381.1,265.2 382.4,265.2 383.6,265.2 384.9,265.2 386.2,265.2 387.5,265.2 388.8,265.2 390.1,265.2 391.4,265.2 392.7,265.2 394.0,265.2 395.3,265.2 396.6,265.2 397.9,265.2 399.2,265.2 400.5,265.2 401.8,265.2 403.1,265.2 404.4,265.2 405.7,265.2 407.0,265.2 408.3,265.2 409.6,265.2 410.9,265.2 412.2,265.2 413.5,265.2 414.8,265.2 416.1,265.2 417.4,265.2 418.7,265.2 420.0,265.2 421.3,265.2 422.6,265.2 423.9,265.2 425.2,265.2 426.5,265.2 427.8,265.2" fill="none" stroke="#ff0000" stroke-width="1.8" stroke-linejoin="round"/>
<text transform="translate(251.20 275.40) scale(1.55 1)" font-size="9" text-anchor="middle" fill="#000" stroke="#000" stroke-width="0.22" >0</text>
<text transform="translate(295.35 275.40) scale(1.55 1)" font-size="9" text-anchor="middle" fill="#000" stroke="#000" stroke-width="0.22" >2</text>
<text transform="translate(339.50 275.40) scale(1.55 1)" font-size="9" text-anchor="middle" fill="#000" stroke="#000" stroke-width="0.22" >4</text>
<text transform="translate(383.65 275.40) scale(1.55 1)" font-size="9" text-anchor="middle" fill="#000" stroke="#000" stroke-width="0.22" >6</text>
<text transform="translate(427.80 275.40) scale(1.55 1)" font-size="9" text-anchor="middle" fill="#000" stroke="#000" stroke-width="0.22" >8</text>
<text transform="translate(248.40 268.80) scale(1.55 1)" font-size="9" text-anchor="end" fill="#000" stroke="#000" stroke-width="0.22" >0</text>
<text transform="translate(248.40 247.06) scale(1.55 1)" font-size="9" text-anchor="end" fill="#000" stroke="#000" stroke-width="0.22" >0.2</text>
<text transform="translate(248.40 225.32) scale(1.55 1)" font-size="9" text-anchor="end" fill="#000" stroke="#000" stroke-width="0.22" >0.4</text>
<text transform="translate(248.40 203.58) scale(1.55 1)" font-size="9" text-anchor="end" fill="#000" stroke="#000" stroke-width="0.22" >0.6</text>
<text transform="translate(248.40 181.84) scale(1.55 1)" font-size="9" text-anchor="end" fill="#000" stroke="#000" stroke-width="0.22" >0.8</text>
<text transform="translate(248.40 160.10) scale(1.55 1)" font-size="9" text-anchor="end" fill="#000" stroke="#000" stroke-width="0.22" >1</text>
<text transform="translate(339.50 284.20) scale(1.36 1)" font-size="9" text-anchor="middle" fill="#000" stroke="#000" stroke-width="0.22" >ω<tspan dy="4.0" font-size="7.4">0</tspan><tspan dy="-4.0">t</tspan></text>
<rect x="252.9" y="139.9" width="32.9" height="14.4" fill="#007f0a"/>
<text transform="translate(256.80 150.10) scale(1.68 1)" font-size="9.5" text-anchor="start" fill="#fff" stroke="#fff" stroke-width="0.22" >(c)</text>
<rect x="350.2" y="157.2" width="72.6" height="35.1" fill="#fff" stroke="#a2a2a2" stroke-width="0.8"/>
<path d="M356.3 164H384.8" stroke="#0000ff" stroke-width="1.8"/>
<text transform="translate(387.60 167.10) scale(1.36 1)" font-size="9" text-anchor="start" fill="#000" stroke="#000" stroke-width="0.22" >r<tspan stroke-width="0.12" font-size="11.5" dy="1.2">=</tspan><tspan dy="-1.2" font-size="1"> </tspan>0</text>
<path d="M356.3 175.4H384.8" stroke="#008000" stroke-width="1.8"/>
<text transform="translate(387.60 178.50) scale(1.36 1)" font-size="9" text-anchor="start" fill="#000" stroke="#000" stroke-width="0.22" >r<tspan stroke-width="0.12" font-size="11.5" dy="1.2">=</tspan><tspan dy="-1.2" font-size="1"> </tspan>0.6</text>
<path d="M356.3 186.5H384.8" stroke="#ff0000" stroke-width="1.8"/>
<text transform="translate(387.60 189.60) scale(1.36 1)" font-size="9" text-anchor="start" fill="#000" stroke="#000" stroke-width="0.22" >r<tspan stroke-width="0.12" font-size="11.5" dy="1.2">=</tspan><tspan dy="-1.2" font-size="1"> </tspan>1</text>
<rect x="289.2" y="195.6" width="78.8" height="39.8" fill="#d4d0c8" stroke="#a2a2a2" stroke-width="0.8"/>
<clipPath id="ic"><rect x="289.2" y="195.6" width="78.8" height="39.8"/></clipPath>
<g clip-path="url(#ic)">
<polyline points="289.2,155.8 289.5,158.1 289.8,160.3 290.1,162.2 290.5,164.0 290.8,165.4 291.1,166.7 291.4,168.0 291.7,169.1 292.0,169.9 292.4,170.1 292.7,170.0 293.0,169.5 293.3,169.0 293.6,168.4 293.9,168.0 294.3,167.7 294.6,167.9 294.9,168.4 295.2,169.2 295.5,170.2 295.8,171.4 296.2,172.7 296.5,174.1 296.8,175.4 297.1,176.6 297.4,177.8 297.7,179.1 298.1,180.5 298.4,181.9 298.7,183.3 299.0,184.8 299.3,186.3 299.6,187.8 300.0,189.3 300.3,190.8 300.6,192.3 300.9,193.7 301.2,195.1 301.5,196.5 301.9,197.9 302.2,199.4 302.5,200.8 302.8,202.0 303.1,203.1 303.4,203.9 303.8,204.6 304.1,205.3 304.4,206.0 304.7,206.7 305.0,207.2 305.3,207.7 305.7,208.1 306.0,208.4 306.3,208.5 306.6,208.5 306.9,208.5 307.2,208.5 307.6,208.4 307.9,208.4 308.2,208.3 308.5,208.3 308.8,208.2 309.1,208.2 309.5,208.1 309.8,208.1 310.1,208.0 310.4,208.0 310.7,208.0 311.0,208.1 311.4,208.2 311.7,208.3 312.0,208.6 312.3,208.8 312.6,209.1 312.9,209.5 313.3,209.8 313.6,210.2 313.9,210.6 314.2,210.9 314.5,211.3 314.8,211.6 315.2,211.9 315.5,212.2 315.8,212.5 316.1,212.7 316.4,213.0 316.7,213.2 317.0,213.5 317.4,213.8 317.7,214.0 318.0,214.3 318.3,214.5 318.6,214.8 318.9,215.0 319.3,215.1 319.6,215.3 319.9,215.4 320.2,215.5 320.5,215.5 320.8,215.5 321.2,215.5 321.5,215.5 321.8,215.5 322.1,215.5 322.4,215.4 322.7,215.4 323.1,215.4 323.4,215.4 323.7,215.4 324.0,215.3 324.3,215.3 324.6,215.3 325.0,215.3 325.3,215.3 325.6,215.3 325.9,215.3 326.2,215.3 326.5,215.3 326.9,215.3 327.2,215.4 327.5,215.4 327.8,215.5 328.1,215.6 328.4,215.7 328.8,215.9 329.1,216.0 329.4,216.2 329.7,216.3 330.0,216.5 330.3,216.6 330.7,216.8 331.0,216.9 331.3,217.1 331.6,217.2 331.9,217.4 332.2,217.5 332.6,217.6 332.9,217.7 333.2,217.8 333.5,217.9 333.8,218.0 334.1,218.1 334.5,218.1 334.8,218.2 335.1,218.3 335.4,218.4 335.7,218.5 336.0,218.5 336.4,218.6 336.7,218.7 337.0,218.8 337.3,218.8 337.6,218.9 337.9,219.0 338.3,219.0 338.6,219.1 338.9,219.2 339.2,219.2 339.5,219.3 339.8,219.4 340.2,219.4 340.5,219.5 340.8,219.6 341.1,219.6 341.4,219.7 341.7,219.7 342.0,219.8 342.4,219.9 342.7,219.9 343.0,220.0 343.3,220.0 343.6,220.1 343.9,220.2 344.3,220.2 344.6,220.3 344.9,220.3 345.2,220.4 345.5,220.4 345.8,220.5 346.2,220.5 346.5,220.6 346.8,220.6 347.1,220.7 347.4,220.7 347.7,220.8 348.1,220.8 348.4,220.9 348.7,220.9 349.0,221.0 349.3,221.0 349.6,221.1 350.0,221.1 350.3,221.2 350.6,221.2 350.9,221.3 351.2,221.3 351.5,221.4 351.9,221.4 352.2,221.5 352.5,221.5 352.8,221.6 353.1,221.6 353.4,221.7 353.8,221.7 354.1,221.7 354.4,221.8 354.7,221.8 355.0,221.9 355.3,221.9 355.7,222.0 356.0,222.0 356.3,222.1 356.6,222.1 356.9,222.2 357.2,222.2 357.6,222.3 357.9,222.3 358.2,222.4 358.5,222.4 358.8,222.5 359.1,222.5 359.5,222.6 359.8,222.6 360.1,222.6 360.4,222.7 360.7,222.7 361.0,222.8 361.4,222.8 361.7,222.9 362.0,222.9 362.3,223.0 362.6,223.0 362.9,223.0 363.3,223.1 363.6,223.1 363.9,223.2 364.2,223.2 364.5,223.3 364.8,223.3 365.2,223.3 365.5,223.4 365.8,223.4 366.1,223.5 366.4,223.5 366.7,223.5 367.1,223.6 367.4,223.6 367.7,223.7 368.0,223.7" fill="none" stroke="#0000ff" stroke-width="1.8" stroke-linejoin="round"/>
<polyline points="289.2,155.8 289.5,157.7 289.8,159.7 290.1,161.7 290.5,163.7 290.8,165.7 291.1,167.7 291.4,169.7 291.7,171.7 292.0,173.7 292.4,175.8 292.7,177.8 293.0,179.8 293.3,181.9 293.6,183.9 293.9,185.9 294.3,188.0 294.6,190.1 294.9,192.3 295.2,194.6 295.5,197.0 295.8,199.7 296.2,202.6 296.5,205.4 296.8,207.9 297.1,210.1 297.4,212.1 297.7,214.0 298.1,215.8 298.4,217.4 298.7,218.7 299.0,219.6 299.3,220.3 299.6,220.8 300.0,221.3 300.3,221.7 300.6,222.0 300.9,222.4 301.2,222.7 301.5,223.0 301.9,223.3 302.2,223.6 302.5,223.9 302.8,224.2 303.1,224.6 303.4,224.9 303.8,225.2 304.1,225.5 304.4,225.8 304.7,226.1 305.0,226.3 305.3,226.6 305.7,226.8 306.0,227.1 306.3,227.3 306.6,227.5 306.9,227.6 307.2,227.8 307.6,227.9 307.9,228.1 308.2,228.2 308.5,228.4 308.8,228.5 309.1,228.6 309.5,228.7 309.8,228.8 310.1,228.9 310.4,229.1 310.7,229.2 311.0,229.3 311.4,229.4 311.7,229.4 312.0,229.5 312.3,229.6 312.6,229.7 312.9,229.8 313.3,229.9 313.6,229.9 313.9,230.0 314.2,230.1 314.5,230.2 314.8,230.2 315.2,230.3 315.5,230.4 315.8,230.5 316.1,230.5 316.4,230.6 316.7,230.7 317.0,230.7 317.4,230.8 317.7,230.8 318.0,230.9 318.3,231.0 318.6,231.0 318.9,231.1 319.3,231.2 319.6,231.2 319.9,231.3 320.2,231.3 320.5,231.4 320.8,231.4 321.2,231.5 321.5,231.5 321.8,231.6 322.1,231.6 322.4,231.7 322.7,231.7 323.1,231.8 323.4,231.8 323.7,231.9 324.0,231.9 324.3,231.9 324.6,232.0 325.0,232.0 325.3,232.1 325.6,232.1 325.9,232.1 326.2,232.2 326.5,232.2 326.9,232.2 327.2,232.3 327.5,232.3 327.8,232.3 328.1,232.4 328.4,232.4 328.8,232.4 329.1,232.4 329.4,232.5 329.7,232.5 330.0,232.5 330.3,232.6 330.7,232.6 331.0,232.6 331.3,232.6 331.6,232.7 331.9,232.7 332.2,232.7 332.6,232.7 332.9,232.8 333.2,232.8 333.5,232.8 333.8,232.8 334.1,232.9 334.5,232.9 334.8,232.9 335.1,232.9 335.4,232.9 335.7,233.0 336.0,233.0 336.4,233.0 336.7,233.0 337.0,233.0 337.3,233.1 337.6,233.1 337.9,233.1 338.3,233.1 338.6,233.1 338.9,233.2 339.2,233.2 339.5,233.2 339.8,233.2 340.2,233.2 340.5,233.2 340.8,233.3 341.1,233.3 341.4,233.3 341.7,233.3 342.0,233.3 342.4,233.3 342.7,233.3 343.0,233.4 343.3,233.4 343.6,233.4 343.9,233.4 344.3,233.4 344.6,233.4 344.9,233.4 345.2,233.5 345.5,233.5 345.8,233.5 346.2,233.5 346.5,233.5 346.8,233.5 347.1,233.5 347.4,233.5 347.7,233.6 348.1,233.6 348.4,233.6 348.7,233.6 349.0,233.6 349.3,233.6 349.6,233.6 350.0,233.6 350.3,233.7 350.6,233.7 350.9,233.7 351.2,233.7 351.5,233.7 351.9,233.7 352.2,233.7 352.5,233.7 352.8,233.7 353.1,233.7 353.4,233.8 353.8,233.8 354.1,233.8 354.4,233.8 354.7,233.8 355.0,233.8 355.3,233.8 355.7,233.8 356.0,233.8 356.3,233.8 356.6,233.9 356.9,233.9 357.2,233.9 357.6,233.9 357.9,233.9 358.2,233.9 358.5,233.9 358.8,233.9 359.1,233.9 359.5,233.9 359.8,233.9 360.1,233.9 360.4,234.0 360.7,234.0 361.0,234.0 361.4,234.0 361.7,234.0 362.0,234.0 362.3,234.0 362.6,234.0 362.9,234.0 363.3,234.0 363.6,234.0 363.9,234.0 364.2,234.0 364.5,234.1 364.8,234.1 365.2,234.1 365.5,234.1 365.8,234.1 366.1,234.1 366.4,234.1 366.7,234.1 367.1,234.1 367.4,234.1 367.7,234.1 368.0,234.1" fill="none" stroke="#008000" stroke-width="1.8" stroke-linejoin="round"/>
<polyline points="289.2,155.8 289.5,162.6 289.8,169.0 290.1,175.1 290.5,180.9 290.8,186.3 291.1,191.2 291.4,195.7 291.7,199.9 292.0,203.8 292.4,207.5 292.7,210.9 293.0,213.9 293.3,216.6 293.6,219.0 293.9,221.3 294.3,223.4 294.6,225.2 294.9,226.8 295.2,228.0 295.5,228.9 295.8,229.7 296.2,230.4 296.5,231.0 296.8,231.6 297.1,232.1 297.4,232.6 297.7,232.9 298.1,233.2 298.4,233.4 298.7,233.6 299.0,233.8 299.3,234.0 299.6,234.1 300.0,234.3 300.3,234.4 300.6,234.5 300.9,234.7 301.2,234.8 301.5,234.9 301.9,234.9 302.2,235.0 302.5,235.1 302.8,235.1 303.1,235.1 303.4,235.2 303.8,235.2 304.1,235.2 304.4,235.2 304.7,235.2 305.0,235.2 305.3,235.3 305.7,235.3 306.0,235.3 306.3,235.3 306.6,235.3 306.9,235.3 307.2,235.3 307.6,235.3 307.9,235.3 308.2,235.3 308.5,235.4 308.8,235.4 309.1,235.4 309.5,235.4 309.8,235.4 310.1,235.4 310.4,235.4 310.7,235.4 311.0,235.4 311.4,235.4 311.7,235.4 312.0,235.4 312.3,235.4 312.6,235.4 312.9,235.4 313.3,235.4 313.6,235.4 313.9,235.4 314.2,235.4 314.5,235.4 314.8,235.4 315.2,235.4 315.5,235.4 315.8,235.4 316.1,235.4 316.4,235.4 316.7,235.4 317.0,235.4 317.4,235.4 317.7,235.4 318.0,235.4 318.3,235.4 318.6,235.4 318.9,235.4 319.3,235.4 319.6,235.4 319.9,235.4 320.2,235.4 320.5,235.4 320.8,235.4 321.2,235.4 321.5,235.4 321.8,235.4 322.1,235.4 322.4,235.4 322.7,235.4 323.1,235.4 323.4,235.4 323.7,235.4 324.0,235.4 324.3,235.4 324.6,235.4 325.0,235.4 325.3,235.4 325.6,235.4 325.9,235.4 326.2,235.4 326.5,235.4 326.9,235.4 327.2,235.4 327.5,235.4 327.8,235.4 328.1,235.4 328.4,235.4 328.8,235.4 329.1,235.4 329.4,235.4 329.7,235.4 330.0,235.4 330.3,235.4 330.7,235.4 331.0,235.4 331.3,235.4 331.6,235.4 331.9,235.4 332.2,235.4 332.6,235.4 332.9,235.4 333.2,235.4 333.5,235.4 333.8,235.4 334.1,235.4 334.5,235.4 334.8,235.4 335.1,235.4 335.4,235.4 335.7,235.4 336.0,235.4 336.4,235.4 336.7,235.4 337.0,235.4 337.3,235.4 337.6,235.4 337.9,235.4 338.3,235.4 338.6,235.4 338.9,235.4 339.2,235.4 339.5,235.4 339.8,235.4 340.2,235.4 340.5,235.4 340.8,235.4 341.1,235.4 341.4,235.4 341.7,235.4 342.0,235.4 342.4,235.4 342.7,235.4 343.0,235.4 343.3,235.4 343.6,235.4 343.9,235.4 344.3,235.4 344.6,235.4 344.9,235.4 345.2,235.4 345.5,235.4 345.8,235.4 346.2,235.4 346.5,235.4 346.8,235.4 347.1,235.4 347.4,235.4 347.7,235.4 348.1,235.4 348.4,235.4 348.7,235.4 349.0,235.4 349.3,235.4 349.6,235.4 350.0,235.4 350.3,235.4 350.6,235.4 350.9,235.4 351.2,235.4 351.5,235.4 351.9,235.4 352.2,235.4 352.5,235.4 352.8,235.4 353.1,235.4 353.4,235.4 353.8,235.4 354.1,235.4 354.4,235.4 354.7,235.4 355.0,235.4 355.3,235.4 355.7,235.4 356.0,235.4 356.3,235.4 356.6,235.4 356.9,235.4 357.2,235.4 357.6,235.4 357.9,235.4 358.2,235.4 358.5,235.4 358.8,235.4 359.1,235.4 359.5,235.4 359.8,235.4 360.1,235.4 360.4,235.4 360.7,235.4 361.0,235.4 361.4,235.4 361.7,235.4 362.0,235.4 362.3,235.4 362.6,235.4 362.9,235.4 363.3,235.4 363.6,235.4 363.9,235.4 364.2,235.4 364.5,235.4 364.8,235.4 365.2,235.4 365.5,235.4 365.8,235.4 366.1,235.4 366.4,235.4 366.7,235.4 367.1,235.4 367.4,235.4 367.7,235.4 368.0,235.4" fill="none" stroke="#ff0000" stroke-width="1.8" stroke-linejoin="round"/>
</g>
<text transform="translate(289.20 245.60) scale(1.55 1)" font-size="9" text-anchor="middle" fill="#000" stroke="#000" stroke-width="0.22" >0</text>
<text transform="translate(328.60 245.60) scale(1.55 1)" font-size="9" text-anchor="middle" fill="#000" stroke="#000" stroke-width="0.22" >0.5</text>
<text transform="translate(368.00 245.60) scale(1.55 1)" font-size="9" text-anchor="middle" fill="#000" stroke="#000" stroke-width="0.22" >1</text>
<text transform="translate(286.50 238.50) scale(1.55 1)" font-size="9" text-anchor="end" fill="#000" stroke="#000" stroke-width="0.22" >0</text>
<text transform="translate(286.50 218.60) scale(1.55 1)" font-size="9" text-anchor="end" fill="#000" stroke="#000" stroke-width="0.22" >0.25</text>
<text transform="translate(286.50 198.70) scale(1.55 1)" font-size="9" text-anchor="end" fill="#000" stroke="#000" stroke-width="0.22" >0.5</text>
</svg></body></html>
